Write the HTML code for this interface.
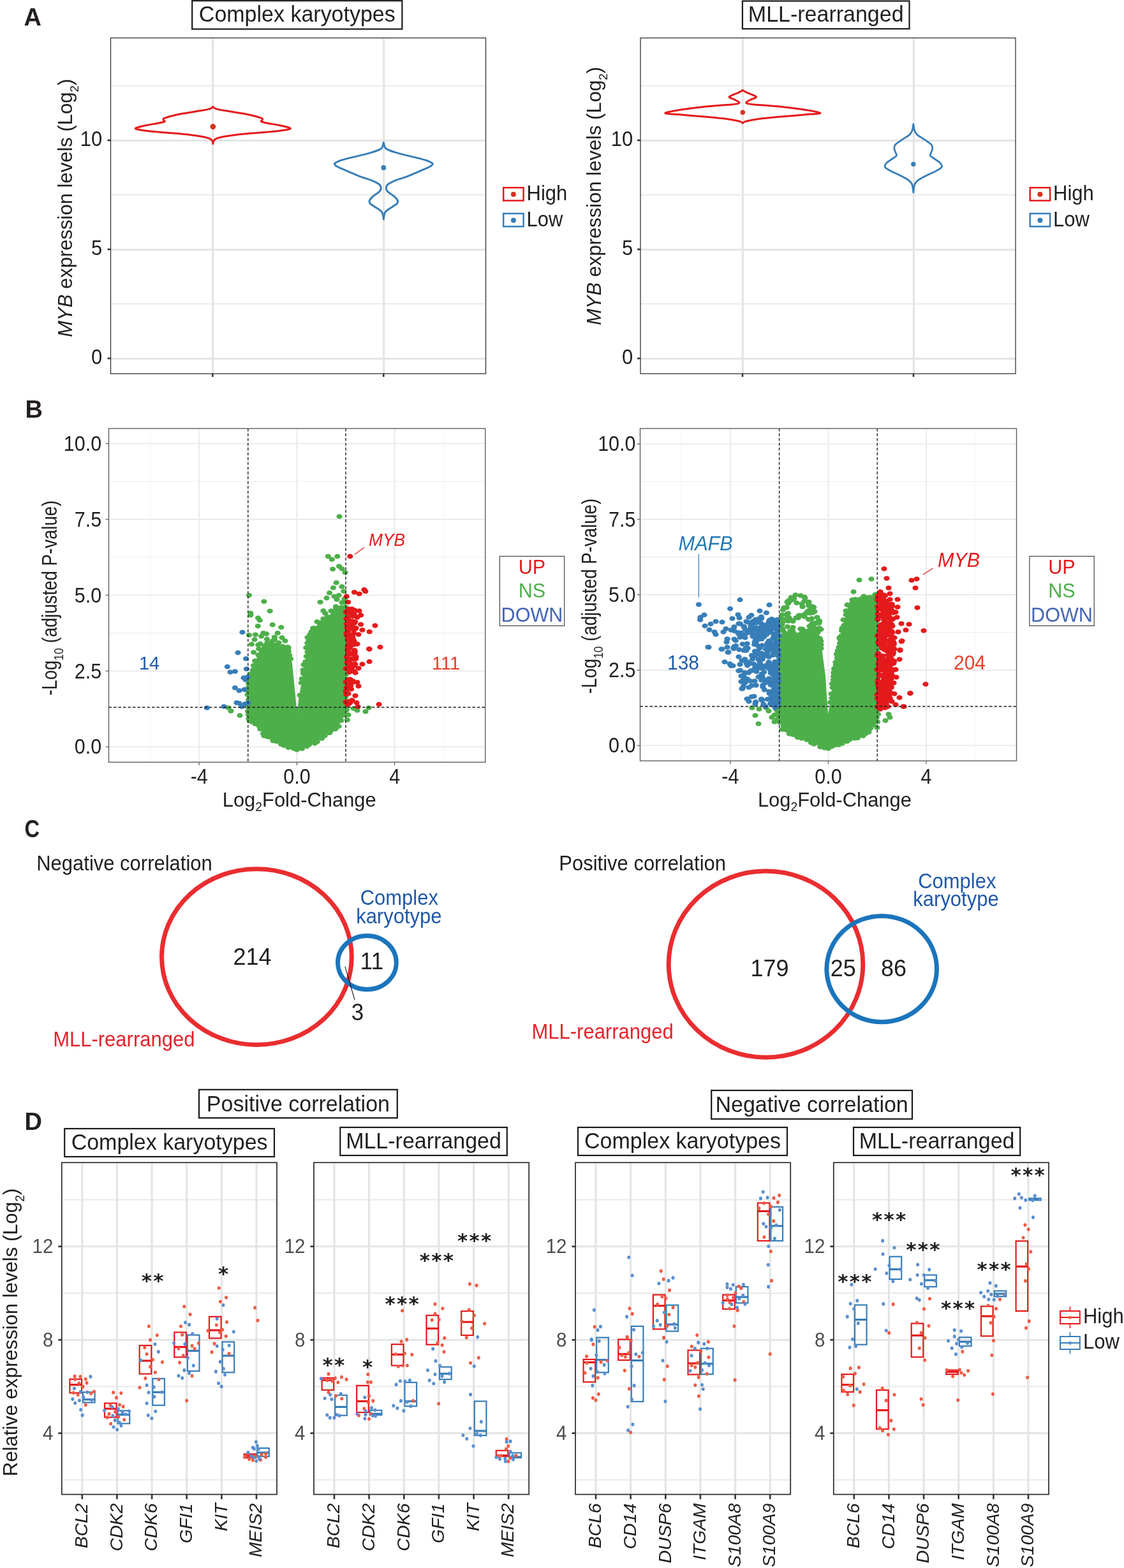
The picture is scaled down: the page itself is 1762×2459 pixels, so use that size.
<!DOCTYPE html>
<html><head><meta charset="utf-8"><title>Figure</title>
<style>html,body{margin:0;padding:0;background:#fff;}svg{display:block;}</style></head>
<body><svg width="1762" height="2459" viewBox="0 0 1762 2459" font-family='"Liberation Sans", Arial, Helvetica, sans-serif' fill="#221e1f">
<rect width="1762" height="2459" fill="#fff"/>
<text x="37.5" y="40" font-size="38" font-weight="bold" fill="#231f20" transform="translate(37.5 40) scale(1.0 1) translate(-37.5 -40)">A</text>
<text x="39.5" y="654.5" font-size="38" font-weight="bold" fill="#231f20" transform="translate(39.5 654.5) scale(1.0 1) translate(-39.5 -654.5)">B</text>
<text x="38.5" y="1313.5" font-size="38" font-weight="bold" fill="#231f20" transform="translate(38.5 1313.5) scale(0.86 1) translate(-38.5 -1313.5)">C</text>
<text x="38.5" y="1772" font-size="38" font-weight="bold" fill="#231f20" transform="translate(38.5 1772) scale(1.0 1) translate(-38.5 -1772)">D</text>
<line x1="173.5" y1="476.5" x2="761.5" y2="476.5" stroke="#e9e9e9" stroke-width="2"/>
<line x1="173.5" y1="305.5" x2="761.5" y2="305.5" stroke="#e9e9e9" stroke-width="2"/>
<line x1="173.5" y1="134.5" x2="761.5" y2="134.5" stroke="#e9e9e9" stroke-width="2"/>
<line x1="173.5" y1="562.4" x2="761.5" y2="562.4" stroke="#e3e5e4" stroke-width="3"/>
<line x1="173.5" y1="391.4" x2="761.5" y2="391.4" stroke="#e3e5e4" stroke-width="3"/>
<line x1="173.5" y1="220.4" x2="761.5" y2="220.4" stroke="#e3e5e4" stroke-width="3"/>
<line x1="333.7" y1="59.5" x2="333.7" y2="586.0" stroke="#e3e5e4" stroke-width="3.2"/>
<line x1="601.7" y1="59.5" x2="601.7" y2="586.0" stroke="#e3e5e4" stroke-width="3.2"/>
<rect x="173.5" y="59.5" width="588.0" height="526.5" fill="none" stroke="#333333" stroke-width="1.3"/>
<line x1="168.5" y1="562.0" x2="173.5" y2="562.0" stroke="#333333" stroke-width="2.6"/>
<text x="0" y="0" font-size="31" text-anchor="end" transform="translate(160.3 571.1) scale(1.0 1.07)">0</text>
<line x1="168.5" y1="391.0" x2="173.5" y2="391.0" stroke="#333333" stroke-width="2.6"/>
<text x="0" y="0" font-size="31" text-anchor="end" transform="translate(160.3 400.1) scale(1.0 1.07)">5</text>
<line x1="168.5" y1="220.0" x2="173.5" y2="220.0" stroke="#333333" stroke-width="2.6"/>
<text x="0" y="0" font-size="31" text-anchor="end" transform="translate(160.3 229.1) scale(1.0 1.07)">10</text>
<line x1="333.3" y1="586.0" x2="333.3" y2="591.0" stroke="#333333" stroke-width="2.6"/>
<line x1="601.3" y1="586.0" x2="601.3" y2="591.0" stroke="#333333" stroke-width="2.6"/>
<rect x="301.2" y="1.2" width="329.2" height="44.4" fill="none" stroke="#1a1a1a" stroke-width="2.2"/>
<text x="0" y="0" font-size="34" text-anchor="middle" transform="translate(465.8 33.6) scale(1 1.045)">Complex karyotypes</text>
<line x1="1004.0" y1="476.5" x2="1592.0" y2="476.5" stroke="#e9e9e9" stroke-width="2"/>
<line x1="1004.0" y1="305.5" x2="1592.0" y2="305.5" stroke="#e9e9e9" stroke-width="2"/>
<line x1="1004.0" y1="134.5" x2="1592.0" y2="134.5" stroke="#e9e9e9" stroke-width="2"/>
<line x1="1004.0" y1="562.4" x2="1592.0" y2="562.4" stroke="#e3e5e4" stroke-width="3"/>
<line x1="1004.0" y1="391.4" x2="1592.0" y2="391.4" stroke="#e3e5e4" stroke-width="3"/>
<line x1="1004.0" y1="220.4" x2="1592.0" y2="220.4" stroke="#e3e5e4" stroke-width="3"/>
<line x1="1164.4" y1="59.5" x2="1164.4" y2="586.0" stroke="#e3e5e4" stroke-width="3.2"/>
<line x1="1432.4" y1="59.5" x2="1432.4" y2="586.0" stroke="#e3e5e4" stroke-width="3.2"/>
<rect x="1004.0" y="59.5" width="588.0" height="526.5" fill="none" stroke="#333333" stroke-width="1.3"/>
<line x1="999.0" y1="562.0" x2="1004.0" y2="562.0" stroke="#333333" stroke-width="2.6"/>
<text x="0" y="0" font-size="31" text-anchor="end" transform="translate(992.3 571.1) scale(1.0 1.07)">0</text>
<line x1="999.0" y1="391.0" x2="1004.0" y2="391.0" stroke="#333333" stroke-width="2.6"/>
<text x="0" y="0" font-size="31" text-anchor="end" transform="translate(992.3 400.1) scale(1.0 1.07)">5</text>
<line x1="999.0" y1="220.0" x2="1004.0" y2="220.0" stroke="#333333" stroke-width="2.6"/>
<text x="0" y="0" font-size="31" text-anchor="end" transform="translate(992.3 229.1) scale(1.0 1.07)">10</text>
<line x1="1164.0" y1="586.0" x2="1164.0" y2="591.0" stroke="#333333" stroke-width="2.6"/>
<line x1="1432.0" y1="586.0" x2="1432.0" y2="591.0" stroke="#333333" stroke-width="2.6"/>
<rect x="1163.9" y="1.6" width="261.6" height="43.6" fill="none" stroke="#1a1a1a" stroke-width="2.2"/>
<text x="0" y="0" font-size="34" text-anchor="middle" transform="translate(1294.7 33.6) scale(1 1.045)">MLL-rearranged</text>
<path d="M333.80,167.30 C334.17,167.67 334.63,168.78 336.00,169.50 C337.37,170.22 338.87,170.88 342.00,171.60 C345.13,172.32 350.50,173.08 354.80,173.80 C359.10,174.52 363.47,175.18 367.80,175.90 C372.13,176.62 376.47,177.30 380.80,178.10 C385.13,178.90 389.97,179.83 393.80,180.70 C397.63,181.57 400.97,182.45 403.80,183.30 C406.63,184.15 409.55,184.95 410.80,185.80 C412.05,186.65 411.50,187.60 411.30,188.40 C411.10,189.20 408.23,189.80 409.60,190.60 C410.97,191.40 414.97,192.27 419.50,193.20 C424.03,194.13 431.48,195.13 436.80,196.20 C442.12,197.27 448.40,198.60 451.40,199.60 C454.40,200.60 456.57,201.33 454.80,202.20 C453.03,203.07 446.68,204.00 440.80,204.80 C434.92,205.60 427.33,206.28 419.50,207.00 C411.67,207.72 402.42,208.32 393.80,209.10 C385.18,209.88 375.00,210.83 367.80,211.70 C360.60,212.57 355.18,213.43 350.60,214.30 C346.02,215.17 342.73,216.05 340.30,216.90 C337.87,217.75 337.00,218.47 336.00,219.40 C335.00,220.33 334.67,221.48 334.30,222.50 C333.93,223.52 333.88,225.00 333.80,225.50 C333.72,225.00 333.67,223.52 333.30,222.50 C332.93,221.48 332.60,220.33 331.60,219.40 C330.60,218.47 329.73,217.75 327.30,216.90 C324.87,216.05 321.58,215.17 317.00,214.30 C312.42,213.43 307.00,212.57 299.80,211.70 C292.60,210.83 282.42,209.88 273.80,209.10 C265.18,208.32 255.93,207.72 248.10,207.00 C240.27,206.28 232.68,205.60 226.80,204.80 C220.92,204.00 214.57,203.07 212.80,202.20 C211.03,201.33 213.20,200.60 216.20,199.60 C219.20,198.60 225.48,197.27 230.80,196.20 C236.12,195.13 243.57,194.13 248.10,193.20 C252.63,192.27 256.63,191.40 258.00,190.60 C259.37,189.80 256.50,189.20 256.30,188.40 C256.10,187.60 255.55,186.65 256.80,185.80 C258.05,184.95 260.97,184.15 263.80,183.30 C266.63,182.45 269.97,181.57 273.80,180.70 C277.63,179.83 282.47,178.90 286.80,178.10 C291.13,177.30 295.47,176.62 299.80,175.90 C304.13,175.18 308.50,174.52 312.80,173.80 C317.10,173.08 322.47,172.32 325.60,171.60 C328.73,170.88 330.23,170.22 331.60,169.50 C332.97,168.78 333.43,167.67 333.80,167.30 Z" fill="none" stroke="#e41a1c" stroke-width="3" stroke-linejoin="round"/>
<circle cx="333.8" cy="198.6" r="4.4" fill="#d7301f"/>
<path d="M601.30,223.40 C601.52,224.27 602.05,227.07 602.60,228.60 C603.15,230.13 603.40,231.45 604.60,232.60 C605.80,233.75 607.32,234.45 609.80,235.50 C612.28,236.55 615.48,237.67 619.50,238.90 C623.52,240.13 628.63,241.57 633.90,242.90 C639.17,244.23 645.37,245.47 651.10,246.90 C656.83,248.33 664.00,250.07 668.30,251.50 C672.60,252.93 675.28,254.45 676.90,255.50 C678.52,256.55 678.48,256.83 678.00,257.80 C677.52,258.77 676.38,259.95 674.00,261.30 C671.62,262.65 667.62,264.18 663.70,265.90 C659.78,267.62 655.00,269.70 650.50,271.60 C646.00,273.50 641.87,275.38 636.70,277.30 C631.53,279.22 624.18,281.18 619.50,283.10 C614.82,285.02 610.88,287.18 608.60,288.80 C606.32,290.42 606.32,291.55 605.80,292.80 C605.28,294.05 605.22,295.05 605.50,296.30 C605.78,297.55 606.12,298.87 607.50,300.30 C608.88,301.73 611.80,303.38 613.80,304.90 C615.80,306.42 617.97,307.88 619.50,309.40 C621.03,310.92 622.33,312.85 623.00,314.00 C623.67,315.15 623.70,315.33 623.50,316.30 C623.30,317.27 623.23,318.45 621.80,319.80 C620.37,321.15 617.18,322.88 614.90,324.40 C612.62,325.92 609.90,327.57 608.10,328.90 C606.30,330.23 605.07,330.97 604.10,332.40 C603.13,333.83 602.77,335.58 602.30,337.50 C601.83,339.42 601.47,342.83 601.30,343.90 C601.13,342.83 600.77,339.42 600.30,337.50 C599.83,335.58 599.47,333.83 598.50,332.40 C597.53,330.97 596.30,330.23 594.50,328.90 C592.70,327.57 589.98,325.92 587.70,324.40 C585.42,322.88 582.23,321.15 580.80,319.80 C579.37,318.45 579.30,317.27 579.10,316.30 C578.90,315.33 578.93,315.15 579.60,314.00 C580.27,312.85 581.57,310.92 583.10,309.40 C584.63,307.88 586.80,306.42 588.80,304.90 C590.80,303.38 593.72,301.73 595.10,300.30 C596.48,298.87 596.82,297.55 597.10,296.30 C597.38,295.05 597.32,294.05 596.80,292.80 C596.28,291.55 596.28,290.42 594.00,288.80 C591.72,287.18 587.78,285.02 583.10,283.10 C578.42,281.18 571.07,279.22 565.90,277.30 C560.73,275.38 556.60,273.50 552.10,271.60 C547.60,269.70 542.82,267.62 538.90,265.90 C534.98,264.18 530.98,262.65 528.60,261.30 C526.22,259.95 525.08,258.77 524.60,257.80 C524.12,256.83 524.08,256.55 525.70,255.50 C527.32,254.45 530.00,252.93 534.30,251.50 C538.60,250.07 545.77,248.33 551.50,246.90 C557.23,245.47 563.43,244.23 568.70,242.90 C573.97,241.57 579.08,240.13 583.10,238.90 C587.12,237.67 590.32,236.55 592.80,235.50 C595.28,234.45 596.80,233.75 598.00,232.60 C599.20,231.45 599.45,230.13 600.00,228.60 C600.55,227.07 601.08,224.27 601.30,223.40 Z" fill="none" stroke="#377eb8" stroke-width="3" stroke-linejoin="round"/>
<circle cx="601.3" cy="263.0" r="3.9" fill="#377eb8"/>
<path d="M1164.30,141.30 C1164.80,141.63 1165.97,142.55 1167.30,143.30 C1168.63,144.05 1170.37,144.97 1172.30,145.80 C1174.23,146.63 1176.97,147.47 1178.90,148.30 C1180.83,149.13 1182.78,150.12 1183.90,150.80 C1185.02,151.48 1185.87,151.85 1185.60,152.40 C1185.33,152.95 1183.85,153.40 1182.30,154.10 C1180.75,154.80 1178.05,155.77 1176.30,156.60 C1174.55,157.43 1172.88,158.42 1171.80,159.10 C1170.72,159.78 1169.88,160.15 1169.80,160.70 C1169.72,161.25 1169.22,161.85 1171.30,162.40 C1173.38,162.95 1176.63,163.45 1182.30,164.00 C1187.97,164.55 1196.97,165.00 1205.30,165.70 C1213.63,166.40 1223.63,167.23 1232.30,168.20 C1240.97,169.17 1249.80,170.38 1257.30,171.50 C1264.80,172.62 1272.63,173.85 1277.30,174.90 C1281.97,175.95 1287.47,177.03 1285.30,177.80 C1283.13,178.57 1271.30,178.88 1264.30,179.50 C1257.30,180.12 1249.97,180.92 1243.30,181.50 C1236.63,182.08 1230.63,182.45 1224.30,183.00 C1217.97,183.55 1211.13,184.22 1205.30,184.80 C1199.47,185.38 1193.70,185.93 1189.30,186.50 C1184.90,187.07 1182.07,187.62 1178.90,188.20 C1175.73,188.78 1172.40,189.45 1170.30,190.00 C1168.20,190.55 1167.30,190.98 1166.30,191.50 C1165.30,192.02 1164.63,192.83 1164.30,193.10 C1163.97,192.83 1163.30,192.02 1162.30,191.50 C1161.30,190.98 1160.40,190.55 1158.30,190.00 C1156.20,189.45 1152.87,188.78 1149.70,188.20 C1146.53,187.62 1143.70,187.07 1139.30,186.50 C1134.90,185.93 1129.13,185.38 1123.30,184.80 C1117.47,184.22 1110.63,183.55 1104.30,183.00 C1097.97,182.45 1091.97,182.08 1085.30,181.50 C1078.63,180.92 1071.30,180.12 1064.30,179.50 C1057.30,178.88 1045.47,178.57 1043.30,177.80 C1041.13,177.03 1046.63,175.95 1051.30,174.90 C1055.97,173.85 1063.80,172.62 1071.30,171.50 C1078.80,170.38 1087.63,169.17 1096.30,168.20 C1104.97,167.23 1114.97,166.40 1123.30,165.70 C1131.63,165.00 1140.63,164.55 1146.30,164.00 C1151.97,163.45 1155.22,162.95 1157.30,162.40 C1159.38,161.85 1158.88,161.25 1158.80,160.70 C1158.72,160.15 1157.88,159.78 1156.80,159.10 C1155.72,158.42 1154.05,157.43 1152.30,156.60 C1150.55,155.77 1147.85,154.80 1146.30,154.10 C1144.75,153.40 1143.27,152.95 1143.00,152.40 C1142.73,151.85 1143.58,151.48 1144.70,150.80 C1145.82,150.12 1147.77,149.13 1149.70,148.30 C1151.63,147.47 1154.37,146.63 1156.30,145.80 C1158.23,144.97 1159.97,144.05 1161.30,143.30 C1162.63,142.55 1163.80,141.63 1164.30,141.30 Z" fill="none" stroke="#e41a1c" stroke-width="3" stroke-linejoin="round"/>
<circle cx="1164.3" cy="176.2" r="3.7" fill="#d7301f"/>
<path d="M1431.80,194.60 C1431.97,195.67 1432.47,199.27 1432.80,201.00 C1433.13,202.73 1432.97,203.27 1433.80,205.00 C1434.63,206.73 1435.30,209.13 1437.80,211.40 C1440.30,213.67 1445.13,216.07 1448.80,218.60 C1452.47,221.13 1457.63,224.20 1459.80,226.60 C1461.97,229.00 1461.83,230.87 1461.80,233.00 C1461.77,235.13 1460.18,237.53 1459.60,239.40 C1459.02,241.27 1457.43,242.60 1458.30,244.20 C1459.17,245.80 1462.25,247.13 1464.80,249.00 C1467.35,250.87 1471.67,253.27 1473.60,255.40 C1475.53,257.53 1477.47,259.67 1476.40,261.80 C1475.33,263.93 1471.00,266.07 1467.20,268.20 C1463.40,270.33 1457.87,272.47 1453.60,274.60 C1449.33,276.73 1444.57,279.10 1441.60,281.00 C1438.63,282.90 1437.18,284.33 1435.80,286.00 C1434.42,287.67 1433.97,288.37 1433.30,291.00 C1432.63,293.63 1432.05,300.00 1431.80,301.80 C1431.55,300.00 1430.97,293.63 1430.30,291.00 C1429.63,288.37 1429.18,287.67 1427.80,286.00 C1426.42,284.33 1424.97,282.90 1422.00,281.00 C1419.03,279.10 1414.27,276.73 1410.00,274.60 C1405.73,272.47 1400.20,270.33 1396.40,268.20 C1392.60,266.07 1388.27,263.93 1387.20,261.80 C1386.13,259.67 1388.07,257.53 1390.00,255.40 C1391.93,253.27 1396.25,250.87 1398.80,249.00 C1401.35,247.13 1404.43,245.80 1405.30,244.20 C1406.17,242.60 1404.58,241.27 1404.00,239.40 C1403.42,237.53 1401.83,235.13 1401.80,233.00 C1401.77,230.87 1401.63,229.00 1403.80,226.60 C1405.97,224.20 1411.13,221.13 1414.80,218.60 C1418.47,216.07 1423.30,213.67 1425.80,211.40 C1428.30,209.13 1428.97,206.73 1429.80,205.00 C1430.63,203.27 1430.47,202.73 1430.80,201.00 C1431.13,199.27 1431.63,195.67 1431.80,194.60 Z" fill="none" stroke="#377eb8" stroke-width="2.8" stroke-linejoin="round"/>
<circle cx="1431.8" cy="257.4" r="3.7" fill="#377eb8"/>
<rect x="789.2" y="294.3" width="31.4" height="20.3" fill="none" stroke="#e41a1c" stroke-width="2.5"/>
<circle cx="804.9" cy="304.8" r="4" fill="#d7301f"/>
<text x="0" y="0" font-size="31" transform="translate(825.6 313.9) scale(1 1.045)">High</text>
<rect x="789.2" y="334.9" width="31.4" height="20.3" fill="none" stroke="#377eb8" stroke-width="2.5"/>
<circle cx="804.9" cy="345.4" r="4" fill="#377eb8"/>
<text x="0" y="0" font-size="31" transform="translate(825.6 354.9) scale(1 1.045)">Low</text>
<rect x="1614.7" y="294.3" width="31.4" height="20.3" fill="none" stroke="#e41a1c" stroke-width="2.5"/>
<circle cx="1630.4" cy="304.8" r="4" fill="#d7301f"/>
<text x="0" y="0" font-size="31" transform="translate(1651.1 313.9) scale(1 1.045)">High</text>
<rect x="1614.7" y="334.9" width="31.4" height="20.3" fill="none" stroke="#377eb8" stroke-width="2.5"/>
<circle cx="1630.4" cy="345.4" r="4" fill="#377eb8"/>
<text x="0" y="0" font-size="31" transform="translate(1651.1 354.9) scale(1 1.045)">Low</text>
<text x="113" y="326.2" font-size="31" text-anchor="middle" transform="rotate(-90 113 326.2)"><tspan font-style="italic">MYB</tspan> expression levels (Log<tspan font-size="19" dy="10">2</tspan><tspan dy="-10">)</tspan></text>
<text x="941.5" y="307.5" font-size="31" text-anchor="middle" transform="rotate(-90 941.5 307.5)"><tspan font-style="italic">MYB</tspan> expression levels (Log<tspan font-size="19" dy="10">2</tspan><tspan dy="-10">)</tspan></text>
<line x1="170.5" y1="1111.8" x2="760.8" y2="1111.8" stroke="#ebebeb" stroke-width="1.1"/>
<line x1="170.5" y1="992.9" x2="760.8" y2="992.9" stroke="#ebebeb" stroke-width="1.1"/>
<line x1="170.5" y1="874.0" x2="760.8" y2="874.0" stroke="#ebebeb" stroke-width="1.1"/>
<line x1="170.5" y1="755.0" x2="760.8" y2="755.0" stroke="#ebebeb" stroke-width="1.1"/>
<line x1="235.6" y1="672.0" x2="235.6" y2="1195.3" stroke="#f5f5f5" stroke-width="1.2"/>
<line x1="388.8" y1="672.0" x2="388.8" y2="1195.3" stroke="#f5f5f5" stroke-width="1.2"/>
<line x1="542.0" y1="672.0" x2="542.0" y2="1195.3" stroke="#f5f5f5" stroke-width="1.2"/>
<line x1="695.2" y1="672.0" x2="695.2" y2="1195.3" stroke="#f5f5f5" stroke-width="1.2"/>
<line x1="170.5" y1="1171.2" x2="760.8" y2="1171.2" stroke="#e3e3e3" stroke-width="1.3"/>
<line x1="170.5" y1="1052.3" x2="760.8" y2="1052.3" stroke="#e3e3e3" stroke-width="1.3"/>
<line x1="170.5" y1="933.4" x2="760.8" y2="933.4" stroke="#e3e3e3" stroke-width="1.3"/>
<line x1="170.5" y1="814.5" x2="760.8" y2="814.5" stroke="#e3e3e3" stroke-width="1.3"/>
<line x1="170.5" y1="695.6" x2="760.8" y2="695.6" stroke="#e3e3e3" stroke-width="1.3"/>
<line x1="312.2" y1="672.0" x2="312.2" y2="1195.3" stroke="#ebebeb" stroke-width="2.2"/>
<line x1="465.4" y1="672.0" x2="465.4" y2="1195.3" stroke="#ebebeb" stroke-width="2.2"/>
<line x1="618.6" y1="672.0" x2="618.6" y2="1195.3" stroke="#ebebeb" stroke-width="2.2"/>
<path d="M465.6,1175.6 L452.0,1172.0 L440.0,1166.0 L424.0,1158.0 L412.0,1150.0 L406.0,1140.0 L396.0,1132.0 L390.0,1126.0 L388.6,1115.0 L388.6,1066.0 L394.0,1058.0 L396.0,1044.0 L401.0,1036.0 L404.0,1028.0 L407.0,1018.0 L413.0,1012.0 L420.0,1009.0 L428.0,1007.0 L436.0,1009.0 L443.0,1014.0 L452.0,1014.0 L455.0,1028.0 L458.0,1040.0 L460.0,1060.0 L463.0,1090.0 L465.5,1118.0 L469.0,1090.0 L473.0,1070.0 L476.0,1050.0 L480.0,1030.0 L482.0,1010.0 L483.0,1000.0 L488.0,992.0 L491.0,984.0 L500.0,980.0 L508.0,972.0 L515.0,966.0 L522.0,960.0 L528.0,955.0 L535.0,952.0 L542.0,950.0 L542.0,1114.0 L540.0,1122.0 L536.0,1130.0 L530.0,1138.0 L520.0,1146.0 L510.0,1154.0 L492.0,1166.0 L480.0,1172.0 Z" fill="#4daf4a"/>
<g fill="#4daf4a"><ellipse cx="465.4" cy="1175.8" rx="4.6" ry="3.8"/><ellipse cx="460.2" cy="1173.7" rx="4.6" ry="3.8"/><ellipse cx="452.0" cy="1172.3" rx="4.6" ry="3.8"/><ellipse cx="445.0" cy="1169.0" rx="4.6" ry="3.8"/><ellipse cx="440.4" cy="1166.9" rx="4.6" ry="3.8"/><ellipse cx="433.4" cy="1162.7" rx="4.6" ry="3.8"/><ellipse cx="428.0" cy="1161.7" rx="4.6" ry="3.8"/><ellipse cx="424.6" cy="1156.5" rx="4.6" ry="3.8"/><ellipse cx="419.5" cy="1155.5" rx="4.6" ry="3.8"/><ellipse cx="412.5" cy="1150.4" rx="4.6" ry="3.8"/><ellipse cx="407.9" cy="1143.4" rx="4.6" ry="3.8"/><ellipse cx="406.1" cy="1138.6" rx="4.6" ry="3.8"/><ellipse cx="400.0" cy="1135.2" rx="4.6" ry="3.8"/><ellipse cx="394.5" cy="1131.9" rx="4.6" ry="3.8"/><ellipse cx="389.8" cy="1127.1" rx="4.6" ry="3.8"/><ellipse cx="389.4" cy="1120.9" rx="4.6" ry="3.8"/><ellipse cx="388.6" cy="1115.5" rx="4.6" ry="3.8"/><ellipse cx="388.5" cy="1108.2" rx="4.6" ry="3.8"/><ellipse cx="390.2" cy="1104.3" rx="4.6" ry="3.8"/><ellipse cx="389.7" cy="1097.3" rx="4.6" ry="3.8"/><ellipse cx="388.0" cy="1089.6" rx="4.6" ry="3.8"/><ellipse cx="387.9" cy="1083.0" rx="4.6" ry="3.8"/><ellipse cx="389.5" cy="1077.9" rx="4.6" ry="3.8"/><ellipse cx="389.7" cy="1071.8" rx="4.6" ry="3.8"/><ellipse cx="390.1" cy="1067.1" rx="4.6" ry="3.8"/><ellipse cx="392.4" cy="1057.1" rx="4.6" ry="3.8"/><ellipse cx="396.3" cy="1050.9" rx="4.6" ry="3.8"/><ellipse cx="397.5" cy="1043.7" rx="4.6" ry="3.8"/><ellipse cx="399.6" cy="1036.4" rx="4.6" ry="3.8"/><ellipse cx="404.9" cy="1027.3" rx="4.6" ry="3.8"/><ellipse cx="405.7" cy="1017.5" rx="4.6" ry="3.8"/><ellipse cx="414.5" cy="1012.8" rx="4.6" ry="3.8"/><ellipse cx="418.8" cy="1008.2" rx="4.6" ry="3.8"/><ellipse cx="426.7" cy="1005.6" rx="4.6" ry="3.8"/><ellipse cx="437.0" cy="1008.0" rx="4.6" ry="3.8"/><ellipse cx="443.2" cy="1013.8" rx="4.6" ry="3.8"/><ellipse cx="451.0" cy="1014.7" rx="4.6" ry="3.8"/><ellipse cx="452.3" cy="1021.5" rx="4.6" ry="3.8"/><ellipse cx="453.8" cy="1027.7" rx="4.6" ry="3.8"/><ellipse cx="455.6" cy="1033.3" rx="4.6" ry="3.8"/><ellipse cx="467.5" cy="1113.4" rx="4.6" ry="3.8"/><ellipse cx="470.2" cy="1090.3" rx="4.6" ry="3.8"/><ellipse cx="472.2" cy="1070.7" rx="4.6" ry="3.8"/><ellipse cx="473.2" cy="1064.4" rx="4.6" ry="3.8"/><ellipse cx="475.3" cy="1056.0" rx="4.6" ry="3.8"/><ellipse cx="475.0" cy="1050.7" rx="4.6" ry="3.8"/><ellipse cx="476.0" cy="1042.5" rx="4.6" ry="3.8"/><ellipse cx="478.9" cy="1037.8" rx="4.6" ry="3.8"/><ellipse cx="480.4" cy="1029.3" rx="4.6" ry="3.8"/><ellipse cx="482.0" cy="1022.4" rx="4.6" ry="3.8"/><ellipse cx="479.8" cy="1015.9" rx="4.6" ry="3.8"/><ellipse cx="481.8" cy="1008.6" rx="4.6" ry="3.8"/><ellipse cx="482.0" cy="999.6" rx="4.6" ry="3.8"/><ellipse cx="488.2" cy="990.8" rx="4.6" ry="3.8"/><ellipse cx="490.6" cy="985.3" rx="4.6" ry="3.8"/><ellipse cx="501.5" cy="980.5" rx="4.6" ry="3.8"/><ellipse cx="504.6" cy="976.3" rx="4.6" ry="3.8"/><ellipse cx="506.8" cy="970.5" rx="4.6" ry="3.8"/><ellipse cx="513.5" cy="967.3" rx="4.6" ry="3.8"/><ellipse cx="522.6" cy="961.5" rx="4.6" ry="3.8"/><ellipse cx="526.5" cy="955.4" rx="4.6" ry="3.8"/><ellipse cx="534.9" cy="952.7" rx="4.6" ry="3.8"/><ellipse cx="541.4" cy="951.6" rx="4.6" ry="3.8"/><ellipse cx="540.6" cy="955.8" rx="4.6" ry="3.8"/><ellipse cx="542.8" cy="962.6" rx="4.6" ry="3.8"/><ellipse cx="542.8" cy="967.6" rx="4.6" ry="3.8"/><ellipse cx="542.9" cy="973.9" rx="4.6" ry="3.8"/><ellipse cx="541.5" cy="978.9" rx="4.6" ry="3.8"/><ellipse cx="543.3" cy="985.1" rx="4.6" ry="3.8"/><ellipse cx="541.7" cy="990.5" rx="4.6" ry="3.8"/><ellipse cx="543.2" cy="995.5" rx="4.6" ry="3.8"/><ellipse cx="542.4" cy="1000.5" rx="4.6" ry="3.8"/><ellipse cx="542.3" cy="1006.9" rx="4.6" ry="3.8"/><ellipse cx="540.7" cy="1012.7" rx="4.6" ry="3.8"/><ellipse cx="543.6" cy="1019.1" rx="4.6" ry="3.8"/><ellipse cx="542.7" cy="1023.2" rx="4.6" ry="3.8"/><ellipse cx="542.8" cy="1029.4" rx="4.6" ry="3.8"/><ellipse cx="541.8" cy="1035.9" rx="4.6" ry="3.8"/><ellipse cx="540.7" cy="1041.3" rx="4.6" ry="3.8"/><ellipse cx="540.5" cy="1046.5" rx="4.6" ry="3.8"/><ellipse cx="541.9" cy="1050.9" rx="4.6" ry="3.8"/><ellipse cx="542.6" cy="1057.4" rx="4.6" ry="3.8"/><ellipse cx="542.4" cy="1064.4" rx="4.6" ry="3.8"/><ellipse cx="541.2" cy="1067.2" rx="4.6" ry="3.8"/><ellipse cx="541.4" cy="1075.0" rx="4.6" ry="3.8"/><ellipse cx="541.0" cy="1079.0" rx="4.6" ry="3.8"/><ellipse cx="543.3" cy="1086.2" rx="4.6" ry="3.8"/><ellipse cx="541.8" cy="1092.6" rx="4.6" ry="3.8"/><ellipse cx="541.4" cy="1097.6" rx="4.6" ry="3.8"/><ellipse cx="541.0" cy="1102.5" rx="4.6" ry="3.8"/><ellipse cx="543.0" cy="1109.7" rx="4.6" ry="3.8"/><ellipse cx="543.2" cy="1113.6" rx="4.6" ry="3.8"/><ellipse cx="540.3" cy="1121.4" rx="4.6" ry="3.8"/><ellipse cx="534.8" cy="1130.0" rx="4.6" ry="3.8"/><ellipse cx="531.1" cy="1139.1" rx="4.6" ry="3.8"/><ellipse cx="525.7" cy="1143.4" rx="4.6" ry="3.8"/><ellipse cx="519.3" cy="1144.9" rx="4.6" ry="3.8"/><ellipse cx="514.8" cy="1149.3" rx="4.6" ry="3.8"/><ellipse cx="509.1" cy="1153.7" rx="4.6" ry="3.8"/><ellipse cx="504.4" cy="1158.0" rx="4.6" ry="3.8"/><ellipse cx="497.4" cy="1163.1" rx="4.6" ry="3.8"/><ellipse cx="493.5" cy="1165.8" rx="4.6" ry="3.8"/><ellipse cx="484.6" cy="1167.5" rx="4.6" ry="3.8"/><ellipse cx="481.2" cy="1170.5" rx="4.6" ry="3.8"/><ellipse cx="473.5" cy="1174.0" rx="4.6" ry="3.8"/><ellipse cx="514.4" cy="872.5" rx="4.6" ry="3.8"/><ellipse cx="528.8" cy="872.5" rx="4.6" ry="3.8"/><ellipse cx="520.3" cy="877.3" rx="4.6" ry="3.8"/><ellipse cx="521.6" cy="892.5" rx="4.6" ry="3.8"/><ellipse cx="531.5" cy="888.0" rx="4.6" ry="3.8"/><ellipse cx="536.0" cy="892.0" rx="4.6" ry="3.8"/><ellipse cx="541.1" cy="897.8" rx="4.6" ry="3.8"/><ellipse cx="532.0" cy="810.0" rx="4.6" ry="3.8"/><ellipse cx="527.2" cy="913.9" rx="4.6" ry="3.8"/><ellipse cx="536.0" cy="920.0" rx="4.6" ry="3.8"/><ellipse cx="522.4" cy="921.8" rx="4.6" ry="3.8"/><ellipse cx="538.9" cy="927.2" rx="4.6" ry="3.8"/><ellipse cx="516.5" cy="929.8" rx="4.6" ry="3.8"/><ellipse cx="524.0" cy="935.2" rx="4.6" ry="3.8"/><ellipse cx="531.2" cy="933.6" rx="4.6" ry="3.8"/><ellipse cx="512.0" cy="937.9" rx="4.6" ry="3.8"/><ellipse cx="528.0" cy="940.0" rx="4.6" ry="3.8"/><ellipse cx="540.0" cy="939.2" rx="4.6" ry="3.8"/><ellipse cx="502.1" cy="944.3" rx="4.6" ry="3.8"/><ellipse cx="526.4" cy="951.2" rx="4.6" ry="3.8"/><ellipse cx="534.4" cy="953.6" rx="4.6" ry="3.8"/><ellipse cx="506.9" cy="957.9" rx="4.6" ry="3.8"/><ellipse cx="390.4" cy="933.6" rx="4.6" ry="3.8"/><ellipse cx="413.9" cy="943.2" rx="4.6" ry="3.8"/><ellipse cx="423.2" cy="958.2" rx="4.6" ry="3.8"/><ellipse cx="392.8" cy="961.6" rx="4.6" ry="3.8"/><ellipse cx="392.8" cy="964.8" rx="4.6" ry="3.8"/><ellipse cx="404.5" cy="969.1" rx="4.6" ry="3.8"/><ellipse cx="407.2" cy="972.8" rx="4.6" ry="3.8"/><ellipse cx="427.2" cy="979.7" rx="4.6" ry="3.8"/><ellipse cx="404.3" cy="981.9" rx="4.6" ry="3.8"/><ellipse cx="440.8" cy="983.7" rx="4.6" ry="3.8"/><ellipse cx="390.4" cy="996.0" rx="4.6" ry="3.8"/><ellipse cx="400.3" cy="995.2" rx="4.6" ry="3.8"/><ellipse cx="412.8" cy="992.8" rx="4.6" ry="3.8"/><ellipse cx="417.6" cy="994.1" rx="4.6" ry="3.8"/><ellipse cx="435.2" cy="992.8" rx="4.6" ry="3.8"/><ellipse cx="409.6" cy="997.9" rx="4.6" ry="3.8"/><ellipse cx="418.4" cy="1002.4" rx="4.6" ry="3.8"/><ellipse cx="430.4" cy="999.2" rx="4.6" ry="3.8"/><ellipse cx="430.4" cy="1003.2" rx="4.6" ry="3.8"/><ellipse cx="394.4" cy="1010.4" rx="4.6" ry="3.8"/><ellipse cx="404.8" cy="1011.2" rx="4.6" ry="3.8"/><ellipse cx="408.0" cy="1009.6" rx="4.6" ry="3.8"/><ellipse cx="424.0" cy="1010.4" rx="4.6" ry="3.8"/><ellipse cx="435.2" cy="1012.0" rx="4.6" ry="3.8"/><ellipse cx="452.0" cy="1016.0" rx="4.6" ry="3.8"/><ellipse cx="447.0" cy="1005.0" rx="4.6" ry="3.8"/><ellipse cx="442.0" cy="1000.0" rx="4.6" ry="3.8"/><ellipse cx="399.0" cy="1003.0" rx="4.6" ry="3.8"/><ellipse cx="397.6" cy="1023.0" rx="4.6" ry="3.8"/><ellipse cx="452.0" cy="1016.0" rx="4.6" ry="3.8"/><ellipse cx="358.0" cy="1110.0" rx="4.6" ry="3.8"/><ellipse cx="362.0" cy="1115.0" rx="4.6" ry="3.8"/><ellipse cx="376.0" cy="1122.0" rx="4.6" ry="3.8"/><ellipse cx="391.0" cy="1130.0" rx="4.6" ry="3.8"/><ellipse cx="414.0" cy="1154.0" rx="4.6" ry="3.8"/><ellipse cx="546.0" cy="1121.0" rx="4.6" ry="3.8"/><ellipse cx="544.4" cy="1129.0" rx="4.6" ry="3.8"/><ellipse cx="554.0" cy="1111.0" rx="4.6" ry="3.8"/><ellipse cx="560.0" cy="1114.0" rx="4.6" ry="3.8"/><ellipse cx="573.0" cy="1116.0" rx="4.6" ry="3.8"/><ellipse cx="578.0" cy="1110.0" rx="4.6" ry="3.8"/><ellipse cx="517.0" cy="1149.0" rx="4.6" ry="3.8"/><ellipse cx="528.0" cy="1139.0" rx="4.6" ry="3.8"/><ellipse cx="497.0" cy="975.0" rx="4.6" ry="3.8"/><ellipse cx="510.0" cy="962.0" rx="4.6" ry="3.8"/><ellipse cx="519.0" cy="958.0" rx="4.6" ry="3.8"/><ellipse cx="493.0" cy="985.0" rx="4.6" ry="3.8"/><ellipse cx="486.0" cy="995.0" rx="4.6" ry="3.8"/><ellipse cx="484.0" cy="1004.0" rx="4.6" ry="3.8"/><ellipse cx="536.0" cy="945.0" rx="4.6" ry="3.8"/><ellipse cx="540.0" cy="944.0" rx="4.6" ry="3.8"/></g>
<g fill="#e41a1c"><ellipse cx="545.8" cy="1037.1" rx="4.6" ry="3.8"/><ellipse cx="547.9" cy="1046.6" rx="4.6" ry="3.8"/><ellipse cx="552.0" cy="960.5" rx="4.6" ry="3.8"/><ellipse cx="542.2" cy="1084.0" rx="4.6" ry="3.8"/><ellipse cx="546.1" cy="987.5" rx="4.6" ry="3.8"/><ellipse cx="555.4" cy="1026.2" rx="4.6" ry="3.8"/><ellipse cx="552.2" cy="974.1" rx="4.6" ry="3.8"/><ellipse cx="550.4" cy="1068.6" rx="4.6" ry="3.8"/><ellipse cx="552.7" cy="960.2" rx="4.6" ry="3.8"/><ellipse cx="554.1" cy="1044.6" rx="4.6" ry="3.8"/><ellipse cx="546.8" cy="955.0" rx="4.6" ry="3.8"/><ellipse cx="555.8" cy="1025.6" rx="4.6" ry="3.8"/><ellipse cx="548.3" cy="1078.1" rx="4.6" ry="3.8"/><ellipse cx="549.1" cy="1099.7" rx="4.6" ry="3.8"/><ellipse cx="556.1" cy="965.6" rx="4.6" ry="3.8"/><ellipse cx="544.2" cy="984.7" rx="4.6" ry="3.8"/><ellipse cx="552.0" cy="998.2" rx="4.6" ry="3.8"/><ellipse cx="550.1" cy="1011.7" rx="4.6" ry="3.8"/><ellipse cx="547.6" cy="1043.6" rx="4.6" ry="3.8"/><ellipse cx="552.7" cy="976.1" rx="4.6" ry="3.8"/><ellipse cx="556.5" cy="1041.1" rx="4.6" ry="3.8"/><ellipse cx="553.4" cy="983.8" rx="4.6" ry="3.8"/><ellipse cx="555.3" cy="1041.8" rx="4.6" ry="3.8"/><ellipse cx="546.6" cy="960.2" rx="4.6" ry="3.8"/><ellipse cx="543.4" cy="1078.1" rx="4.6" ry="3.8"/><ellipse cx="548.6" cy="974.1" rx="4.6" ry="3.8"/><ellipse cx="546.7" cy="1073.0" rx="4.6" ry="3.8"/><ellipse cx="556.0" cy="957.1" rx="4.6" ry="3.8"/><ellipse cx="551.8" cy="957.2" rx="4.6" ry="3.8"/><ellipse cx="553.5" cy="1003.0" rx="4.6" ry="3.8"/><ellipse cx="547.0" cy="962.3" rx="4.6" ry="3.8"/><ellipse cx="551.6" cy="955.0" rx="4.6" ry="3.8"/><ellipse cx="545.2" cy="1015.3" rx="4.6" ry="3.8"/><ellipse cx="551.8" cy="975.0" rx="4.6" ry="3.8"/><ellipse cx="542.7" cy="1088.8" rx="4.6" ry="3.8"/><ellipse cx="547.0" cy="1103.4" rx="4.6" ry="3.8"/><ellipse cx="556.3" cy="1010.4" rx="4.6" ry="3.8"/><ellipse cx="549.4" cy="1033.2" rx="4.6" ry="3.8"/><ellipse cx="552.3" cy="1045.3" rx="4.6" ry="3.8"/><ellipse cx="550.9" cy="1049.2" rx="4.6" ry="3.8"/><ellipse cx="557.0" cy="1031.1" rx="4.6" ry="3.8"/><ellipse cx="548.9" cy="1065.2" rx="4.6" ry="3.8"/><ellipse cx="545.8" cy="998.2" rx="4.6" ry="3.8"/><ellipse cx="557.6" cy="1033.4" rx="4.6" ry="3.8"/><ellipse cx="548.6" cy="1042.8" rx="4.6" ry="3.8"/><ellipse cx="542.3" cy="1048.5" rx="4.6" ry="3.8"/><ellipse cx="552.1" cy="959.6" rx="4.6" ry="3.8"/><ellipse cx="552.0" cy="1024.6" rx="4.6" ry="3.8"/><ellipse cx="552.9" cy="1006.4" rx="4.6" ry="3.8"/><ellipse cx="553.3" cy="1068.1" rx="4.6" ry="3.8"/><ellipse cx="542.4" cy="959.7" rx="4.6" ry="3.8"/><ellipse cx="546.0" cy="1023.0" rx="4.6" ry="3.8"/><ellipse cx="551.5" cy="1001.2" rx="4.6" ry="3.8"/><ellipse cx="547.8" cy="1000.0" rx="4.6" ry="3.8"/><ellipse cx="547.9" cy="1045.3" rx="4.6" ry="3.8"/><ellipse cx="546.8" cy="1010.3" rx="4.6" ry="3.8"/><ellipse cx="551.1" cy="1067.6" rx="4.6" ry="3.8"/><ellipse cx="547.0" cy="985.6" rx="4.6" ry="3.8"/><ellipse cx="554.9" cy="988.2" rx="4.6" ry="3.8"/><ellipse cx="545.0" cy="1019.6" rx="4.6" ry="3.8"/><ellipse cx="553.2" cy="966.3" rx="4.6" ry="3.8"/><ellipse cx="547.2" cy="1003.4" rx="4.6" ry="3.8"/><ellipse cx="555.3" cy="1020.1" rx="4.6" ry="3.8"/><ellipse cx="555.7" cy="977.1" rx="4.6" ry="3.8"/><ellipse cx="547.4" cy="1054.0" rx="4.6" ry="3.8"/><ellipse cx="556.2" cy="1022.2" rx="4.6" ry="3.8"/><ellipse cx="545.6" cy="969.3" rx="4.6" ry="3.8"/><ellipse cx="550.5" cy="980.5" rx="4.6" ry="3.8"/><ellipse cx="544.9" cy="994.6" rx="4.6" ry="3.8"/><ellipse cx="554.9" cy="1052.7" rx="4.6" ry="3.8"/><ellipse cx="554.9" cy="1005.2" rx="4.6" ry="3.8"/><ellipse cx="544.1" cy="996.7" rx="4.6" ry="3.8"/><ellipse cx="554.7" cy="993.4" rx="4.6" ry="3.8"/><ellipse cx="547.5" cy="1016.7" rx="4.6" ry="3.8"/><ellipse cx="548.7" cy="1015.5" rx="4.6" ry="3.8"/><ellipse cx="556.7" cy="975.0" rx="4.6" ry="3.8"/><ellipse cx="542.1" cy="1100.9" rx="4.6" ry="3.8"/><ellipse cx="548.9" cy="1102.0" rx="4.6" ry="3.8"/><ellipse cx="556.8" cy="985.5" rx="4.6" ry="3.8"/><ellipse cx="552.6" cy="1033.0" rx="4.6" ry="3.8"/><ellipse cx="546.6" cy="1004.6" rx="4.6" ry="3.8"/><ellipse cx="545.6" cy="960.9" rx="4.6" ry="3.8"/><ellipse cx="551.4" cy="995.9" rx="4.6" ry="3.8"/><ellipse cx="555.0" cy="957.2" rx="4.6" ry="3.8"/><ellipse cx="556.4" cy="1042.3" rx="4.6" ry="3.8"/><ellipse cx="542.2" cy="1069.2" rx="4.6" ry="3.8"/><ellipse cx="544.7" cy="998.0" rx="4.6" ry="3.8"/><ellipse cx="552.6" cy="1034.0" rx="4.6" ry="3.8"/><ellipse cx="548.6" cy="1100.2" rx="4.6" ry="3.8"/><ellipse cx="551.8" cy="1004.6" rx="4.6" ry="3.8"/><ellipse cx="546.0" cy="1087.9" rx="4.6" ry="3.8"/><ellipse cx="549.6" cy="1075.2" rx="4.6" ry="3.8"/><ellipse cx="547.6" cy="981.6" rx="4.6" ry="3.8"/><ellipse cx="550.6" cy="1080.7" rx="4.6" ry="3.8"/><ellipse cx="544.7" cy="1076.7" rx="4.6" ry="3.8"/><ellipse cx="542.8" cy="993.4" rx="4.6" ry="3.8"/><ellipse cx="546.3" cy="1034.4" rx="4.6" ry="3.8"/><ellipse cx="548.8" cy="1025.7" rx="4.6" ry="3.8"/><ellipse cx="542.9" cy="970.3" rx="4.6" ry="3.8"/><ellipse cx="544.0" cy="960.9" rx="4.6" ry="3.8"/><ellipse cx="543.4" cy="1030.3" rx="4.6" ry="3.8"/><ellipse cx="547.1" cy="1000.3" rx="4.6" ry="3.8"/><ellipse cx="547.6" cy="1053.5" rx="4.6" ry="3.8"/><ellipse cx="551.4" cy="1007.7" rx="4.6" ry="3.8"/><ellipse cx="545.1" cy="1002.6" rx="4.6" ry="3.8"/><ellipse cx="544.0" cy="1038.9" rx="4.6" ry="3.8"/><ellipse cx="553.5" cy="1010.8" rx="4.6" ry="3.8"/><ellipse cx="543.3" cy="978.6" rx="4.6" ry="3.8"/><ellipse cx="548.0" cy="1046.7" rx="4.6" ry="3.8"/><ellipse cx="554.5" cy="1010.8" rx="4.6" ry="3.8"/></g>
<g fill="#e41a1c"><ellipse cx="548.8" cy="872.5" rx="4.6" ry="3.8"/><ellipse cx="555.5" cy="928.8" rx="4.6" ry="3.8"/><ellipse cx="563.2" cy="931.2" rx="4.6" ry="3.8"/><ellipse cx="570.9" cy="924.8" rx="4.6" ry="3.8"/><ellipse cx="572.8" cy="927.5" rx="4.6" ry="3.8"/><ellipse cx="543.2" cy="935.2" rx="4.6" ry="3.8"/><ellipse cx="545.6" cy="944.3" rx="4.6" ry="3.8"/><ellipse cx="565.6" cy="964.8" rx="4.6" ry="3.8"/><ellipse cx="565.6" cy="979.2" rx="4.6" ry="3.8"/><ellipse cx="588.0" cy="981.1" rx="4.6" ry="3.8"/><ellipse cx="579.2" cy="990.7" rx="4.6" ry="3.8"/><ellipse cx="568.0" cy="988.0" rx="4.6" ry="3.8"/><ellipse cx="596.0" cy="1014.9" rx="4.6" ry="3.8"/><ellipse cx="578.7" cy="1017.6" rx="4.6" ry="3.8"/><ellipse cx="579.0" cy="1018.0" rx="4.6" ry="3.8"/><ellipse cx="579.0" cy="1037.6" rx="4.6" ry="3.8"/><ellipse cx="568.0" cy="1041.6" rx="4.6" ry="3.8"/><ellipse cx="558.0" cy="1030.0" rx="4.6" ry="3.8"/><ellipse cx="560.0" cy="1070.0" rx="4.6" ry="3.8"/><ellipse cx="562.0" cy="1076.0" rx="4.6" ry="3.8"/><ellipse cx="557.0" cy="1091.0" rx="4.6" ry="3.8"/><ellipse cx="559.0" cy="1102.0" rx="4.6" ry="3.8"/><ellipse cx="561.0" cy="1108.0" rx="4.6" ry="3.8"/><ellipse cx="594.0" cy="1104.6" rx="4.6" ry="3.8"/><ellipse cx="550.0" cy="958.0" rx="4.6" ry="3.8"/><ellipse cx="555.0" cy="962.0" rx="4.6" ry="3.8"/><ellipse cx="560.0" cy="968.0" rx="4.6" ry="3.8"/><ellipse cx="552.0" cy="975.0" rx="4.6" ry="3.8"/><ellipse cx="558.0" cy="985.0" rx="4.6" ry="3.8"/><ellipse cx="562.0" cy="995.0" rx="4.6" ry="3.8"/><ellipse cx="553.0" cy="1000.0" rx="4.6" ry="3.8"/><ellipse cx="560.0" cy="1010.0" rx="4.6" ry="3.8"/><ellipse cx="556.0" cy="1020.0" rx="4.6" ry="3.8"/><ellipse cx="562.0" cy="1048.0" rx="4.6" ry="3.8"/><ellipse cx="557.0" cy="1055.0" rx="4.6" ry="3.8"/><ellipse cx="553.0" cy="1070.0" rx="4.6" ry="3.8"/><ellipse cx="548.0" cy="1080.0" rx="4.6" ry="3.8"/><ellipse cx="552.0" cy="1098.0" rx="4.6" ry="3.8"/><ellipse cx="545.0" cy="1105.0" rx="4.6" ry="3.8"/><ellipse cx="548.0" cy="1040.0" rx="4.6" ry="3.8"/><ellipse cx="563.0" cy="958.0" rx="4.6" ry="3.8"/><ellipse cx="546.0" cy="990.0" rx="4.6" ry="3.8"/><ellipse cx="546.0" cy="1066.0" rx="4.6" ry="3.8"/></g>
<g fill="#377eb8"><ellipse cx="380.0" cy="991.5" rx="4.6" ry="3.8"/><ellipse cx="373.0" cy="1023.6" rx="4.6" ry="3.8"/><ellipse cx="385.6" cy="1033.0" rx="4.6" ry="3.8"/><ellipse cx="356.4" cy="1045.6" rx="4.6" ry="3.8"/><ellipse cx="386.4" cy="1049.0" rx="4.6" ry="3.8"/><ellipse cx="361.0" cy="1054.0" rx="4.6" ry="3.8"/><ellipse cx="368.4" cy="1053.0" rx="4.6" ry="3.8"/><ellipse cx="382.0" cy="1063.0" rx="4.6" ry="3.8"/><ellipse cx="385.0" cy="1066.0" rx="4.6" ry="3.8"/><ellipse cx="388.0" cy="1061.6" rx="4.6" ry="3.8"/><ellipse cx="368.4" cy="1078.6" rx="4.6" ry="3.8"/><ellipse cx="375.0" cy="1083.0" rx="4.6" ry="3.8"/><ellipse cx="383.0" cy="1081.4" rx="4.6" ry="3.8"/><ellipse cx="371.0" cy="1102.0" rx="4.6" ry="3.8"/><ellipse cx="375.0" cy="1103.0" rx="4.6" ry="3.8"/><ellipse cx="384.0" cy="1104.0" rx="4.6" ry="3.8"/><ellipse cx="389.0" cy="1102.0" rx="4.6" ry="3.8"/><ellipse cx="379.0" cy="1108.0" rx="4.6" ry="3.8"/><ellipse cx="351.0" cy="1108.0" rx="4.6" ry="3.8"/><ellipse cx="324.4" cy="1110.0" rx="4.6" ry="3.8"/></g>
<line x1="556.0" y1="869.5" x2="571.0" y2="858.5" stroke="#e41a1c" stroke-width="1.2"/>
<text x="0" y="0" font-size="26.3" fill="#e41a1c" font-style="italic" transform="translate(578.0 856.0) scale(1 1.045)">MYB</text>
<text x="0" y="0" font-size="29" fill="#1f5bab" transform="translate(218.0 1049.8) scale(1 1.045)">14</text>
<text x="0" y="0" font-size="29" fill="#e8402a" transform="translate(677.0 1049.8) scale(1 1.045)">111</text>
<line x1="388.8" y1="672.0" x2="388.8" y2="1195.3" stroke="#222" stroke-width="1.4" stroke-dasharray="4.5,3"/>
<line x1="542.0" y1="672.0" x2="542.0" y2="1195.3" stroke="#222" stroke-width="1.4" stroke-dasharray="4.5,3"/>
<line x1="170.5" y1="1109.3" x2="760.8" y2="1109.3" stroke="#222" stroke-width="1.4" stroke-dasharray="4.5,3"/>
<rect x="170.5" y="672.0" width="590.3" height="523.3" fill="none" stroke="#555" stroke-width="1.3"/>
<line x1="165.5" y1="1171.2" x2="170.5" y2="1171.2" stroke="#666" stroke-width="1.3"/>
<text x="0" y="0" font-size="30.5" text-anchor="end" transform="translate(159.2 1182.4) scale(1.0 1.1)">0.0</text>
<line x1="165.5" y1="1052.3" x2="170.5" y2="1052.3" stroke="#666" stroke-width="1.3"/>
<text x="0" y="0" font-size="30.5" text-anchor="end" transform="translate(159.2 1063.5) scale(1.0 1.1)">2.5</text>
<line x1="165.5" y1="933.4" x2="170.5" y2="933.4" stroke="#666" stroke-width="1.3"/>
<text x="0" y="0" font-size="30.5" text-anchor="end" transform="translate(159.2 944.6) scale(1.0 1.1)">5.0</text>
<line x1="165.5" y1="814.5" x2="170.5" y2="814.5" stroke="#666" stroke-width="1.3"/>
<text x="0" y="0" font-size="30.5" text-anchor="end" transform="translate(159.2 825.7) scale(1.0 1.1)">7.5</text>
<line x1="165.5" y1="695.6" x2="170.5" y2="695.6" stroke="#666" stroke-width="1.3"/>
<text x="0" y="0" font-size="30.5" text-anchor="end" transform="translate(159.2 706.8) scale(1.0 1.1)">10.0</text>
<line x1="312.2" y1="1195.3" x2="312.2" y2="1200.3" stroke="#666" stroke-width="1.3"/>
<text x="0" y="0" font-size="30.5" text-anchor="middle" transform="translate(312.2 1229.2) scale(1.0 1.1)">-4</text>
<line x1="465.4" y1="1195.3" x2="465.4" y2="1200.3" stroke="#666" stroke-width="1.3"/>
<text x="0" y="0" font-size="30.5" text-anchor="middle" transform="translate(465.4 1229.2) scale(1.0 1.1)">0.0</text>
<line x1="618.6" y1="1195.3" x2="618.6" y2="1200.3" stroke="#666" stroke-width="1.3"/>
<text x="0" y="0" font-size="30.5" text-anchor="middle" transform="translate(618.6 1229.2) scale(1.0 1.1)">4</text>
<text x="0" y="0" font-size="30.3" text-anchor="middle" transform="translate(469.2 1264.8) scale(1.02 1.05)">Log<tspan font-size="19" dy="7">2</tspan><tspan dy="-7">Fold-Change</tspan></text>
<text x="0" y="0" font-size="27.6" text-anchor="middle" transform="translate(88.6 937.8) scale(1.17 1) rotate(-90)">-Log<tspan font-size="17.5" dy="9">10</tspan><tspan dy="-9"> (adjusted P-value)</tspan></text>
<rect x="783.4" y="872.4" width="101.3" height="109.0" fill="none" stroke="#444" stroke-width="1.2"/>
<text x="0" y="0" font-size="30.6" text-anchor="middle" fill="#e41a1c" transform="translate(834.0 899.8) scale(1 1.045)">UP</text>
<text x="0" y="0" font-size="30.6" text-anchor="middle" fill="#4daf4a" transform="translate(834.0 937.4) scale(1 1.045)">NS</text>
<text x="0" y="0" font-size="30.6" text-anchor="middle" fill="#4466b4" transform="translate(834.0 974.9) scale(1 1.045)">DOWN</text>
<line x1="1003.5" y1="1110.1" x2="1593.5" y2="1110.1" stroke="#ebebeb" stroke-width="1.1"/>
<line x1="1003.5" y1="991.8" x2="1593.5" y2="991.8" stroke="#ebebeb" stroke-width="1.1"/>
<line x1="1003.5" y1="873.6" x2="1593.5" y2="873.6" stroke="#ebebeb" stroke-width="1.1"/>
<line x1="1003.5" y1="755.3" x2="1593.5" y2="755.3" stroke="#ebebeb" stroke-width="1.1"/>
<line x1="1068.0" y1="672.0" x2="1068.0" y2="1193.2" stroke="#f5f5f5" stroke-width="1.2"/>
<line x1="1221.6" y1="672.0" x2="1221.6" y2="1193.2" stroke="#f5f5f5" stroke-width="1.2"/>
<line x1="1375.2" y1="672.0" x2="1375.2" y2="1193.2" stroke="#f5f5f5" stroke-width="1.2"/>
<line x1="1528.8" y1="672.0" x2="1528.8" y2="1193.2" stroke="#f5f5f5" stroke-width="1.2"/>
<line x1="1003.5" y1="1169.2" x2="1593.5" y2="1169.2" stroke="#e3e3e3" stroke-width="1.3"/>
<line x1="1003.5" y1="1051.0" x2="1593.5" y2="1051.0" stroke="#e3e3e3" stroke-width="1.3"/>
<line x1="1003.5" y1="932.7" x2="1593.5" y2="932.7" stroke="#e3e3e3" stroke-width="1.3"/>
<line x1="1003.5" y1="814.5" x2="1593.5" y2="814.5" stroke="#e3e3e3" stroke-width="1.3"/>
<line x1="1003.5" y1="696.2" x2="1593.5" y2="696.2" stroke="#e3e3e3" stroke-width="1.3"/>
<line x1="1144.8" y1="672.0" x2="1144.8" y2="1193.2" stroke="#ebebeb" stroke-width="2.2"/>
<line x1="1298.4" y1="672.0" x2="1298.4" y2="1193.2" stroke="#ebebeb" stroke-width="2.2"/>
<line x1="1452.0" y1="672.0" x2="1452.0" y2="1193.2" stroke="#ebebeb" stroke-width="2.2"/>
<path d="M1298.0,1173.0 L1285.0,1170.0 L1270.0,1164.0 L1250.0,1156.0 L1232.0,1146.0 L1222.0,1134.0 L1215.0,1122.0 L1216.0,1112.0 L1221.0,1105.0 L1221.0,996.0 L1232.0,994.0 L1246.0,993.0 L1256.0,991.0 L1266.0,989.0 L1276.0,986.0 L1282.0,990.0 L1286.0,1000.0 L1290.0,1030.0 L1294.0,1060.0 L1298.0,1120.0 L1302.0,1100.0 L1306.0,1060.0 L1314.0,1020.0 L1318.0,996.0 L1322.0,980.0 L1326.0,964.0 L1330.0,950.0 L1340.0,941.0 L1356.0,937.0 L1375.0,934.0 L1375.0,1120.0 L1374.0,1132.0 L1362.0,1146.0 L1345.0,1156.0 L1320.0,1166.0 Z" fill="#4daf4a"/>
<g fill="#4daf4a"><ellipse cx="1298.4" cy="1173.8" rx="4.6" ry="3.8"/><ellipse cx="1292.4" cy="1172.9" rx="4.6" ry="3.8"/><ellipse cx="1285.8" cy="1171.4" rx="4.6" ry="3.8"/><ellipse cx="1276.0" cy="1166.9" rx="4.6" ry="3.8"/><ellipse cx="1271.4" cy="1164.5" rx="4.6" ry="3.8"/><ellipse cx="1264.6" cy="1160.1" rx="4.6" ry="3.8"/><ellipse cx="1256.6" cy="1157.9" rx="4.6" ry="3.8"/><ellipse cx="1250.1" cy="1156.2" rx="4.6" ry="3.8"/><ellipse cx="1242.4" cy="1151.8" rx="4.6" ry="3.8"/><ellipse cx="1237.3" cy="1150.7" rx="4.6" ry="3.8"/><ellipse cx="1232.9" cy="1144.9" rx="4.6" ry="3.8"/><ellipse cx="1228.0" cy="1138.8" rx="4.6" ry="3.8"/><ellipse cx="1222.4" cy="1132.8" rx="4.6" ry="3.8"/><ellipse cx="1216.9" cy="1129.2" rx="4.6" ry="3.8"/><ellipse cx="1214.1" cy="1121.1" rx="4.6" ry="3.8"/><ellipse cx="1217.5" cy="1113.2" rx="4.6" ry="3.8"/><ellipse cx="1220.3" cy="1106.5" rx="4.6" ry="3.8"/><ellipse cx="1221.1" cy="1099.8" rx="4.6" ry="3.8"/><ellipse cx="1220.1" cy="1094.9" rx="4.6" ry="3.8"/><ellipse cx="1221.6" cy="1089.3" rx="4.6" ry="3.8"/><ellipse cx="1222.3" cy="1081.4" rx="4.6" ry="3.8"/><ellipse cx="1220.6" cy="1075.2" rx="4.6" ry="3.8"/><ellipse cx="1219.9" cy="1069.2" rx="4.6" ry="3.8"/><ellipse cx="1220.4" cy="1065.2" rx="4.6" ry="3.8"/><ellipse cx="1219.4" cy="1059.7" rx="4.6" ry="3.8"/><ellipse cx="1220.5" cy="1052.8" rx="4.6" ry="3.8"/><ellipse cx="1222.0" cy="1047.6" rx="4.6" ry="3.8"/><ellipse cx="1220.4" cy="1041.8" rx="4.6" ry="3.8"/><ellipse cx="1221.7" cy="1034.7" rx="4.6" ry="3.8"/><ellipse cx="1222.5" cy="1028.9" rx="4.6" ry="3.8"/><ellipse cx="1221.8" cy="1025.8" rx="4.6" ry="3.8"/><ellipse cx="1219.5" cy="1019.9" rx="4.6" ry="3.8"/><ellipse cx="1220.6" cy="1013.5" rx="4.6" ry="3.8"/><ellipse cx="1219.4" cy="1006.0" rx="4.6" ry="3.8"/><ellipse cx="1220.0" cy="1003.2" rx="4.6" ry="3.8"/><ellipse cx="1220.0" cy="996.8" rx="4.6" ry="3.8"/><ellipse cx="1227.9" cy="996.4" rx="4.6" ry="3.8"/><ellipse cx="1231.5" cy="993.5" rx="4.6" ry="3.8"/><ellipse cx="1239.1" cy="994.4" rx="4.6" ry="3.8"/><ellipse cx="1244.7" cy="993.8" rx="4.6" ry="3.8"/><ellipse cx="1257.0" cy="992.2" rx="4.6" ry="3.8"/><ellipse cx="1264.5" cy="990.4" rx="4.6" ry="3.8"/><ellipse cx="1274.7" cy="985.5" rx="4.6" ry="3.8"/><ellipse cx="1282.4" cy="991.3" rx="4.6" ry="3.8"/><ellipse cx="1285.5" cy="1001.4" rx="4.6" ry="3.8"/><ellipse cx="1286.9" cy="1005.4" rx="4.6" ry="3.8"/><ellipse cx="1287.0" cy="1011.0" rx="4.6" ry="3.8"/><ellipse cx="1287.1" cy="1016.9" rx="4.6" ry="3.8"/><ellipse cx="1301.6" cy="1101.6" rx="4.6" ry="3.8"/><ellipse cx="1304.0" cy="1094.7" rx="4.6" ry="3.8"/><ellipse cx="1303.1" cy="1088.1" rx="4.6" ry="3.8"/><ellipse cx="1305.2" cy="1078.3" rx="4.6" ry="3.8"/><ellipse cx="1304.4" cy="1072.3" rx="4.6" ry="3.8"/><ellipse cx="1306.3" cy="1066.3" rx="4.6" ry="3.8"/><ellipse cx="1306.5" cy="1060.8" rx="4.6" ry="3.8"/><ellipse cx="1306.7" cy="1054.9" rx="4.6" ry="3.8"/><ellipse cx="1307.6" cy="1048.5" rx="4.6" ry="3.8"/><ellipse cx="1310.3" cy="1043.5" rx="4.6" ry="3.8"/><ellipse cx="1309.9" cy="1038.6" rx="4.6" ry="3.8"/><ellipse cx="1312.2" cy="1031.7" rx="4.6" ry="3.8"/><ellipse cx="1311.3" cy="1025.9" rx="4.6" ry="3.8"/><ellipse cx="1313.2" cy="1020.5" rx="4.6" ry="3.8"/><ellipse cx="1314.9" cy="1015.0" rx="4.6" ry="3.8"/><ellipse cx="1316.5" cy="1009.0" rx="4.6" ry="3.8"/><ellipse cx="1316.5" cy="1002.5" rx="4.6" ry="3.8"/><ellipse cx="1318.8" cy="997.1" rx="4.6" ry="3.8"/><ellipse cx="1319.5" cy="989.1" rx="4.6" ry="3.8"/><ellipse cx="1323.2" cy="980.6" rx="4.6" ry="3.8"/><ellipse cx="1325.5" cy="973.5" rx="4.6" ry="3.8"/><ellipse cx="1326.1" cy="964.1" rx="4.6" ry="3.8"/><ellipse cx="1326.9" cy="958.1" rx="4.6" ry="3.8"/><ellipse cx="1331.4" cy="949.9" rx="4.6" ry="3.8"/><ellipse cx="1335.6" cy="946.2" rx="4.6" ry="3.8"/><ellipse cx="1340.7" cy="939.9" rx="4.6" ry="3.8"/><ellipse cx="1348.9" cy="939.3" rx="4.6" ry="3.8"/><ellipse cx="1356.5" cy="936.7" rx="4.6" ry="3.8"/><ellipse cx="1362.7" cy="936.9" rx="4.6" ry="3.8"/><ellipse cx="1369.1" cy="935.7" rx="4.6" ry="3.8"/><ellipse cx="1373.5" cy="932.9" rx="4.6" ry="3.8"/><ellipse cx="1374.8" cy="940.1" rx="4.6" ry="3.8"/><ellipse cx="1374.1" cy="945.9" rx="4.6" ry="3.8"/><ellipse cx="1375.4" cy="949.4" rx="4.6" ry="3.8"/><ellipse cx="1374.9" cy="955.7" rx="4.6" ry="3.8"/><ellipse cx="1373.6" cy="961.0" rx="4.6" ry="3.8"/><ellipse cx="1374.4" cy="966.8" rx="4.6" ry="3.8"/><ellipse cx="1374.0" cy="972.0" rx="4.6" ry="3.8"/><ellipse cx="1374.9" cy="978.7" rx="4.6" ry="3.8"/><ellipse cx="1375.4" cy="985.0" rx="4.6" ry="3.8"/><ellipse cx="1374.2" cy="991.7" rx="4.6" ry="3.8"/><ellipse cx="1373.4" cy="995.7" rx="4.6" ry="3.8"/><ellipse cx="1374.3" cy="1001.3" rx="4.6" ry="3.8"/><ellipse cx="1373.8" cy="1008.3" rx="4.6" ry="3.8"/><ellipse cx="1374.6" cy="1011.4" rx="4.6" ry="3.8"/><ellipse cx="1375.4" cy="1017.2" rx="4.6" ry="3.8"/><ellipse cx="1375.1" cy="1023.7" rx="4.6" ry="3.8"/><ellipse cx="1375.3" cy="1031.3" rx="4.6" ry="3.8"/><ellipse cx="1376.0" cy="1035.2" rx="4.6" ry="3.8"/><ellipse cx="1376.0" cy="1041.5" rx="4.6" ry="3.8"/><ellipse cx="1374.6" cy="1045.6" rx="4.6" ry="3.8"/><ellipse cx="1375.3" cy="1052.6" rx="4.6" ry="3.8"/><ellipse cx="1376.5" cy="1059.5" rx="4.6" ry="3.8"/><ellipse cx="1375.3" cy="1063.2" rx="4.6" ry="3.8"/><ellipse cx="1376.3" cy="1067.7" rx="4.6" ry="3.8"/><ellipse cx="1373.7" cy="1075.1" rx="4.6" ry="3.8"/><ellipse cx="1375.4" cy="1079.4" rx="4.6" ry="3.8"/><ellipse cx="1375.4" cy="1087.4" rx="4.6" ry="3.8"/><ellipse cx="1374.6" cy="1091.6" rx="4.6" ry="3.8"/><ellipse cx="1374.1" cy="1096.8" rx="4.6" ry="3.8"/><ellipse cx="1376.5" cy="1102.7" rx="4.6" ry="3.8"/><ellipse cx="1376.5" cy="1110.1" rx="4.6" ry="3.8"/><ellipse cx="1375.3" cy="1113.6" rx="4.6" ry="3.8"/><ellipse cx="1376.5" cy="1120.0" rx="4.6" ry="3.8"/><ellipse cx="1374.2" cy="1125.4" rx="4.6" ry="3.8"/><ellipse cx="1375.5" cy="1132.0" rx="4.6" ry="3.8"/><ellipse cx="1369.3" cy="1136.6" rx="4.6" ry="3.8"/><ellipse cx="1364.8" cy="1141.7" rx="4.6" ry="3.8"/><ellipse cx="1361.8" cy="1145.3" rx="4.6" ry="3.8"/><ellipse cx="1357.2" cy="1150.4" rx="4.6" ry="3.8"/><ellipse cx="1349.1" cy="1152.8" rx="4.6" ry="3.8"/><ellipse cx="1344.3" cy="1157.4" rx="4.6" ry="3.8"/><ellipse cx="1339.7" cy="1157.7" rx="4.6" ry="3.8"/><ellipse cx="1331.8" cy="1159.9" rx="4.6" ry="3.8"/><ellipse cx="1327.8" cy="1162.8" rx="4.6" ry="3.8"/><ellipse cx="1320.3" cy="1165.9" rx="4.6" ry="3.8"/><ellipse cx="1315.0" cy="1168.1" rx="4.6" ry="3.8"/><ellipse cx="1309.8" cy="1168.3" rx="4.6" ry="3.8"/><ellipse cx="1304.3" cy="1170.6" rx="4.6" ry="3.8"/><ellipse cx="1347.0" cy="909.6" rx="4.6" ry="3.8"/><ellipse cx="1366.0" cy="908.0" rx="4.6" ry="3.8"/><ellipse cx="1338.0" cy="928.0" rx="4.6" ry="3.8"/><ellipse cx="1372.0" cy="932.4" rx="4.6" ry="3.8"/><ellipse cx="1354.0" cy="935.0" rx="4.6" ry="3.8"/><ellipse cx="1336.0" cy="940.6" rx="4.6" ry="3.8"/><ellipse cx="1345.0" cy="940.6" rx="4.6" ry="3.8"/><ellipse cx="1328.0" cy="948.6" rx="4.6" ry="3.8"/><ellipse cx="1224.0" cy="985.0" rx="4.6" ry="3.8"/><ellipse cx="1224.0" cy="975.0" rx="4.6" ry="3.8"/><ellipse cx="1226.0" cy="964.0" rx="4.6" ry="3.8"/><ellipse cx="1229.0" cy="953.0" rx="4.6" ry="3.8"/><ellipse cx="1234.0" cy="944.0" rx="4.6" ry="3.8"/><ellipse cx="1240.0" cy="937.0" rx="4.6" ry="3.8"/><ellipse cx="1247.0" cy="933.0" rx="4.6" ry="3.8"/><ellipse cx="1255.0" cy="934.0" rx="4.6" ry="3.8"/><ellipse cx="1262.0" cy="938.0" rx="4.6" ry="3.8"/><ellipse cx="1268.0" cy="944.0" rx="4.6" ry="3.8"/><ellipse cx="1273.0" cy="951.0" rx="4.6" ry="3.8"/><ellipse cx="1277.0" cy="959.0" rx="4.6" ry="3.8"/><ellipse cx="1281.0" cy="968.0" rx="4.6" ry="3.8"/><ellipse cx="1284.0" cy="977.0" rx="4.6" ry="3.8"/><ellipse cx="1287.0" cy="987.0" rx="4.6" ry="3.8"/><ellipse cx="1179.0" cy="1110.0" rx="4.6" ry="3.8"/><ellipse cx="1190.0" cy="1112.0" rx="4.6" ry="3.8"/><ellipse cx="1201.0" cy="1110.0" rx="4.6" ry="3.8"/><ellipse cx="1205.0" cy="1115.0" rx="4.6" ry="3.8"/><ellipse cx="1184.0" cy="1122.0" rx="4.6" ry="3.8"/><ellipse cx="1189.0" cy="1135.0" rx="4.6" ry="3.8"/><ellipse cx="1393.0" cy="1120.0" rx="4.6" ry="3.8"/><ellipse cx="1395.0" cy="1125.0" rx="4.6" ry="3.8"/><ellipse cx="1388.0" cy="1130.0" rx="4.6" ry="3.8"/><ellipse cx="1375.0" cy="1141.0" rx="4.6" ry="3.8"/><ellipse cx="1362.0" cy="1148.0" rx="4.6" ry="3.8"/><ellipse cx="1353.0" cy="1154.0" rx="4.6" ry="3.8"/><ellipse cx="1226.0" cy="1144.0" rx="4.6" ry="3.8"/><ellipse cx="1244.0" cy="1152.0" rx="4.6" ry="3.8"/><ellipse cx="1256.0" cy="1157.0" rx="4.6" ry="3.8"/><ellipse cx="1210.0" cy="1125.0" rx="4.6" ry="3.8"/><ellipse cx="1214.0" cy="1132.0" rx="4.6" ry="3.8"/><ellipse cx="1326.0" cy="958.0" rx="4.6" ry="3.8"/><ellipse cx="1322.0" cy="972.0" rx="4.6" ry="3.8"/><ellipse cx="1320.0" cy="985.0" rx="4.6" ry="3.8"/><ellipse cx="1316.0" cy="1000.0" rx="4.6" ry="3.8"/><ellipse cx="1233.1" cy="973.4" rx="4.6" ry="3.8"/><ellipse cx="1261.2" cy="936.2" rx="4.6" ry="3.8"/><ellipse cx="1252.4" cy="965.1" rx="4.6" ry="3.8"/><ellipse cx="1283.9" cy="985.3" rx="4.6" ry="3.8"/><ellipse cx="1236.9" cy="968.5" rx="4.6" ry="3.8"/><ellipse cx="1274.1" cy="954.5" rx="4.6" ry="3.8"/><ellipse cx="1273.9" cy="961.0" rx="4.6" ry="3.8"/><ellipse cx="1238.9" cy="989.5" rx="4.6" ry="3.8"/><ellipse cx="1267.9" cy="989.2" rx="4.6" ry="3.8"/><ellipse cx="1258.1" cy="951.5" rx="4.6" ry="3.8"/><ellipse cx="1226.3" cy="977.8" rx="4.6" ry="3.8"/><ellipse cx="1262.3" cy="962.5" rx="4.6" ry="3.8"/><ellipse cx="1243.3" cy="991.6" rx="4.6" ry="3.8"/><ellipse cx="1248.9" cy="945.5" rx="4.6" ry="3.8"/><ellipse cx="1264.3" cy="989.8" rx="4.6" ry="3.8"/><ellipse cx="1247.9" cy="968.9" rx="4.6" ry="3.8"/><ellipse cx="1242.3" cy="988.6" rx="4.6" ry="3.8"/><ellipse cx="1267.7" cy="947.7" rx="4.6" ry="3.8"/><ellipse cx="1251.3" cy="969.0" rx="4.6" ry="3.8"/><ellipse cx="1284.6" cy="974.3" rx="4.6" ry="3.8"/><ellipse cx="1275.0" cy="981.3" rx="4.6" ry="3.8"/><ellipse cx="1284.0" cy="985.0" rx="4.6" ry="3.8"/><ellipse cx="1275.6" cy="952.3" rx="4.6" ry="3.8"/><ellipse cx="1267.6" cy="971.2" rx="4.6" ry="3.8"/><ellipse cx="1269.5" cy="961.6" rx="4.6" ry="3.8"/><ellipse cx="1257.7" cy="986.5" rx="4.6" ry="3.8"/><ellipse cx="1227.5" cy="956.3" rx="4.6" ry="3.8"/><ellipse cx="1273.6" cy="977.1" rx="4.6" ry="3.8"/><ellipse cx="1224.4" cy="981.4" rx="4.6" ry="3.8"/><ellipse cx="1271.2" cy="980.7" rx="4.6" ry="3.8"/><ellipse cx="1280.0" cy="977.1" rx="4.6" ry="3.8"/><ellipse cx="1267.7" cy="949.7" rx="4.6" ry="3.8"/><ellipse cx="1268.7" cy="956.8" rx="4.6" ry="3.8"/><ellipse cx="1272.6" cy="970.1" rx="4.6" ry="3.8"/><ellipse cx="1261.3" cy="967.0" rx="4.6" ry="3.8"/><ellipse cx="1235.6" cy="974.0" rx="4.6" ry="3.8"/><ellipse cx="1260.8" cy="942.9" rx="4.6" ry="3.8"/><ellipse cx="1229.5" cy="971.7" rx="4.6" ry="3.8"/><ellipse cx="1235.3" cy="961.7" rx="4.6" ry="3.8"/><ellipse cx="1265.6" cy="959.0" rx="4.6" ry="3.8"/><ellipse cx="1267.3" cy="989.9" rx="4.6" ry="3.8"/><ellipse cx="1274.9" cy="984.3" rx="4.6" ry="3.8"/><ellipse cx="1225.3" cy="970.2" rx="4.6" ry="3.8"/><ellipse cx="1269.0" cy="982.1" rx="4.6" ry="3.8"/><ellipse cx="1233.2" cy="952.8" rx="4.6" ry="3.8"/><ellipse cx="1279.3" cy="976.8" rx="4.6" ry="3.8"/><ellipse cx="1281.0" cy="986.7" rx="4.6" ry="3.8"/><ellipse cx="1242.7" cy="940.5" rx="4.6" ry="3.8"/><ellipse cx="1226.6" cy="986.7" rx="4.6" ry="3.8"/><ellipse cx="1235.5" cy="946.4" rx="4.6" ry="3.8"/><ellipse cx="1239.7" cy="972.3" rx="4.6" ry="3.8"/><ellipse cx="1256.2" cy="965.3" rx="4.6" ry="3.8"/><ellipse cx="1266.9" cy="991.5" rx="4.6" ry="3.8"/><ellipse cx="1237.7" cy="943.1" rx="4.6" ry="3.8"/><ellipse cx="1227.7" cy="989.4" rx="4.6" ry="3.8"/><ellipse cx="1234.5" cy="967.2" rx="4.6" ry="3.8"/><ellipse cx="1244.6" cy="938.9" rx="4.6" ry="3.8"/><ellipse cx="1257.1" cy="947.0" rx="4.6" ry="3.8"/><ellipse cx="1225.6" cy="979.6" rx="4.6" ry="3.8"/><ellipse cx="1274.1" cy="954.8" rx="4.6" ry="3.8"/><ellipse cx="1274.9" cy="990.3" rx="4.6" ry="3.8"/><ellipse cx="1254.9" cy="986.2" rx="4.6" ry="3.8"/><ellipse cx="1235.8" cy="942.1" rx="4.6" ry="3.8"/><ellipse cx="1283.8" cy="973.3" rx="4.6" ry="3.8"/><ellipse cx="1243.1" cy="974.3" rx="4.6" ry="3.8"/><ellipse cx="1275.2" cy="952.8" rx="4.6" ry="3.8"/><ellipse cx="1233.0" cy="963.8" rx="4.6" ry="3.8"/><ellipse cx="1243.0" cy="983.9" rx="4.6" ry="3.8"/><ellipse cx="1234.3" cy="982.9" rx="4.6" ry="3.8"/></g>
<g fill="#377eb8"><ellipse cx="1191.2" cy="984.4" rx="4.6" ry="3.8"/><ellipse cx="1197.4" cy="991.7" rx="4.6" ry="3.8"/><ellipse cx="1184.6" cy="1026.2" rx="4.6" ry="3.8"/><ellipse cx="1217.8" cy="1082.1" rx="4.6" ry="3.8"/><ellipse cx="1211.8" cy="1001.1" rx="4.6" ry="3.8"/><ellipse cx="1202.9" cy="1008.7" rx="4.6" ry="3.8"/><ellipse cx="1214.3" cy="1082.9" rx="4.6" ry="3.8"/><ellipse cx="1213.2" cy="997.1" rx="4.6" ry="3.8"/><ellipse cx="1194.1" cy="1057.8" rx="4.6" ry="3.8"/><ellipse cx="1210.5" cy="1089.7" rx="4.6" ry="3.8"/><ellipse cx="1216.3" cy="982.1" rx="4.6" ry="3.8"/><ellipse cx="1205.6" cy="1064.0" rx="4.6" ry="3.8"/><ellipse cx="1201.7" cy="994.9" rx="4.6" ry="3.8"/><ellipse cx="1200.5" cy="982.5" rx="4.6" ry="3.8"/><ellipse cx="1218.4" cy="1091.2" rx="4.6" ry="3.8"/><ellipse cx="1203.4" cy="1012.0" rx="4.6" ry="3.8"/><ellipse cx="1217.4" cy="1050.1" rx="4.6" ry="3.8"/><ellipse cx="1216.4" cy="1088.7" rx="4.6" ry="3.8"/><ellipse cx="1201.8" cy="1028.0" rx="4.6" ry="3.8"/><ellipse cx="1205.4" cy="1030.3" rx="4.6" ry="3.8"/><ellipse cx="1188.3" cy="1012.7" rx="4.6" ry="3.8"/><ellipse cx="1213.7" cy="976.1" rx="4.6" ry="3.8"/><ellipse cx="1192.9" cy="1044.8" rx="4.6" ry="3.8"/><ellipse cx="1200.4" cy="1018.0" rx="4.6" ry="3.8"/><ellipse cx="1220.9" cy="997.4" rx="4.6" ry="3.8"/><ellipse cx="1198.1" cy="998.4" rx="4.6" ry="3.8"/><ellipse cx="1206.7" cy="1008.7" rx="4.6" ry="3.8"/><ellipse cx="1195.9" cy="1074.6" rx="4.6" ry="3.8"/><ellipse cx="1194.5" cy="1048.2" rx="4.6" ry="3.8"/><ellipse cx="1217.3" cy="984.1" rx="4.6" ry="3.8"/><ellipse cx="1184.4" cy="1002.0" rx="4.6" ry="3.8"/><ellipse cx="1211.8" cy="1056.2" rx="4.6" ry="3.8"/><ellipse cx="1191.3" cy="1016.3" rx="4.6" ry="3.8"/><ellipse cx="1188.9" cy="1034.3" rx="4.6" ry="3.8"/><ellipse cx="1216.9" cy="1103.7" rx="4.6" ry="3.8"/><ellipse cx="1210.7" cy="1104.4" rx="4.6" ry="3.8"/><ellipse cx="1182.7" cy="1010.5" rx="4.6" ry="3.8"/><ellipse cx="1219.7" cy="1078.5" rx="4.6" ry="3.8"/><ellipse cx="1206.2" cy="1084.5" rx="4.6" ry="3.8"/><ellipse cx="1193.4" cy="996.8" rx="4.6" ry="3.8"/><ellipse cx="1199.3" cy="989.1" rx="4.6" ry="3.8"/><ellipse cx="1212.6" cy="1020.8" rx="4.6" ry="3.8"/><ellipse cx="1193.3" cy="983.6" rx="4.6" ry="3.8"/><ellipse cx="1220.3" cy="1029.4" rx="4.6" ry="3.8"/><ellipse cx="1208.4" cy="990.9" rx="4.6" ry="3.8"/><ellipse cx="1186.8" cy="1044.1" rx="4.6" ry="3.8"/><ellipse cx="1212.2" cy="1027.3" rx="4.6" ry="3.8"/><ellipse cx="1220.5" cy="1036.9" rx="4.6" ry="3.8"/><ellipse cx="1191.4" cy="1027.5" rx="4.6" ry="3.8"/><ellipse cx="1183.4" cy="1029.0" rx="4.6" ry="3.8"/><ellipse cx="1214.4" cy="1039.8" rx="4.6" ry="3.8"/><ellipse cx="1191.5" cy="999.1" rx="4.6" ry="3.8"/><ellipse cx="1218.2" cy="1049.1" rx="4.6" ry="3.8"/><ellipse cx="1220.6" cy="1026.4" rx="4.6" ry="3.8"/><ellipse cx="1217.1" cy="1061.6" rx="4.6" ry="3.8"/><ellipse cx="1212.8" cy="1074.3" rx="4.6" ry="3.8"/><ellipse cx="1201.3" cy="983.0" rx="4.6" ry="3.8"/><ellipse cx="1217.1" cy="1099.4" rx="4.6" ry="3.8"/><ellipse cx="1195.1" cy="1062.0" rx="4.6" ry="3.8"/><ellipse cx="1213.2" cy="1059.9" rx="4.6" ry="3.8"/><ellipse cx="1213.8" cy="1043.9" rx="4.6" ry="3.8"/><ellipse cx="1207.5" cy="1066.0" rx="4.6" ry="3.8"/><ellipse cx="1219.3" cy="980.4" rx="4.6" ry="3.8"/><ellipse cx="1219.9" cy="1104.6" rx="4.6" ry="3.8"/><ellipse cx="1208.1" cy="976.2" rx="4.6" ry="3.8"/><ellipse cx="1217.1" cy="987.9" rx="4.6" ry="3.8"/><ellipse cx="1219.8" cy="1063.4" rx="4.6" ry="3.8"/><ellipse cx="1206.8" cy="1049.7" rx="4.6" ry="3.8"/><ellipse cx="1211.1" cy="1099.8" rx="4.6" ry="3.8"/><ellipse cx="1218.0" cy="971.8" rx="4.6" ry="3.8"/><ellipse cx="1216.2" cy="986.2" rx="4.6" ry="3.8"/><ellipse cx="1213.6" cy="1079.6" rx="4.6" ry="3.8"/><ellipse cx="1216.2" cy="1047.1" rx="4.6" ry="3.8"/><ellipse cx="1216.3" cy="998.2" rx="4.6" ry="3.8"/><ellipse cx="1208.2" cy="1016.3" rx="4.6" ry="3.8"/><ellipse cx="1216.8" cy="1078.3" rx="4.6" ry="3.8"/><ellipse cx="1200.4" cy="1043.7" rx="4.6" ry="3.8"/><ellipse cx="1205.2" cy="1038.4" rx="4.6" ry="3.8"/><ellipse cx="1215.7" cy="1055.1" rx="4.6" ry="3.8"/><ellipse cx="1187.4" cy="1020.8" rx="4.6" ry="3.8"/><ellipse cx="1211.9" cy="1043.2" rx="4.6" ry="3.8"/><ellipse cx="1214.3" cy="981.9" rx="4.6" ry="3.8"/><ellipse cx="1203.2" cy="1023.4" rx="4.6" ry="3.8"/><ellipse cx="1212.7" cy="1013.6" rx="4.6" ry="3.8"/><ellipse cx="1191.1" cy="1038.1" rx="4.6" ry="3.8"/><ellipse cx="1219.7" cy="983.3" rx="4.6" ry="3.8"/><ellipse cx="1216.5" cy="1041.7" rx="4.6" ry="3.8"/><ellipse cx="1212.3" cy="979.4" rx="4.6" ry="3.8"/><ellipse cx="1216.4" cy="997.4" rx="4.6" ry="3.8"/><ellipse cx="1198.5" cy="1081.8" rx="4.6" ry="3.8"/><ellipse cx="1188.9" cy="990.9" rx="4.6" ry="3.8"/><ellipse cx="1201.3" cy="1017.4" rx="4.6" ry="3.8"/><ellipse cx="1203.1" cy="1096.6" rx="4.6" ry="3.8"/><ellipse cx="1209.7" cy="970.8" rx="4.6" ry="3.8"/><ellipse cx="1194.2" cy="1046.3" rx="4.6" ry="3.8"/><ellipse cx="1201.0" cy="1070.2" rx="4.6" ry="3.8"/><ellipse cx="1200.9" cy="980.6" rx="4.6" ry="3.8"/><ellipse cx="1195.9" cy="1077.3" rx="4.6" ry="3.8"/><ellipse cx="1220.4" cy="1057.7" rx="4.6" ry="3.8"/><ellipse cx="1208.4" cy="1055.3" rx="4.6" ry="3.8"/><ellipse cx="1212.7" cy="1055.8" rx="4.6" ry="3.8"/><ellipse cx="1199.2" cy="989.7" rx="4.6" ry="3.8"/><ellipse cx="1212.1" cy="1020.7" rx="4.6" ry="3.8"/><ellipse cx="1207.8" cy="988.7" rx="4.6" ry="3.8"/><ellipse cx="1213.6" cy="994.9" rx="4.6" ry="3.8"/><ellipse cx="1217.2" cy="1022.1" rx="4.6" ry="3.8"/><ellipse cx="1204.5" cy="1019.1" rx="4.6" ry="3.8"/><ellipse cx="1206.2" cy="983.1" rx="4.6" ry="3.8"/><ellipse cx="1189.0" cy="1061.6" rx="4.6" ry="3.8"/><ellipse cx="1194.7" cy="1012.1" rx="4.6" ry="3.8"/><ellipse cx="1219.0" cy="1086.2" rx="4.6" ry="3.8"/><ellipse cx="1213.2" cy="1083.0" rx="4.6" ry="3.8"/><ellipse cx="1219.2" cy="992.2" rx="4.6" ry="3.8"/><ellipse cx="1204.8" cy="1039.3" rx="4.6" ry="3.8"/><ellipse cx="1211.6" cy="1105.6" rx="4.6" ry="3.8"/><ellipse cx="1208.3" cy="1074.3" rx="4.6" ry="3.8"/><ellipse cx="1206.1" cy="1086.4" rx="4.6" ry="3.8"/><ellipse cx="1197.8" cy="1053.9" rx="4.6" ry="3.8"/><ellipse cx="1217.0" cy="1068.5" rx="4.6" ry="3.8"/><ellipse cx="1194.1" cy="1002.3" rx="4.6" ry="3.8"/><ellipse cx="1194.7" cy="1057.8" rx="4.6" ry="3.8"/><ellipse cx="1220.9" cy="1095.9" rx="4.6" ry="3.8"/><ellipse cx="1197.6" cy="1026.1" rx="4.6" ry="3.8"/><ellipse cx="1213.9" cy="1009.7" rx="4.6" ry="3.8"/><ellipse cx="1189.2" cy="1045.6" rx="4.6" ry="3.8"/><ellipse cx="1209.0" cy="1056.1" rx="4.6" ry="3.8"/><ellipse cx="1206.3" cy="991.8" rx="4.6" ry="3.8"/><ellipse cx="1220.5" cy="1098.8" rx="4.6" ry="3.8"/><ellipse cx="1205.5" cy="1013.7" rx="4.6" ry="3.8"/><ellipse cx="1185.6" cy="1006.1" rx="4.6" ry="3.8"/><ellipse cx="1216.8" cy="1078.9" rx="4.6" ry="3.8"/><ellipse cx="1187.8" cy="1003.4" rx="4.6" ry="3.8"/><ellipse cx="1208.5" cy="1046.6" rx="4.6" ry="3.8"/><ellipse cx="1219.4" cy="1006.7" rx="4.6" ry="3.8"/><ellipse cx="1202.5" cy="992.1" rx="4.6" ry="3.8"/><ellipse cx="1194.3" cy="987.0" rx="4.6" ry="3.8"/><ellipse cx="1209.4" cy="1072.4" rx="4.6" ry="3.8"/><ellipse cx="1207.6" cy="1103.4" rx="4.6" ry="3.8"/><ellipse cx="1216.3" cy="1070.7" rx="4.6" ry="3.8"/><ellipse cx="1203.8" cy="1067.1" rx="4.6" ry="3.8"/><ellipse cx="1210.2" cy="1047.3" rx="4.6" ry="3.8"/><ellipse cx="1201.6" cy="991.6" rx="4.6" ry="3.8"/><ellipse cx="1214.9" cy="1037.8" rx="4.6" ry="3.8"/><ellipse cx="1216.1" cy="1005.8" rx="4.6" ry="3.8"/><ellipse cx="1197.3" cy="1065.5" rx="4.6" ry="3.8"/><ellipse cx="1215.6" cy="1016.0" rx="4.6" ry="3.8"/><ellipse cx="1197.1" cy="1029.2" rx="4.6" ry="3.8"/><ellipse cx="1187.9" cy="991.9" rx="4.6" ry="3.8"/><ellipse cx="1215.1" cy="1085.3" rx="4.6" ry="3.8"/><ellipse cx="1191.0" cy="1047.5" rx="4.6" ry="3.8"/><ellipse cx="1200.6" cy="1070.6" rx="4.6" ry="3.8"/><ellipse cx="1220.9" cy="1068.9" rx="4.6" ry="3.8"/><ellipse cx="1217.9" cy="1101.2" rx="4.6" ry="3.8"/><ellipse cx="1214.5" cy="1052.2" rx="4.6" ry="3.8"/><ellipse cx="1217.6" cy="1012.7" rx="4.6" ry="3.8"/><ellipse cx="1207.2" cy="1095.6" rx="4.6" ry="3.8"/><ellipse cx="1205.4" cy="975.2" rx="4.6" ry="3.8"/><ellipse cx="1206.6" cy="1005.8" rx="4.6" ry="3.8"/><ellipse cx="1215.5" cy="1062.7" rx="4.6" ry="3.8"/><ellipse cx="1206.4" cy="1017.5" rx="4.6" ry="3.8"/><ellipse cx="1214.5" cy="1094.8" rx="4.6" ry="3.8"/><ellipse cx="1216.8" cy="1093.7" rx="4.6" ry="3.8"/><ellipse cx="1207.7" cy="1067.8" rx="4.6" ry="3.8"/><ellipse cx="1205.6" cy="1043.8" rx="4.6" ry="3.8"/><ellipse cx="1220.5" cy="1019.4" rx="4.6" ry="3.8"/><ellipse cx="1201.4" cy="1046.4" rx="4.6" ry="3.8"/><ellipse cx="1205.3" cy="1005.0" rx="4.6" ry="3.8"/><ellipse cx="1212.5" cy="1097.2" rx="4.6" ry="3.8"/><ellipse cx="1209.2" cy="986.3" rx="4.6" ry="3.8"/><ellipse cx="1220.2" cy="1085.7" rx="4.6" ry="3.8"/><ellipse cx="1214.9" cy="1057.3" rx="4.6" ry="3.8"/><ellipse cx="1206.3" cy="972.6" rx="4.6" ry="3.8"/><ellipse cx="1210.6" cy="974.8" rx="4.6" ry="3.8"/><ellipse cx="1200.6" cy="990.3" rx="4.6" ry="3.8"/><ellipse cx="1211.2" cy="1084.2" rx="4.6" ry="3.8"/><ellipse cx="1193.6" cy="1024.4" rx="4.6" ry="3.8"/><ellipse cx="1205.6" cy="974.8" rx="4.6" ry="3.8"/><ellipse cx="1211.4" cy="1090.8" rx="4.6" ry="3.8"/><ellipse cx="1193.7" cy="1066.7" rx="4.6" ry="3.8"/><ellipse cx="1212.8" cy="1068.6" rx="4.6" ry="3.8"/><ellipse cx="1199.1" cy="994.5" rx="4.6" ry="3.8"/><ellipse cx="1218.3" cy="1008.6" rx="4.6" ry="3.8"/><ellipse cx="1211.5" cy="1027.0" rx="4.6" ry="3.8"/><ellipse cx="1206.5" cy="1087.9" rx="4.6" ry="3.8"/><ellipse cx="1194.5" cy="1056.8" rx="4.6" ry="3.8"/><ellipse cx="1192.0" cy="1041.6" rx="4.6" ry="3.8"/><ellipse cx="1183.2" cy="1006.9" rx="4.6" ry="3.8"/><ellipse cx="1208.1" cy="1094.7" rx="4.6" ry="3.8"/><ellipse cx="1201.5" cy="986.0" rx="4.6" ry="3.8"/><ellipse cx="1195.3" cy="1033.8" rx="4.6" ry="3.8"/></g>
<g fill="#377eb8"><ellipse cx="1172.1" cy="1016.5" rx="4.6" ry="3.8"/><ellipse cx="1176.8" cy="1052.0" rx="4.6" ry="3.8"/><ellipse cx="1150.1" cy="1017.3" rx="4.6" ry="3.8"/><ellipse cx="1185.7" cy="984.9" rx="4.6" ry="3.8"/><ellipse cx="1160.4" cy="978.2" rx="4.6" ry="3.8"/><ellipse cx="1178.7" cy="1075.0" rx="4.6" ry="3.8"/><ellipse cx="1168.0" cy="1070.9" rx="4.6" ry="3.8"/><ellipse cx="1153.3" cy="1004.5" rx="4.6" ry="3.8"/><ellipse cx="1183.1" cy="1068.0" rx="4.6" ry="3.8"/><ellipse cx="1169.9" cy="974.8" rx="4.6" ry="3.8"/><ellipse cx="1161.9" cy="992.6" rx="4.6" ry="3.8"/><ellipse cx="1193.7" cy="970.0" rx="4.6" ry="3.8"/><ellipse cx="1167.7" cy="1033.8" rx="4.6" ry="3.8"/><ellipse cx="1179.0" cy="979.7" rx="4.6" ry="3.8"/><ellipse cx="1178.1" cy="1092.7" rx="4.6" ry="3.8"/><ellipse cx="1169.8" cy="1020.1" rx="4.6" ry="3.8"/><ellipse cx="1181.2" cy="975.6" rx="4.6" ry="3.8"/><ellipse cx="1178.1" cy="987.2" rx="4.6" ry="3.8"/><ellipse cx="1179.5" cy="983.8" rx="4.6" ry="3.8"/><ellipse cx="1184.7" cy="1100.8" rx="4.6" ry="3.8"/><ellipse cx="1160.3" cy="1051.2" rx="4.6" ry="3.8"/><ellipse cx="1150.2" cy="1015.4" rx="4.6" ry="3.8"/><ellipse cx="1183.1" cy="1048.2" rx="4.6" ry="3.8"/><ellipse cx="1188.3" cy="974.7" rx="4.6" ry="3.8"/><ellipse cx="1178.4" cy="1027.9" rx="4.6" ry="3.8"/><ellipse cx="1177.9" cy="964.7" rx="4.6" ry="3.8"/><ellipse cx="1170.5" cy="993.2" rx="4.6" ry="3.8"/><ellipse cx="1171.1" cy="1009.4" rx="4.6" ry="3.8"/><ellipse cx="1184.9" cy="998.2" rx="4.6" ry="3.8"/><ellipse cx="1168.8" cy="1016.5" rx="4.6" ry="3.8"/><ellipse cx="1182.7" cy="987.0" rx="4.6" ry="3.8"/><ellipse cx="1158.8" cy="1018.8" rx="4.6" ry="3.8"/><ellipse cx="1166.4" cy="982.5" rx="4.6" ry="3.8"/><ellipse cx="1177.2" cy="982.0" rx="4.6" ry="3.8"/><ellipse cx="1184.2" cy="971.6" rx="4.6" ry="3.8"/><ellipse cx="1171.5" cy="1064.8" rx="4.6" ry="3.8"/><ellipse cx="1185.2" cy="1074.7" rx="4.6" ry="3.8"/><ellipse cx="1175.5" cy="987.3" rx="4.6" ry="3.8"/><ellipse cx="1180.7" cy="974.3" rx="4.6" ry="3.8"/><ellipse cx="1171.7" cy="1043.6" rx="4.6" ry="3.8"/><ellipse cx="1168.2" cy="987.3" rx="4.6" ry="3.8"/><ellipse cx="1175.2" cy="1040.4" rx="4.6" ry="3.8"/><ellipse cx="1181.4" cy="1041.2" rx="4.6" ry="3.8"/><ellipse cx="1163.6" cy="1067.8" rx="4.6" ry="3.8"/><ellipse cx="1185.5" cy="977.1" rx="4.6" ry="3.8"/><ellipse cx="1173.5" cy="1055.0" rx="4.6" ry="3.8"/><ellipse cx="1185.9" cy="1053.2" rx="4.6" ry="3.8"/><ellipse cx="1193.5" cy="967.3" rx="4.6" ry="3.8"/><ellipse cx="1179.0" cy="1051.5" rx="4.6" ry="3.8"/><ellipse cx="1183.3" cy="1021.4" rx="4.6" ry="3.8"/><ellipse cx="1151.6" cy="989.6" rx="4.6" ry="3.8"/><ellipse cx="1179.6" cy="988.5" rx="4.6" ry="3.8"/><ellipse cx="1151.4" cy="1013.8" rx="4.6" ry="3.8"/><ellipse cx="1172.5" cy="1040.2" rx="4.6" ry="3.8"/><ellipse cx="1165.4" cy="1076.3" rx="4.6" ry="3.8"/><ellipse cx="1153.5" cy="1012.9" rx="4.6" ry="3.8"/><ellipse cx="1158.0" cy="994.3" rx="4.6" ry="3.8"/><ellipse cx="1196.8" cy="1104.5" rx="4.6" ry="3.8"/><ellipse cx="1167.4" cy="1070.2" rx="4.6" ry="3.8"/><ellipse cx="1172.3" cy="1038.2" rx="4.6" ry="3.8"/><ellipse cx="1167.2" cy="1054.7" rx="4.6" ry="3.8"/><ellipse cx="1160.3" cy="999.4" rx="4.6" ry="3.8"/><ellipse cx="1174.9" cy="990.8" rx="4.6" ry="3.8"/><ellipse cx="1189.6" cy="970.4" rx="4.6" ry="3.8"/><ellipse cx="1179.5" cy="994.2" rx="4.6" ry="3.8"/><ellipse cx="1151.0" cy="1002.2" rx="4.6" ry="3.8"/><ellipse cx="1194.9" cy="1097.9" rx="4.6" ry="3.8"/><ellipse cx="1193.6" cy="1096.3" rx="4.6" ry="3.8"/><ellipse cx="1164.5" cy="998.1" rx="4.6" ry="3.8"/><ellipse cx="1179.4" cy="1033.8" rx="4.6" ry="3.8"/></g>
<g fill="#377eb8"><ellipse cx="1095.4" cy="948.0" rx="4.6" ry="3.8"/><ellipse cx="1160.0" cy="940.6" rx="4.6" ry="3.8"/><ellipse cx="1206.0" cy="948.6" rx="4.6" ry="3.8"/><ellipse cx="1144.6" cy="954.6" rx="4.6" ry="3.8"/><ellipse cx="1191.0" cy="958.0" rx="4.6" ry="3.8"/><ellipse cx="1201.4" cy="961.0" rx="4.6" ry="3.8"/><ellipse cx="1098.0" cy="968.0" rx="4.6" ry="3.8"/><ellipse cx="1104.0" cy="964.4" rx="4.6" ry="3.8"/><ellipse cx="1097.6" cy="972.0" rx="4.6" ry="3.8"/><ellipse cx="1157.0" cy="964.0" rx="4.6" ry="3.8"/><ellipse cx="1148.0" cy="970.0" rx="4.6" ry="3.8"/><ellipse cx="1159.0" cy="969.0" rx="4.6" ry="3.8"/><ellipse cx="1174.0" cy="968.0" rx="4.6" ry="3.8"/><ellipse cx="1122.0" cy="974.6" rx="4.6" ry="3.8"/><ellipse cx="1132.0" cy="975.6" rx="4.6" ry="3.8"/><ellipse cx="1114.0" cy="978.6" rx="4.6" ry="3.8"/><ellipse cx="1105.0" cy="981.6" rx="4.6" ry="3.8"/><ellipse cx="1158.0" cy="978.0" rx="4.6" ry="3.8"/><ellipse cx="1173.0" cy="976.0" rx="4.6" ry="3.8"/><ellipse cx="1193.0" cy="977.4" rx="4.6" ry="3.8"/><ellipse cx="1217.0" cy="978.0" rx="4.6" ry="3.8"/><ellipse cx="1151.0" cy="983.0" rx="4.6" ry="3.8"/><ellipse cx="1166.0" cy="983.0" rx="4.6" ry="3.8"/><ellipse cx="1177.0" cy="985.0" rx="4.6" ry="3.8"/><ellipse cx="1112.0" cy="987.6" rx="4.6" ry="3.8"/><ellipse cx="1120.0" cy="991.0" rx="4.6" ry="3.8"/><ellipse cx="1122.0" cy="995.0" rx="4.6" ry="3.8"/><ellipse cx="1138.0" cy="986.0" rx="4.6" ry="3.8"/><ellipse cx="1134.0" cy="991.0" rx="4.6" ry="3.8"/><ellipse cx="1146.0" cy="988.0" rx="4.6" ry="3.8"/><ellipse cx="1157.0" cy="992.0" rx="4.6" ry="3.8"/><ellipse cx="1191.0" cy="990.0" rx="4.6" ry="3.8"/><ellipse cx="1140.0" cy="1002.0" rx="4.6" ry="3.8"/><ellipse cx="1139.0" cy="1007.0" rx="4.6" ry="3.8"/><ellipse cx="1111.0" cy="1015.0" rx="4.6" ry="3.8"/><ellipse cx="1131.0" cy="1018.0" rx="4.6" ry="3.8"/><ellipse cx="1140.0" cy="1015.0" rx="4.6" ry="3.8"/><ellipse cx="1141.0" cy="1023.0" rx="4.6" ry="3.8"/><ellipse cx="1136.0" cy="1038.0" rx="4.6" ry="3.8"/><ellipse cx="1144.0" cy="1041.0" rx="4.6" ry="3.8"/><ellipse cx="1149.0" cy="1044.0" rx="4.6" ry="3.8"/><ellipse cx="1158.0" cy="1030.0" rx="4.6" ry="3.8"/><ellipse cx="1160.0" cy="1042.0" rx="4.6" ry="3.8"/><ellipse cx="1163.0" cy="1036.0" rx="4.6" ry="3.8"/><ellipse cx="1158.0" cy="1052.0" rx="4.6" ry="3.8"/><ellipse cx="1162.0" cy="1060.0" rx="4.6" ry="3.8"/><ellipse cx="1166.0" cy="1060.0" rx="4.6" ry="3.8"/><ellipse cx="1162.0" cy="1069.0" rx="4.6" ry="3.8"/><ellipse cx="1163.0" cy="1080.0" rx="4.6" ry="3.8"/><ellipse cx="1171.0" cy="1096.0" rx="4.6" ry="3.8"/><ellipse cx="1110.0" cy="1014.8" rx="4.6" ry="3.8"/><ellipse cx="1132.0" cy="1018.0" rx="4.6" ry="3.8"/><ellipse cx="1142.0" cy="1022.8" rx="4.6" ry="3.8"/><ellipse cx="1146.0" cy="1044.0" rx="4.6" ry="3.8"/><ellipse cx="1166.0" cy="1062.0" rx="4.6" ry="3.8"/><ellipse cx="1176.0" cy="1068.0" rx="4.6" ry="3.8"/><ellipse cx="1164.0" cy="1080.0" rx="4.6" ry="3.8"/><ellipse cx="1174.0" cy="1078.0" rx="4.6" ry="3.8"/><ellipse cx="1174.0" cy="1100.0" rx="4.6" ry="3.8"/><ellipse cx="1184.0" cy="1104.0" rx="4.6" ry="3.8"/><ellipse cx="1194.0" cy="1098.0" rx="4.6" ry="3.8"/><ellipse cx="1182.0" cy="1092.0" rx="4.6" ry="3.8"/><ellipse cx="1200.0" cy="1108.0" rx="4.6" ry="3.8"/><ellipse cx="1168.0" cy="1000.0" rx="4.6" ry="3.8"/><ellipse cx="1164.0" cy="1010.0" rx="4.6" ry="3.8"/><ellipse cx="1166.0" cy="1020.0" rx="4.6" ry="3.8"/><ellipse cx="1170.0" cy="1040.0" rx="4.6" ry="3.8"/><ellipse cx="1180.0" cy="998.0" rx="4.6" ry="3.8"/><ellipse cx="1187.0" cy="993.0" rx="4.6" ry="3.8"/><ellipse cx="1200.0" cy="980.0" rx="4.6" ry="3.8"/><ellipse cx="1210.0" cy="982.0" rx="4.6" ry="3.8"/><ellipse cx="1215.0" cy="1110.0" rx="4.6" ry="3.8"/></g>
<g fill="#e41a1c"><ellipse cx="1397.2" cy="1078.3" rx="4.6" ry="3.8"/><ellipse cx="1388.6" cy="978.6" rx="4.6" ry="3.8"/><ellipse cx="1375.0" cy="1050.0" rx="4.6" ry="3.8"/><ellipse cx="1388.2" cy="1067.2" rx="4.6" ry="3.8"/><ellipse cx="1385.4" cy="1069.1" rx="4.6" ry="3.8"/><ellipse cx="1382.6" cy="1074.7" rx="4.6" ry="3.8"/><ellipse cx="1395.4" cy="1005.7" rx="4.6" ry="3.8"/><ellipse cx="1390.1" cy="1053.4" rx="4.6" ry="3.8"/><ellipse cx="1380.4" cy="1030.5" rx="4.6" ry="3.8"/><ellipse cx="1397.5" cy="979.3" rx="4.6" ry="3.8"/><ellipse cx="1397.5" cy="1054.1" rx="4.6" ry="3.8"/><ellipse cx="1398.6" cy="991.7" rx="4.6" ry="3.8"/><ellipse cx="1377.6" cy="1074.5" rx="4.6" ry="3.8"/><ellipse cx="1397.5" cy="1011.2" rx="4.6" ry="3.8"/><ellipse cx="1377.6" cy="967.1" rx="4.6" ry="3.8"/><ellipse cx="1392.8" cy="983.8" rx="4.6" ry="3.8"/><ellipse cx="1401.6" cy="1036.8" rx="4.6" ry="3.8"/><ellipse cx="1380.6" cy="1048.7" rx="4.6" ry="3.8"/><ellipse cx="1385.1" cy="1098.0" rx="4.6" ry="3.8"/><ellipse cx="1400.5" cy="1023.6" rx="4.6" ry="3.8"/><ellipse cx="1393.0" cy="1056.2" rx="4.6" ry="3.8"/><ellipse cx="1375.8" cy="996.3" rx="4.6" ry="3.8"/><ellipse cx="1391.8" cy="986.2" rx="4.6" ry="3.8"/><ellipse cx="1391.5" cy="948.0" rx="4.6" ry="3.8"/><ellipse cx="1399.6" cy="1025.5" rx="4.6" ry="3.8"/><ellipse cx="1378.3" cy="1050.0" rx="4.6" ry="3.8"/><ellipse cx="1383.7" cy="966.9" rx="4.6" ry="3.8"/><ellipse cx="1388.5" cy="956.6" rx="4.6" ry="3.8"/><ellipse cx="1380.9" cy="1086.1" rx="4.6" ry="3.8"/><ellipse cx="1384.3" cy="1093.0" rx="4.6" ry="3.8"/><ellipse cx="1392.4" cy="986.5" rx="4.6" ry="3.8"/><ellipse cx="1385.6" cy="1001.3" rx="4.6" ry="3.8"/><ellipse cx="1378.6" cy="1110.0" rx="4.6" ry="3.8"/><ellipse cx="1376.5" cy="1007.3" rx="4.6" ry="3.8"/><ellipse cx="1395.9" cy="1002.8" rx="4.6" ry="3.8"/><ellipse cx="1393.8" cy="1090.3" rx="4.6" ry="3.8"/><ellipse cx="1387.5" cy="1080.0" rx="4.6" ry="3.8"/><ellipse cx="1397.3" cy="1024.0" rx="4.6" ry="3.8"/><ellipse cx="1388.2" cy="1057.6" rx="4.6" ry="3.8"/><ellipse cx="1386.5" cy="947.3" rx="4.6" ry="3.8"/><ellipse cx="1395.9" cy="979.3" rx="4.6" ry="3.8"/><ellipse cx="1388.7" cy="1071.6" rx="4.6" ry="3.8"/><ellipse cx="1379.8" cy="935.9" rx="4.6" ry="3.8"/><ellipse cx="1378.5" cy="1036.9" rx="4.6" ry="3.8"/><ellipse cx="1385.1" cy="977.6" rx="4.6" ry="3.8"/><ellipse cx="1387.6" cy="1097.1" rx="4.6" ry="3.8"/><ellipse cx="1382.1" cy="1005.1" rx="4.6" ry="3.8"/><ellipse cx="1399.6" cy="1041.0" rx="4.6" ry="3.8"/><ellipse cx="1382.5" cy="1016.5" rx="4.6" ry="3.8"/><ellipse cx="1388.4" cy="957.3" rx="4.6" ry="3.8"/><ellipse cx="1385.6" cy="986.4" rx="4.6" ry="3.8"/><ellipse cx="1397.5" cy="989.6" rx="4.6" ry="3.8"/><ellipse cx="1391.9" cy="989.0" rx="4.6" ry="3.8"/><ellipse cx="1386.2" cy="1018.9" rx="4.6" ry="3.8"/><ellipse cx="1383.1" cy="933.1" rx="4.6" ry="3.8"/><ellipse cx="1387.6" cy="942.2" rx="4.6" ry="3.8"/><ellipse cx="1375.8" cy="1069.7" rx="4.6" ry="3.8"/><ellipse cx="1378.1" cy="1059.9" rx="4.6" ry="3.8"/><ellipse cx="1385.1" cy="1099.0" rx="4.6" ry="3.8"/><ellipse cx="1380.4" cy="1100.6" rx="4.6" ry="3.8"/><ellipse cx="1392.2" cy="1007.1" rx="4.6" ry="3.8"/><ellipse cx="1396.9" cy="1076.8" rx="4.6" ry="3.8"/><ellipse cx="1388.8" cy="1015.5" rx="4.6" ry="3.8"/><ellipse cx="1377.8" cy="996.4" rx="4.6" ry="3.8"/><ellipse cx="1379.1" cy="1043.4" rx="4.6" ry="3.8"/><ellipse cx="1392.0" cy="957.7" rx="4.6" ry="3.8"/><ellipse cx="1392.6" cy="949.3" rx="4.6" ry="3.8"/><ellipse cx="1378.0" cy="1046.9" rx="4.6" ry="3.8"/><ellipse cx="1388.0" cy="1092.1" rx="4.6" ry="3.8"/><ellipse cx="1392.6" cy="1056.8" rx="4.6" ry="3.8"/><ellipse cx="1378.6" cy="1080.2" rx="4.6" ry="3.8"/><ellipse cx="1377.3" cy="1042.0" rx="4.6" ry="3.8"/><ellipse cx="1400.0" cy="1012.5" rx="4.6" ry="3.8"/><ellipse cx="1394.4" cy="1072.9" rx="4.6" ry="3.8"/><ellipse cx="1378.8" cy="1099.9" rx="4.6" ry="3.8"/><ellipse cx="1400.4" cy="1010.5" rx="4.6" ry="3.8"/><ellipse cx="1396.8" cy="1011.6" rx="4.6" ry="3.8"/><ellipse cx="1382.7" cy="1058.8" rx="4.6" ry="3.8"/><ellipse cx="1376.8" cy="1074.4" rx="4.6" ry="3.8"/><ellipse cx="1399.0" cy="981.8" rx="4.6" ry="3.8"/><ellipse cx="1377.4" cy="1077.3" rx="4.6" ry="3.8"/><ellipse cx="1392.9" cy="1027.3" rx="4.6" ry="3.8"/><ellipse cx="1375.9" cy="962.8" rx="4.6" ry="3.8"/><ellipse cx="1385.4" cy="941.3" rx="4.6" ry="3.8"/><ellipse cx="1384.6" cy="945.8" rx="4.6" ry="3.8"/><ellipse cx="1395.5" cy="952.3" rx="4.6" ry="3.8"/><ellipse cx="1390.3" cy="1014.6" rx="4.6" ry="3.8"/><ellipse cx="1388.8" cy="945.4" rx="4.6" ry="3.8"/><ellipse cx="1377.1" cy="1024.6" rx="4.6" ry="3.8"/><ellipse cx="1375.9" cy="1025.5" rx="4.6" ry="3.8"/><ellipse cx="1379.2" cy="982.1" rx="4.6" ry="3.8"/><ellipse cx="1379.2" cy="1033.2" rx="4.6" ry="3.8"/><ellipse cx="1385.9" cy="971.7" rx="4.6" ry="3.8"/><ellipse cx="1381.2" cy="1032.4" rx="4.6" ry="3.8"/><ellipse cx="1400.5" cy="1006.6" rx="4.6" ry="3.8"/><ellipse cx="1379.6" cy="988.3" rx="4.6" ry="3.8"/><ellipse cx="1381.7" cy="1033.9" rx="4.6" ry="3.8"/><ellipse cx="1397.0" cy="1033.3" rx="4.6" ry="3.8"/><ellipse cx="1380.3" cy="989.9" rx="4.6" ry="3.8"/><ellipse cx="1385.7" cy="1010.5" rx="4.6" ry="3.8"/><ellipse cx="1386.1" cy="1109.6" rx="4.6" ry="3.8"/><ellipse cx="1390.4" cy="1049.8" rx="4.6" ry="3.8"/><ellipse cx="1395.1" cy="1046.8" rx="4.6" ry="3.8"/><ellipse cx="1397.5" cy="998.3" rx="4.6" ry="3.8"/><ellipse cx="1379.6" cy="1043.3" rx="4.6" ry="3.8"/><ellipse cx="1385.8" cy="942.9" rx="4.6" ry="3.8"/><ellipse cx="1376.1" cy="1067.1" rx="4.6" ry="3.8"/><ellipse cx="1378.2" cy="1058.6" rx="4.6" ry="3.8"/><ellipse cx="1377.8" cy="997.4" rx="4.6" ry="3.8"/><ellipse cx="1375.9" cy="1028.6" rx="4.6" ry="3.8"/><ellipse cx="1397.0" cy="972.2" rx="4.6" ry="3.8"/><ellipse cx="1390.8" cy="1096.2" rx="4.6" ry="3.8"/><ellipse cx="1383.2" cy="1015.8" rx="4.6" ry="3.8"/><ellipse cx="1395.3" cy="1085.8" rx="4.6" ry="3.8"/><ellipse cx="1379.7" cy="1049.7" rx="4.6" ry="3.8"/><ellipse cx="1378.4" cy="952.0" rx="4.6" ry="3.8"/><ellipse cx="1393.9" cy="1061.8" rx="4.6" ry="3.8"/><ellipse cx="1393.2" cy="983.1" rx="4.6" ry="3.8"/><ellipse cx="1387.4" cy="968.0" rx="4.6" ry="3.8"/><ellipse cx="1397.1" cy="970.1" rx="4.6" ry="3.8"/><ellipse cx="1391.6" cy="977.4" rx="4.6" ry="3.8"/><ellipse cx="1397.1" cy="1064.6" rx="4.6" ry="3.8"/><ellipse cx="1394.1" cy="1070.3" rx="4.6" ry="3.8"/><ellipse cx="1377.6" cy="1038.0" rx="4.6" ry="3.8"/><ellipse cx="1375.9" cy="997.4" rx="4.6" ry="3.8"/><ellipse cx="1378.3" cy="1100.8" rx="4.6" ry="3.8"/><ellipse cx="1375.8" cy="1096.0" rx="4.6" ry="3.8"/><ellipse cx="1401.5" cy="1009.5" rx="4.6" ry="3.8"/><ellipse cx="1378.9" cy="933.7" rx="4.6" ry="3.8"/><ellipse cx="1398.2" cy="947.6" rx="4.6" ry="3.8"/><ellipse cx="1391.5" cy="980.6" rx="4.6" ry="3.8"/><ellipse cx="1378.7" cy="1006.6" rx="4.6" ry="3.8"/><ellipse cx="1380.1" cy="1105.9" rx="4.6" ry="3.8"/><ellipse cx="1385.7" cy="1037.7" rx="4.6" ry="3.8"/><ellipse cx="1390.8" cy="1043.6" rx="4.6" ry="3.8"/><ellipse cx="1388.5" cy="980.1" rx="4.6" ry="3.8"/><ellipse cx="1378.8" cy="1090.1" rx="4.6" ry="3.8"/><ellipse cx="1380.4" cy="1011.8" rx="4.6" ry="3.8"/><ellipse cx="1397.6" cy="1034.5" rx="4.6" ry="3.8"/><ellipse cx="1389.4" cy="953.3" rx="4.6" ry="3.8"/><ellipse cx="1391.6" cy="1016.3" rx="4.6" ry="3.8"/><ellipse cx="1399.1" cy="1026.5" rx="4.6" ry="3.8"/><ellipse cx="1394.4" cy="1076.5" rx="4.6" ry="3.8"/><ellipse cx="1388.2" cy="1081.9" rx="4.6" ry="3.8"/><ellipse cx="1400.2" cy="959.5" rx="4.6" ry="3.8"/><ellipse cx="1398.9" cy="992.1" rx="4.6" ry="3.8"/><ellipse cx="1382.1" cy="955.6" rx="4.6" ry="3.8"/><ellipse cx="1385.4" cy="1084.2" rx="4.6" ry="3.8"/><ellipse cx="1385.2" cy="933.0" rx="4.6" ry="3.8"/><ellipse cx="1383.5" cy="946.7" rx="4.6" ry="3.8"/><ellipse cx="1392.4" cy="1068.7" rx="4.6" ry="3.8"/><ellipse cx="1385.7" cy="954.4" rx="4.6" ry="3.8"/><ellipse cx="1389.6" cy="1101.8" rx="4.6" ry="3.8"/><ellipse cx="1389.6" cy="1070.2" rx="4.6" ry="3.8"/><ellipse cx="1388.7" cy="996.8" rx="4.6" ry="3.8"/><ellipse cx="1391.6" cy="1086.4" rx="4.6" ry="3.8"/><ellipse cx="1393.2" cy="1074.0" rx="4.6" ry="3.8"/><ellipse cx="1376.9" cy="955.4" rx="4.6" ry="3.8"/><ellipse cx="1378.1" cy="1039.4" rx="4.6" ry="3.8"/><ellipse cx="1395.2" cy="959.6" rx="4.6" ry="3.8"/><ellipse cx="1389.1" cy="952.2" rx="4.6" ry="3.8"/><ellipse cx="1394.3" cy="1070.7" rx="4.6" ry="3.8"/><ellipse cx="1377.4" cy="1106.4" rx="4.6" ry="3.8"/><ellipse cx="1393.6" cy="954.2" rx="4.6" ry="3.8"/><ellipse cx="1384.8" cy="960.2" rx="4.6" ry="3.8"/><ellipse cx="1395.4" cy="1095.2" rx="4.6" ry="3.8"/><ellipse cx="1379.9" cy="964.8" rx="4.6" ry="3.8"/><ellipse cx="1392.6" cy="1085.0" rx="4.6" ry="3.8"/><ellipse cx="1395.7" cy="1013.5" rx="4.6" ry="3.8"/><ellipse cx="1378.1" cy="1041.3" rx="4.6" ry="3.8"/><ellipse cx="1387.8" cy="1075.1" rx="4.6" ry="3.8"/><ellipse cx="1391.0" cy="1062.6" rx="4.6" ry="3.8"/><ellipse cx="1375.0" cy="1089.1" rx="4.6" ry="3.8"/><ellipse cx="1375.8" cy="1108.9" rx="4.6" ry="3.8"/><ellipse cx="1387.8" cy="942.9" rx="4.6" ry="3.8"/><ellipse cx="1382.7" cy="1060.4" rx="4.6" ry="3.8"/><ellipse cx="1385.8" cy="1043.0" rx="4.6" ry="3.8"/><ellipse cx="1377.9" cy="1080.7" rx="4.6" ry="3.8"/><ellipse cx="1385.4" cy="1080.2" rx="4.6" ry="3.8"/><ellipse cx="1379.1" cy="1050.8" rx="4.6" ry="3.8"/><ellipse cx="1388.1" cy="1004.0" rx="4.6" ry="3.8"/><ellipse cx="1375.5" cy="1026.6" rx="4.6" ry="3.8"/><ellipse cx="1398.5" cy="950.5" rx="4.6" ry="3.8"/><ellipse cx="1387.5" cy="934.2" rx="4.6" ry="3.8"/><ellipse cx="1394.0" cy="1017.5" rx="4.6" ry="3.8"/><ellipse cx="1377.0" cy="953.6" rx="4.6" ry="3.8"/><ellipse cx="1394.7" cy="1073.4" rx="4.6" ry="3.8"/><ellipse cx="1387.3" cy="977.4" rx="4.6" ry="3.8"/><ellipse cx="1390.2" cy="993.6" rx="4.6" ry="3.8"/><ellipse cx="1390.3" cy="1089.4" rx="4.6" ry="3.8"/><ellipse cx="1387.7" cy="1106.7" rx="4.6" ry="3.8"/><ellipse cx="1395.1" cy="940.1" rx="4.6" ry="3.8"/><ellipse cx="1395.9" cy="1049.8" rx="4.6" ry="3.8"/><ellipse cx="1399.6" cy="1020.2" rx="4.6" ry="3.8"/><ellipse cx="1390.0" cy="962.3" rx="4.6" ry="3.8"/><ellipse cx="1376.0" cy="934.5" rx="4.6" ry="3.8"/><ellipse cx="1380.9" cy="986.1" rx="4.6" ry="3.8"/><ellipse cx="1379.3" cy="942.4" rx="4.6" ry="3.8"/><ellipse cx="1395.4" cy="1057.0" rx="4.6" ry="3.8"/><ellipse cx="1399.7" cy="970.7" rx="4.6" ry="3.8"/><ellipse cx="1395.4" cy="1037.8" rx="4.6" ry="3.8"/><ellipse cx="1377.5" cy="1087.8" rx="4.6" ry="3.8"/><ellipse cx="1385.0" cy="964.9" rx="4.6" ry="3.8"/><ellipse cx="1380.1" cy="1096.5" rx="4.6" ry="3.8"/><ellipse cx="1381.2" cy="1000.4" rx="4.6" ry="3.8"/><ellipse cx="1390.3" cy="995.9" rx="4.6" ry="3.8"/><ellipse cx="1393.4" cy="947.6" rx="4.6" ry="3.8"/><ellipse cx="1387.0" cy="1036.0" rx="4.6" ry="3.8"/><ellipse cx="1392.3" cy="1040.4" rx="4.6" ry="3.8"/><ellipse cx="1382.5" cy="1045.6" rx="4.6" ry="3.8"/><ellipse cx="1402.2" cy="1017.9" rx="4.6" ry="3.8"/><ellipse cx="1393.0" cy="1081.0" rx="4.6" ry="3.8"/><ellipse cx="1382.1" cy="979.3" rx="4.6" ry="3.8"/><ellipse cx="1386.9" cy="998.0" rx="4.6" ry="3.8"/><ellipse cx="1400.1" cy="960.9" rx="4.6" ry="3.8"/><ellipse cx="1382.8" cy="1047.7" rx="4.6" ry="3.8"/><ellipse cx="1383.9" cy="1050.1" rx="4.6" ry="3.8"/><ellipse cx="1389.2" cy="945.9" rx="4.6" ry="3.8"/><ellipse cx="1378.1" cy="1010.1" rx="4.6" ry="3.8"/><ellipse cx="1389.9" cy="963.4" rx="4.6" ry="3.8"/><ellipse cx="1382.4" cy="987.0" rx="4.6" ry="3.8"/><ellipse cx="1385.9" cy="1037.6" rx="4.6" ry="3.8"/><ellipse cx="1398.9" cy="1059.7" rx="4.6" ry="3.8"/><ellipse cx="1395.7" cy="982.4" rx="4.6" ry="3.8"/><ellipse cx="1388.9" cy="1061.4" rx="4.6" ry="3.8"/><ellipse cx="1375.4" cy="941.1" rx="4.6" ry="3.8"/><ellipse cx="1389.4" cy="1087.3" rx="4.6" ry="3.8"/><ellipse cx="1379.3" cy="1071.5" rx="4.6" ry="3.8"/><ellipse cx="1393.0" cy="1085.8" rx="4.6" ry="3.8"/><ellipse cx="1397.2" cy="956.1" rx="4.6" ry="3.8"/><ellipse cx="1378.3" cy="1003.0" rx="4.6" ry="3.8"/><ellipse cx="1388.7" cy="944.4" rx="4.6" ry="3.8"/><ellipse cx="1382.7" cy="963.2" rx="4.6" ry="3.8"/><ellipse cx="1378.8" cy="949.6" rx="4.6" ry="3.8"/><ellipse cx="1375.7" cy="970.7" rx="4.6" ry="3.8"/><ellipse cx="1384.2" cy="1006.7" rx="4.6" ry="3.8"/><ellipse cx="1394.4" cy="1040.9" rx="4.6" ry="3.8"/><ellipse cx="1388.7" cy="989.5" rx="4.6" ry="3.8"/><ellipse cx="1392.2" cy="966.3" rx="4.6" ry="3.8"/><ellipse cx="1380.0" cy="952.1" rx="4.6" ry="3.8"/><ellipse cx="1393.7" cy="956.8" rx="4.6" ry="3.8"/><ellipse cx="1381.2" cy="994.6" rx="4.6" ry="3.8"/><ellipse cx="1390.8" cy="1047.3" rx="4.6" ry="3.8"/><ellipse cx="1391.6" cy="1038.1" rx="4.6" ry="3.8"/><ellipse cx="1380.4" cy="1094.5" rx="4.6" ry="3.8"/><ellipse cx="1395.6" cy="1004.4" rx="4.6" ry="3.8"/><ellipse cx="1386.1" cy="1034.7" rx="4.6" ry="3.8"/><ellipse cx="1378.3" cy="1046.7" rx="4.6" ry="3.8"/><ellipse cx="1389.0" cy="977.1" rx="4.6" ry="3.8"/><ellipse cx="1385.1" cy="1058.9" rx="4.6" ry="3.8"/><ellipse cx="1385.4" cy="1093.1" rx="4.6" ry="3.8"/><ellipse cx="1386.5" cy="1036.8" rx="4.6" ry="3.8"/><ellipse cx="1383.5" cy="1036.9" rx="4.6" ry="3.8"/><ellipse cx="1388.2" cy="950.5" rx="4.6" ry="3.8"/><ellipse cx="1399.9" cy="960.6" rx="4.6" ry="3.8"/><ellipse cx="1391.1" cy="1052.5" rx="4.6" ry="3.8"/><ellipse cx="1388.1" cy="990.3" rx="4.6" ry="3.8"/><ellipse cx="1387.7" cy="1109.9" rx="4.6" ry="3.8"/><ellipse cx="1375.3" cy="1089.5" rx="4.6" ry="3.8"/><ellipse cx="1392.0" cy="1017.6" rx="4.6" ry="3.8"/><ellipse cx="1392.9" cy="1045.9" rx="4.6" ry="3.8"/><ellipse cx="1389.4" cy="994.5" rx="4.6" ry="3.8"/><ellipse cx="1385.1" cy="1094.1" rx="4.6" ry="3.8"/><ellipse cx="1388.4" cy="944.6" rx="4.6" ry="3.8"/><ellipse cx="1391.4" cy="952.5" rx="4.6" ry="3.8"/><ellipse cx="1384.7" cy="1047.8" rx="4.6" ry="3.8"/><ellipse cx="1392.2" cy="1027.5" rx="4.6" ry="3.8"/><ellipse cx="1398.2" cy="1040.3" rx="4.6" ry="3.8"/><ellipse cx="1382.4" cy="1071.1" rx="4.6" ry="3.8"/><ellipse cx="1385.1" cy="1100.2" rx="4.6" ry="3.8"/><ellipse cx="1392.3" cy="1006.4" rx="4.6" ry="3.8"/><ellipse cx="1379.9" cy="1082.9" rx="4.6" ry="3.8"/><ellipse cx="1384.9" cy="934.8" rx="4.6" ry="3.8"/><ellipse cx="1376.3" cy="937.4" rx="4.6" ry="3.8"/><ellipse cx="1393.0" cy="1032.1" rx="4.6" ry="3.8"/><ellipse cx="1388.5" cy="1098.4" rx="4.6" ry="3.8"/><ellipse cx="1388.2" cy="968.6" rx="4.6" ry="3.8"/><ellipse cx="1376.4" cy="971.7" rx="4.6" ry="3.8"/><ellipse cx="1385.0" cy="997.8" rx="4.6" ry="3.8"/><ellipse cx="1385.4" cy="1066.5" rx="4.6" ry="3.8"/><ellipse cx="1392.9" cy="981.7" rx="4.6" ry="3.8"/><ellipse cx="1380.3" cy="1077.3" rx="4.6" ry="3.8"/><ellipse cx="1390.7" cy="1021.3" rx="4.6" ry="3.8"/><ellipse cx="1380.6" cy="1105.8" rx="4.6" ry="3.8"/><ellipse cx="1389.8" cy="1095.4" rx="4.6" ry="3.8"/><ellipse cx="1393.9" cy="1045.7" rx="4.6" ry="3.8"/><ellipse cx="1375.7" cy="1094.7" rx="4.6" ry="3.8"/><ellipse cx="1377.3" cy="1052.2" rx="4.6" ry="3.8"/><ellipse cx="1393.7" cy="966.4" rx="4.6" ry="3.8"/><ellipse cx="1390.9" cy="1017.8" rx="4.6" ry="3.8"/><ellipse cx="1384.2" cy="1051.1" rx="4.6" ry="3.8"/><ellipse cx="1387.3" cy="1068.6" rx="4.6" ry="3.8"/><ellipse cx="1384.1" cy="1028.5" rx="4.6" ry="3.8"/><ellipse cx="1383.3" cy="1038.8" rx="4.6" ry="3.8"/><ellipse cx="1375.8" cy="950.7" rx="4.6" ry="3.8"/><ellipse cx="1389.3" cy="970.3" rx="4.6" ry="3.8"/><ellipse cx="1380.8" cy="1005.5" rx="4.6" ry="3.8"/><ellipse cx="1391.6" cy="1048.4" rx="4.6" ry="3.8"/><ellipse cx="1391.8" cy="1020.7" rx="4.6" ry="3.8"/><ellipse cx="1387.1" cy="1086.7" rx="4.6" ry="3.8"/></g>
<g fill="#e41a1c"><ellipse cx="1386.0" cy="892.0" rx="4.6" ry="3.8"/><ellipse cx="1390.0" cy="907.0" rx="4.6" ry="3.8"/><ellipse cx="1429.0" cy="910.0" rx="4.6" ry="3.8"/><ellipse cx="1437.0" cy="908.0" rx="4.6" ry="3.8"/><ellipse cx="1435.0" cy="922.0" rx="4.6" ry="3.8"/><ellipse cx="1393.0" cy="922.0" rx="4.6" ry="3.8"/><ellipse cx="1380.0" cy="928.0" rx="4.6" ry="3.8"/><ellipse cx="1395.0" cy="931.0" rx="4.6" ry="3.8"/><ellipse cx="1407.0" cy="940.0" rx="4.6" ry="3.8"/><ellipse cx="1407.0" cy="952.0" rx="4.6" ry="3.8"/><ellipse cx="1438.0" cy="953.0" rx="4.6" ry="3.8"/><ellipse cx="1425.0" cy="979.0" rx="4.6" ry="3.8"/><ellipse cx="1448.0" cy="989.0" rx="4.6" ry="3.8"/><ellipse cx="1420.0" cy="988.0" rx="4.6" ry="3.8"/><ellipse cx="1413.0" cy="978.0" rx="4.6" ry="3.8"/><ellipse cx="1408.0" cy="991.0" rx="4.6" ry="3.8"/><ellipse cx="1414.0" cy="1005.0" rx="4.6" ry="3.8"/><ellipse cx="1411.0" cy="1020.0" rx="4.6" ry="3.8"/><ellipse cx="1410.0" cy="1034.0" rx="4.6" ry="3.8"/><ellipse cx="1404.0" cy="1050.0" rx="4.6" ry="3.8"/><ellipse cx="1401.0" cy="1071.0" rx="4.6" ry="3.8"/><ellipse cx="1451.0" cy="1073.0" rx="4.6" ry="3.8"/><ellipse cx="1427.0" cy="1087.0" rx="4.6" ry="3.8"/><ellipse cx="1410.0" cy="1094.0" rx="4.6" ry="3.8"/><ellipse cx="1404.0" cy="1105.0" rx="4.6" ry="3.8"/><ellipse cx="1417.0" cy="1108.0" rx="4.6" ry="3.8"/><ellipse cx="1392.0" cy="1108.0" rx="4.6" ry="3.8"/><ellipse cx="1413.2" cy="1006.0" rx="4.6" ry="3.8"/><ellipse cx="1411.0" cy="1019.0" rx="4.6" ry="3.8"/><ellipse cx="1403.0" cy="1050.0" rx="4.6" ry="3.8"/><ellipse cx="1401.0" cy="1040.0" rx="4.6" ry="3.8"/><ellipse cx="1416.0" cy="1108.0" rx="4.6" ry="3.8"/><ellipse cx="1426.8" cy="1087.2" rx="4.6" ry="3.8"/><ellipse cx="1404.0" cy="960.0" rx="4.6" ry="3.8"/><ellipse cx="1406.0" cy="968.0" rx="4.6" ry="3.8"/><ellipse cx="1402.0" cy="1000.0" rx="4.6" ry="3.8"/><ellipse cx="1405.0" cy="1062.0" rx="4.6" ry="3.8"/><ellipse cx="1402.0" cy="1088.0" rx="4.6" ry="3.8"/><ellipse cx="1398.0" cy="1100.0" rx="4.6" ry="3.8"/><ellipse cx="1380.0" cy="1112.0" rx="4.6" ry="3.8"/></g>
<line x1="1095.4" y1="869.0" x2="1095.4" y2="937.0" stroke="#377eb8" stroke-width="1.2"/>
<text x="0" y="0" font-size="30.7" fill="#1f78b4" font-style="italic" transform="translate(1063.6 863.0) scale(1 1.045)">MAFB</text>
<line x1="1447.0" y1="901.0" x2="1462.5" y2="891.0" stroke="#e41a1c" stroke-width="1.2"/>
<text x="0" y="0" font-size="30.6" fill="#e41a1c" font-style="italic" transform="translate(1469.9 889.2) scale(1 1.045)">MYB</text>
<text x="0" y="0" font-size="30" fill="#1f5bab" transform="translate(1046.0 1049.8) scale(1 1.045)">138</text>
<text x="0" y="0" font-size="30" fill="#e8402a" transform="translate(1495.0 1049.8) scale(1 1.045)">204</text>
<line x1="1221.6" y1="672.0" x2="1221.6" y2="1193.2" stroke="#222" stroke-width="1.4" stroke-dasharray="4.5,3"/>
<line x1="1375.2" y1="672.0" x2="1375.2" y2="1193.2" stroke="#222" stroke-width="1.4" stroke-dasharray="4.5,3"/>
<line x1="1003.5" y1="1107.7" x2="1593.5" y2="1107.7" stroke="#222" stroke-width="1.4" stroke-dasharray="4.5,3"/>
<rect x="1003.5" y="672.0" width="590.0" height="521.2" fill="none" stroke="#555" stroke-width="1.3"/>
<line x1="998.5" y1="1169.2" x2="1003.5" y2="1169.2" stroke="#666" stroke-width="1.3"/>
<text x="0" y="0" font-size="30.5" text-anchor="end" transform="translate(996.5 1180.4) scale(1.0 1.1)">0.0</text>
<line x1="998.5" y1="1051.0" x2="1003.5" y2="1051.0" stroke="#666" stroke-width="1.3"/>
<text x="0" y="0" font-size="30.5" text-anchor="end" transform="translate(996.5 1062.2) scale(1.0 1.1)">2.5</text>
<line x1="998.5" y1="932.7" x2="1003.5" y2="932.7" stroke="#666" stroke-width="1.3"/>
<text x="0" y="0" font-size="30.5" text-anchor="end" transform="translate(996.5 943.9) scale(1.0 1.1)">5.0</text>
<line x1="998.5" y1="814.5" x2="1003.5" y2="814.5" stroke="#666" stroke-width="1.3"/>
<text x="0" y="0" font-size="30.5" text-anchor="end" transform="translate(996.5 825.7) scale(1.0 1.1)">7.5</text>
<line x1="998.5" y1="696.2" x2="1003.5" y2="696.2" stroke="#666" stroke-width="1.3"/>
<text x="0" y="0" font-size="30.5" text-anchor="end" transform="translate(996.5 707.4) scale(1.0 1.1)">10.0</text>
<line x1="1144.8" y1="1193.2" x2="1144.8" y2="1198.2" stroke="#666" stroke-width="1.3"/>
<text x="0" y="0" font-size="30.5" text-anchor="middle" transform="translate(1144.8 1229.2) scale(1.0 1.1)">-4</text>
<line x1="1298.4" y1="1193.2" x2="1298.4" y2="1198.2" stroke="#666" stroke-width="1.3"/>
<text x="0" y="0" font-size="30.5" text-anchor="middle" transform="translate(1298.4 1229.2) scale(1.0 1.1)">0.0</text>
<line x1="1452.0" y1="1193.2" x2="1452.0" y2="1198.2" stroke="#666" stroke-width="1.3"/>
<text x="0" y="0" font-size="30.5" text-anchor="middle" transform="translate(1452.0 1229.2) scale(1.0 1.1)">4</text>
<text x="0" y="0" font-size="30.3" text-anchor="middle" transform="translate(1308.4 1264.8) scale(1.02 1.05)">Log<tspan font-size="19" dy="7">2</tspan><tspan dy="-7">Fold-Change</tspan></text>
<text x="0" y="0" font-size="27.6" text-anchor="middle" transform="translate(934.7 935) scale(1.17 1) rotate(-90)">-Log<tspan font-size="17.5" dy="9">10</tspan><tspan dy="-9"> (adjusted P-value)</tspan></text>
<rect x="1613.9" y="872.4" width="101.3" height="109.0" fill="none" stroke="#444" stroke-width="1.2"/>
<text x="0" y="0" font-size="30.6" text-anchor="middle" fill="#e41a1c" transform="translate(1664.5 899.8) scale(1 1.045)">UP</text>
<text x="0" y="0" font-size="30.6" text-anchor="middle" fill="#4daf4a" transform="translate(1664.5 937.4) scale(1 1.045)">NS</text>
<text x="0" y="0" font-size="30.6" text-anchor="middle" fill="#4466b4" transform="translate(1664.5 974.9) scale(1 1.045)">DOWN</text>
<ellipse cx="402.4" cy="1500.6" rx="148.9" ry="137.9" fill="none" stroke="#e92d30" stroke-width="7"/>
<ellipse cx="575.4" cy="1509.6" rx="45.9" ry="42.1" fill="none" stroke="#1b75bc" stroke-width="7"/>
<text x="0" y="0" font-size="31" transform="translate(57.2 1364.8) scale(1 1.045)">Negative correlation</text>
<text x="0" y="0" font-size="36" text-anchor="middle" transform="translate(395.6 1513.0) scale(1 1.045)">214</text>
<text x="0" y="0" font-size="35" text-anchor="middle" transform="translate(583.0 1520.0) scale(1 1.045)">11</text>
<text x="0" y="0" font-size="35" text-anchor="middle" transform="translate(560.5 1600.0) scale(1 1.045)">3</text>
<line x1="541.0" y1="1516.0" x2="556.0" y2="1568.0" stroke="#1a1a1a" stroke-width="1.1"/>
<text x="0" y="0" font-size="31" text-anchor="middle" fill="#2159a8" transform="translate(625.8 1419.0) scale(1 1.045)">Complex</text>
<text x="0" y="0" font-size="31" text-anchor="middle" fill="#2159a8" transform="translate(625.3 1448.3) scale(1 1.045)">karyotype</text>
<text x="0" y="0" font-size="31" fill="#e4232b" transform="translate(83.2 1641.2) scale(1 1.045)">MLL-rearranged</text>
<ellipse cx="1200.5" cy="1512.2" rx="152.3" ry="146.1" fill="none" stroke="#e92d30" stroke-width="7"/>
<ellipse cx="1382.2" cy="1519.6" rx="86.3" ry="83.1" fill="none" stroke="#1b75bc" stroke-width="7"/>
<text x="0" y="0" font-size="31" transform="translate(876.3 1365.0) scale(1 1.045)">Positive correlation</text>
<text x="0" y="0" font-size="36" text-anchor="middle" transform="translate(1206.6 1531.4) scale(1 1.045)">179</text>
<text x="0" y="0" font-size="36" text-anchor="middle" transform="translate(1321.8 1531.4) scale(1 1.045)">25</text>
<text x="0" y="0" font-size="36" text-anchor="middle" transform="translate(1401.0 1531.4) scale(1 1.045)">86</text>
<text x="0" y="0" font-size="31" text-anchor="middle" fill="#2159a8" transform="translate(1500.3 1392.6) scale(1 1.045)">Complex</text>
<text x="0" y="0" font-size="31" text-anchor="middle" fill="#2159a8" transform="translate(1498.5 1421.0) scale(1 1.045)">karyotype</text>
<text x="0" y="0" font-size="31" fill="#e4232b" transform="translate(833.5 1629.0) scale(1 1.045)">MLL-rearranged</text>
<line x1="96.8" y1="2320.8" x2="434.0" y2="2320.8" stroke="#e9e9e9" stroke-width="2"/>
<line x1="96.8" y1="2174.4" x2="434.0" y2="2174.4" stroke="#e9e9e9" stroke-width="2"/>
<line x1="96.8" y1="2028.0" x2="434.0" y2="2028.0" stroke="#e9e9e9" stroke-width="2"/>
<line x1="96.8" y1="1881.6" x2="434.0" y2="1881.6" stroke="#e9e9e9" stroke-width="2"/>
<line x1="96.8" y1="2247.6" x2="434.0" y2="2247.6" stroke="#e3e5e4" stroke-width="3"/>
<line x1="96.8" y1="2101.2" x2="434.0" y2="2101.2" stroke="#e3e5e4" stroke-width="3"/>
<line x1="96.8" y1="1954.8" x2="434.0" y2="1954.8" stroke="#e3e5e4" stroke-width="3"/>
<line x1="128.8" y1="1823.2" x2="128.8" y2="2343.6" stroke="#e3e5e4" stroke-width="3.2"/>
<line x1="183.4" y1="1823.2" x2="183.4" y2="2343.6" stroke="#e3e5e4" stroke-width="3.2"/>
<line x1="238.1" y1="1823.2" x2="238.1" y2="2343.6" stroke="#e3e5e4" stroke-width="3.2"/>
<line x1="292.7" y1="1823.2" x2="292.7" y2="2343.6" stroke="#e3e5e4" stroke-width="3.2"/>
<line x1="347.4" y1="1823.2" x2="347.4" y2="2343.6" stroke="#e3e5e4" stroke-width="3.2"/>
<line x1="402.0" y1="1823.2" x2="402.0" y2="2343.6" stroke="#e3e5e4" stroke-width="3.2"/>
<rect x="109.4" y="2162.8" width="18.6" height="21.6" fill="none" stroke="#e41a1c" stroke-width="2.2"/>
<line x1="109.4" y1="2171.6" x2="128.0" y2="2171.6" stroke="#e41a1c" stroke-width="3.2"/>
<rect x="130.0" y="2183.3" width="18.6" height="16.2" fill="none" stroke="#377eb8" stroke-width="2.2"/>
<line x1="130.0" y1="2194.8" x2="148.6" y2="2194.8" stroke="#377eb8" stroke-width="3.2"/>
<rect x="164.0" y="2200.6" width="18.6" height="22.0" fill="none" stroke="#e41a1c" stroke-width="2.2"/>
<line x1="164.0" y1="2209.2" x2="182.6" y2="2209.2" stroke="#e41a1c" stroke-width="3.2"/>
<rect x="184.6" y="2212.3" width="18.6" height="20.1" fill="none" stroke="#377eb8" stroke-width="2.2"/>
<line x1="184.6" y1="2218.6" x2="203.2" y2="2218.6" stroke="#377eb8" stroke-width="3.2"/>
<rect x="218.7" y="2110.0" width="18.6" height="44.6" fill="none" stroke="#e41a1c" stroke-width="2.2"/>
<line x1="218.7" y1="2134.0" x2="237.3" y2="2134.0" stroke="#e41a1c" stroke-width="3.2"/>
<rect x="239.3" y="2162.0" width="18.6" height="41.8" fill="none" stroke="#377eb8" stroke-width="2.2"/>
<line x1="239.3" y1="2183.3" x2="257.9" y2="2183.3" stroke="#377eb8" stroke-width="3.2"/>
<rect x="273.3" y="2089.4" width="18.6" height="39.0" fill="none" stroke="#e41a1c" stroke-width="2.2"/>
<line x1="273.3" y1="2112.4" x2="291.9" y2="2112.4" stroke="#e41a1c" stroke-width="3.2"/>
<rect x="293.9" y="2093.6" width="18.6" height="56.6" fill="none" stroke="#377eb8" stroke-width="2.2"/>
<line x1="293.9" y1="2118.4" x2="312.5" y2="2118.4" stroke="#377eb8" stroke-width="3.2"/>
<rect x="328.0" y="2064.8" width="18.6" height="33.8" fill="none" stroke="#e41a1c" stroke-width="2.2"/>
<line x1="328.0" y1="2086.1" x2="346.6" y2="2086.1" stroke="#e41a1c" stroke-width="3.2"/>
<rect x="348.6" y="2104.4" width="18.6" height="47.9" fill="none" stroke="#377eb8" stroke-width="2.2"/>
<line x1="348.6" y1="2126.1" x2="367.2" y2="2126.1" stroke="#377eb8" stroke-width="3.2"/>
<rect x="382.6" y="2280.3" width="18.6" height="5.9" fill="none" stroke="#e41a1c" stroke-width="2.2"/>
<line x1="382.6" y1="2283.2" x2="401.2" y2="2283.2" stroke="#e41a1c" stroke-width="3.2"/>
<rect x="403.2" y="2271.0" width="18.6" height="13.0" fill="none" stroke="#377eb8" stroke-width="2.2"/>
<line x1="403.2" y1="2278.0" x2="421.8" y2="2278.0" stroke="#377eb8" stroke-width="3.2"/>
<g fill="#ef5b45"><ellipse cx="117.1" cy="2158.2" rx="2.5" ry="2.8"/><ellipse cx="126.0" cy="2158.9" rx="2.5" ry="2.8"/><ellipse cx="134.2" cy="2162.7" rx="2.5" ry="2.8"/><ellipse cx="117.8" cy="2163.3" rx="2.5" ry="2.8"/><ellipse cx="123.8" cy="2169.3" rx="2.5" ry="2.8"/><ellipse cx="136.0" cy="2168.7" rx="2.5" ry="2.8"/><ellipse cx="130.0" cy="2174.4" rx="2.5" ry="2.8"/><ellipse cx="115.3" cy="2184.2" rx="2.5" ry="2.8"/><ellipse cx="122.0" cy="2187.5" rx="2.5" ry="2.8"/><ellipse cx="142.6" cy="2185.5" rx="2.5" ry="2.8"/><ellipse cx="147.5" cy="2182.2" rx="2.5" ry="2.8"/><ellipse cx="134.2" cy="2203.2" rx="2.5" ry="2.8"/><ellipse cx="177.6" cy="2183.7" rx="2.5" ry="2.8"/><ellipse cx="189.8" cy="2184.8" rx="2.5" ry="2.8"/><ellipse cx="182.5" cy="2191.9" rx="2.5" ry="2.8"/><ellipse cx="173.0" cy="2203.7" rx="2.5" ry="2.8"/><ellipse cx="187.6" cy="2203.0" rx="2.5" ry="2.8"/><ellipse cx="193.1" cy="2205.9" rx="2.5" ry="2.8"/><ellipse cx="180.7" cy="2214.1" rx="2.5" ry="2.8"/><ellipse cx="171.0" cy="2217.4" rx="2.5" ry="2.8"/><ellipse cx="168.1" cy="2222.9" rx="2.5" ry="2.8"/><ellipse cx="185.8" cy="2222.0" rx="2.5" ry="2.8"/><ellipse cx="194.7" cy="2226.5" rx="2.5" ry="2.8"/><ellipse cx="173.6" cy="2232.7" rx="2.5" ry="2.8"/><ellipse cx="233.4" cy="2080.0" rx="2.5" ry="2.8"/><ellipse cx="246.3" cy="2094.0" rx="2.5" ry="2.8"/><ellipse cx="235.6" cy="2101.3" rx="2.5" ry="2.8"/><ellipse cx="226.8" cy="2113.3" rx="2.5" ry="2.8"/><ellipse cx="230.1" cy="2123.5" rx="2.5" ry="2.8"/><ellipse cx="239.4" cy="2132.3" rx="2.5" ry="2.8"/><ellipse cx="254.5" cy="2136.1" rx="2.5" ry="2.8"/><ellipse cx="235.6" cy="2143.4" rx="2.5" ry="2.8"/><ellipse cx="243.4" cy="2152.3" rx="2.5" ry="2.8"/><ellipse cx="227.9" cy="2161.6" rx="2.5" ry="2.8"/><ellipse cx="248.9" cy="2163.3" rx="2.5" ry="2.8"/><ellipse cx="219.0" cy="2176.0" rx="2.5" ry="2.8"/><ellipse cx="288.8" cy="2049.0" rx="2.5" ry="2.8"/><ellipse cx="298.1" cy="2061.2" rx="2.5" ry="2.8"/><ellipse cx="283.5" cy="2080.0" rx="2.5" ry="2.8"/><ellipse cx="285.7" cy="2093.3" rx="2.5" ry="2.8"/><ellipse cx="280.0" cy="2115.0" rx="2.5" ry="2.8"/><ellipse cx="301.0" cy="2110.6" rx="2.5" ry="2.8"/><ellipse cx="305.0" cy="2115.0" rx="2.5" ry="2.8"/><ellipse cx="311.4" cy="2106.6" rx="2.5" ry="2.8"/><ellipse cx="287.3" cy="2125.7" rx="2.5" ry="2.8"/><ellipse cx="281.5" cy="2136.7" rx="2.5" ry="2.8"/><ellipse cx="301.0" cy="2157.8" rx="2.5" ry="2.8"/><ellipse cx="292.6" cy="2196.6" rx="2.5" ry="2.8"/><ellipse cx="343.3" cy="2020.0" rx="2.5" ry="2.8"/><ellipse cx="354.6" cy="2034.8" rx="2.5" ry="2.8"/><ellipse cx="345.5" cy="2041.3" rx="2.5" ry="2.8"/><ellipse cx="355.5" cy="2073.2" rx="2.5" ry="2.8"/><ellipse cx="339.3" cy="2078.0" rx="2.5" ry="2.8"/><ellipse cx="326.0" cy="2086.7" rx="2.5" ry="2.8"/><ellipse cx="348.6" cy="2085.4" rx="2.5" ry="2.8"/><ellipse cx="344.6" cy="2089.6" rx="2.5" ry="2.8"/><ellipse cx="354.2" cy="2095.5" rx="2.5" ry="2.8"/><ellipse cx="336.0" cy="2107.1" rx="2.5" ry="2.8"/><ellipse cx="332.0" cy="2120.4" rx="2.5" ry="2.8"/><ellipse cx="359.0" cy="2122.8" rx="2.5" ry="2.8"/><ellipse cx="399.6" cy="2050.8" rx="2.5" ry="2.8"/><ellipse cx="404.0" cy="2070.7" rx="2.5" ry="2.8"/><ellipse cx="384.1" cy="2283.4" rx="2.5" ry="2.8"/><ellipse cx="390.7" cy="2288.3" rx="2.5" ry="2.8"/><ellipse cx="396.3" cy="2290.0" rx="2.5" ry="2.8"/><ellipse cx="408.4" cy="2289.4" rx="2.5" ry="2.8"/><ellipse cx="410.0" cy="2281.2" rx="2.5" ry="2.8"/><ellipse cx="416.6" cy="2285.2" rx="2.5" ry="2.8"/><ellipse cx="416.6" cy="2280.1" rx="2.5" ry="2.8"/><ellipse cx="399.6" cy="2284.1" rx="2.5" ry="2.8"/></g>
<g fill="#5b8fcf"><ellipse cx="141.9" cy="2158.9" rx="2.5" ry="2.8"/><ellipse cx="116.5" cy="2177.5" rx="2.5" ry="2.8"/><ellipse cx="126.4" cy="2182.6" rx="2.5" ry="2.8"/><ellipse cx="137.1" cy="2183.3" rx="2.5" ry="2.8"/><ellipse cx="130.9" cy="2191.0" rx="2.5" ry="2.8"/><ellipse cx="113.8" cy="2194.1" rx="2.5" ry="2.8"/><ellipse cx="124.4" cy="2196.3" rx="2.5" ry="2.8"/><ellipse cx="117.8" cy="2200.3" rx="2.5" ry="2.8"/><ellipse cx="143.7" cy="2195.5" rx="2.5" ry="2.8"/><ellipse cx="126.6" cy="2210.7" rx="2.5" ry="2.8"/><ellipse cx="129.1" cy="2219.4" rx="2.5" ry="2.8"/><ellipse cx="175.8" cy="2206.5" rx="2.5" ry="2.8"/><ellipse cx="163.6" cy="2212.1" rx="2.5" ry="2.8"/><ellipse cx="185.1" cy="2209.2" rx="2.5" ry="2.8"/><ellipse cx="192.0" cy="2214.7" rx="2.5" ry="2.8"/><ellipse cx="202.4" cy="2213.0" rx="2.5" ry="2.8"/><ellipse cx="176.9" cy="2220.3" rx="2.5" ry="2.8"/><ellipse cx="196.9" cy="2218.0" rx="2.5" ry="2.8"/><ellipse cx="180.3" cy="2227.4" rx="2.5" ry="2.8"/><ellipse cx="187.3" cy="2230.9" rx="2.5" ry="2.8"/><ellipse cx="178.0" cy="2238.0" rx="2.5" ry="2.8"/><ellipse cx="183.6" cy="2242.0" rx="2.5" ry="2.8"/><ellipse cx="189.8" cy="2235.8" rx="2.5" ry="2.8"/><ellipse cx="243.0" cy="2108.0" rx="2.5" ry="2.8"/><ellipse cx="248.3" cy="2119.9" rx="2.5" ry="2.8"/><ellipse cx="220.6" cy="2133.0" rx="2.5" ry="2.8"/><ellipse cx="230.1" cy="2172.2" rx="2.5" ry="2.8"/><ellipse cx="241.2" cy="2175.3" rx="2.5" ry="2.8"/><ellipse cx="233.0" cy="2183.7" rx="2.5" ry="2.8"/><ellipse cx="241.8" cy="2190.4" rx="2.5" ry="2.8"/><ellipse cx="253.8" cy="2183.3" rx="2.5" ry="2.8"/><ellipse cx="230.1" cy="2200.8" rx="2.5" ry="2.8"/><ellipse cx="243.8" cy="2213.2" rx="2.5" ry="2.8"/><ellipse cx="232.3" cy="2219.6" rx="2.5" ry="2.8"/><ellipse cx="237.9" cy="2224.3" rx="2.5" ry="2.8"/><ellipse cx="290.6" cy="2074.1" rx="2.5" ry="2.8"/><ellipse cx="296.6" cy="2077.4" rx="2.5" ry="2.8"/><ellipse cx="301.7" cy="2091.8" rx="2.5" ry="2.8"/><ellipse cx="272.6" cy="2106.2" rx="2.5" ry="2.8"/><ellipse cx="289.9" cy="2107.7" rx="2.5" ry="2.8"/><ellipse cx="294.3" cy="2129.4" rx="2.5" ry="2.8"/><ellipse cx="303.2" cy="2141.6" rx="2.5" ry="2.8"/><ellipse cx="288.8" cy="2148.9" rx="2.5" ry="2.8"/><ellipse cx="280.0" cy="2157.6" rx="2.5" ry="2.8"/><ellipse cx="285.7" cy="2161.1" rx="2.5" ry="2.8"/><ellipse cx="296.6" cy="2153.4" rx="2.5" ry="2.8"/><ellipse cx="350.0" cy="2046.8" rx="2.5" ry="2.8"/><ellipse cx="340.2" cy="2068.1" rx="2.5" ry="2.8"/><ellipse cx="366.3" cy="2088.5" rx="2.5" ry="2.8"/><ellipse cx="340.2" cy="2111.0" rx="2.5" ry="2.8"/><ellipse cx="349.3" cy="2116.6" rx="2.5" ry="2.8"/><ellipse cx="359.2" cy="2110.0" rx="2.5" ry="2.8"/><ellipse cx="345.3" cy="2135.6" rx="2.5" ry="2.8"/><ellipse cx="350.4" cy="2146.5" rx="2.5" ry="2.8"/><ellipse cx="338.4" cy="2150.9" rx="2.5" ry="2.8"/><ellipse cx="352.6" cy="2156.0" rx="2.5" ry="2.8"/><ellipse cx="342.6" cy="2169.3" rx="2.5" ry="2.8"/><ellipse cx="347.1" cy="2174.4" rx="2.5" ry="2.8"/><ellipse cx="401.4" cy="2261.3" rx="2.5" ry="2.8"/><ellipse cx="403.3" cy="2267.2" rx="2.5" ry="2.8"/><ellipse cx="396.3" cy="2270.1" rx="2.5" ry="2.8"/><ellipse cx="398.5" cy="2271.9" rx="2.5" ry="2.8"/><ellipse cx="405.6" cy="2272.3" rx="2.5" ry="2.8"/><ellipse cx="388.9" cy="2277.9" rx="2.5" ry="2.8"/><ellipse cx="394.0" cy="2283.4" rx="2.5" ry="2.8"/><ellipse cx="405.6" cy="2284.5" rx="2.5" ry="2.8"/><ellipse cx="406.7" cy="2288.3" rx="2.5" ry="2.8"/><ellipse cx="401.8" cy="2291.2" rx="2.5" ry="2.8"/><ellipse cx="398.0" cy="2286.0" rx="2.5" ry="2.8"/></g>
<rect x="96.8" y="1823.2" width="337.2" height="520.4" fill="none" stroke="#333333" stroke-width="1.8"/>
<line x1="91.3" y1="2247.6" x2="96.8" y2="2247.6" stroke="#333333" stroke-width="2.6"/>
<text x="0" y="0" font-size="29.5" text-anchor="end" fill="#4d4d4d" transform="translate(83.3 2258.0) scale(1.0 1.06)">4</text>
<line x1="91.3" y1="2101.2" x2="96.8" y2="2101.2" stroke="#333333" stroke-width="2.6"/>
<text x="0" y="0" font-size="29.5" text-anchor="end" fill="#4d4d4d" transform="translate(83.3 2111.6) scale(1.0 1.06)">8</text>
<line x1="91.3" y1="1954.8" x2="96.8" y2="1954.8" stroke="#333333" stroke-width="2.6"/>
<text x="0" y="0" font-size="29.5" text-anchor="end" fill="#4d4d4d" transform="translate(83.3 1965.2) scale(1.0 1.06)">12</text>
<line x1="128.8" y1="2343.6" x2="128.8" y2="2351.1" stroke="#333333" stroke-width="2.6"/>
<text x="137.0" y="2357.5" font-size="28.2" font-style="italic" text-anchor="end" transform="rotate(-90 137.0 2357.5)">BCL2</text>
<line x1="183.4" y1="2343.6" x2="183.4" y2="2351.1" stroke="#333333" stroke-width="2.6"/>
<text x="191.6" y="2357.5" font-size="28.2" font-style="italic" text-anchor="end" transform="rotate(-90 191.6 2357.5)">CDK2</text>
<line x1="238.1" y1="2343.6" x2="238.1" y2="2351.1" stroke="#333333" stroke-width="2.6"/>
<text x="246.3" y="2357.5" font-size="28.2" font-style="italic" text-anchor="end" transform="rotate(-90 246.3 2357.5)">CDK6</text>
<line x1="292.7" y1="2343.6" x2="292.7" y2="2351.1" stroke="#333333" stroke-width="2.6"/>
<text x="300.9" y="2357.5" font-size="28.2" font-style="italic" text-anchor="end" transform="rotate(-90 300.9 2357.5)">GFI1</text>
<line x1="347.4" y1="2343.6" x2="347.4" y2="2351.1" stroke="#333333" stroke-width="2.6"/>
<text x="355.6" y="2357.5" font-size="28.2" font-style="italic" text-anchor="end" transform="rotate(-90 355.6 2357.5)">KIT</text>
<line x1="402.0" y1="2343.6" x2="402.0" y2="2351.1" stroke="#333333" stroke-width="2.6"/>
<text x="410.2" y="2357.5" font-size="28.2" font-style="italic" text-anchor="end" transform="rotate(-90 410.2 2357.5)">MEIS2</text>
<rect x="101.2" y="1770.0" width="328.8" height="44.0" fill="none" stroke="#1a1a1a" stroke-width="2.2"/>
<text x="0" y="0" font-size="34" text-anchor="middle" transform="translate(265.6 1803.0) scale(1 1.045)">Complex karyotypes</text>
<text x="221.8" y="2019.2" font-size="31" font-weight="bold" font-family="DejaVu Sans, sans-serif" letter-spacing="2.3">**</text>
<text x="342.0" y="2008.2" font-size="31" font-weight="bold" font-family="DejaVu Sans, sans-serif" letter-spacing="2.3">*</text>
<line x1="492.0" y1="2320.8" x2="829.2" y2="2320.8" stroke="#e9e9e9" stroke-width="2"/>
<line x1="492.0" y1="2174.4" x2="829.2" y2="2174.4" stroke="#e9e9e9" stroke-width="2"/>
<line x1="492.0" y1="2028.0" x2="829.2" y2="2028.0" stroke="#e9e9e9" stroke-width="2"/>
<line x1="492.0" y1="1881.6" x2="829.2" y2="1881.6" stroke="#e9e9e9" stroke-width="2"/>
<line x1="492.0" y1="2247.6" x2="829.2" y2="2247.6" stroke="#e3e5e4" stroke-width="3"/>
<line x1="492.0" y1="2101.2" x2="829.2" y2="2101.2" stroke="#e3e5e4" stroke-width="3"/>
<line x1="492.0" y1="1954.8" x2="829.2" y2="1954.8" stroke="#e3e5e4" stroke-width="3"/>
<line x1="524.0" y1="1823.2" x2="524.0" y2="2343.6" stroke="#e3e5e4" stroke-width="3.2"/>
<line x1="578.6" y1="1823.2" x2="578.6" y2="2343.6" stroke="#e3e5e4" stroke-width="3.2"/>
<line x1="633.3" y1="1823.2" x2="633.3" y2="2343.6" stroke="#e3e5e4" stroke-width="3.2"/>
<line x1="687.9" y1="1823.2" x2="687.9" y2="2343.6" stroke="#e3e5e4" stroke-width="3.2"/>
<line x1="742.6" y1="1823.2" x2="742.6" y2="2343.6" stroke="#e3e5e4" stroke-width="3.2"/>
<line x1="797.2" y1="1823.2" x2="797.2" y2="2343.6" stroke="#e3e5e4" stroke-width="3.2"/>
<rect x="504.6" y="2161.0" width="18.6" height="18.8" fill="none" stroke="#e41a1c" stroke-width="2.2"/>
<line x1="504.6" y1="2164.3" x2="523.2" y2="2164.3" stroke="#e41a1c" stroke-width="3.2"/>
<rect x="525.2" y="2188.0" width="18.6" height="31.7" fill="none" stroke="#377eb8" stroke-width="2.2"/>
<line x1="525.2" y1="2206.4" x2="543.8" y2="2206.4" stroke="#377eb8" stroke-width="3.2"/>
<rect x="559.2" y="2172.9" width="18.6" height="42.1" fill="none" stroke="#e41a1c" stroke-width="2.2"/>
<line x1="559.2" y1="2197.5" x2="577.8" y2="2197.5" stroke="#e41a1c" stroke-width="3.2"/>
<rect x="579.8" y="2211.7" width="18.6" height="7.3" fill="none" stroke="#377eb8" stroke-width="2.2"/>
<line x1="579.8" y1="2217.2" x2="598.4" y2="2217.2" stroke="#377eb8" stroke-width="3.2"/>
<rect x="613.9" y="2108.2" width="18.6" height="33.3" fill="none" stroke="#e41a1c" stroke-width="2.2"/>
<line x1="613.9" y1="2124.2" x2="632.5" y2="2124.2" stroke="#e41a1c" stroke-width="3.2"/>
<rect x="634.5" y="2168.0" width="18.6" height="37.3" fill="none" stroke="#377eb8" stroke-width="2.2"/>
<line x1="634.5" y1="2197.5" x2="653.1" y2="2197.5" stroke="#377eb8" stroke-width="3.2"/>
<rect x="668.5" y="2062.8" width="18.6" height="45.9" fill="none" stroke="#e41a1c" stroke-width="2.2"/>
<line x1="668.5" y1="2083.4" x2="687.1" y2="2083.4" stroke="#e41a1c" stroke-width="3.2"/>
<rect x="689.1" y="2143.7" width="18.6" height="19.5" fill="none" stroke="#377eb8" stroke-width="2.2"/>
<line x1="689.1" y1="2154.3" x2="707.7" y2="2154.3" stroke="#377eb8" stroke-width="3.2"/>
<rect x="723.2" y="2056.2" width="18.6" height="37.8" fill="none" stroke="#e41a1c" stroke-width="2.2"/>
<line x1="723.2" y1="2073.2" x2="741.8" y2="2073.2" stroke="#e41a1c" stroke-width="3.2"/>
<rect x="743.8" y="2197.5" width="18.6" height="53.6" fill="none" stroke="#377eb8" stroke-width="2.2"/>
<line x1="743.8" y1="2244.0" x2="762.4" y2="2244.0" stroke="#377eb8" stroke-width="3.2"/>
<rect x="777.8" y="2274.8" width="18.6" height="9.1" fill="none" stroke="#e41a1c" stroke-width="2.2"/>
<line x1="777.8" y1="2282.6" x2="796.4" y2="2282.6" stroke="#e41a1c" stroke-width="3.2"/>
<rect x="798.4" y="2278.4" width="18.6" height="7.7" fill="none" stroke="#377eb8" stroke-width="2.2"/>
<line x1="798.4" y1="2284.8" x2="817.0" y2="2284.8" stroke="#377eb8" stroke-width="3.2"/>
<g fill="#ef5b45"><ellipse cx="515.0" cy="2154.8" rx="2.5" ry="2.8"/><ellipse cx="525.4" cy="2161.4" rx="2.5" ry="2.8"/><ellipse cx="535.4" cy="2159.6" rx="2.5" ry="2.8"/><ellipse cx="543.1" cy="2163.2" rx="2.5" ry="2.8"/><ellipse cx="529.8" cy="2168.0" rx="2.5" ry="2.8"/><ellipse cx="515.0" cy="2183.6" rx="2.5" ry="2.8"/><ellipse cx="526.5" cy="2189.0" rx="2.5" ry="2.8"/><ellipse cx="535.8" cy="2193.5" rx="2.5" ry="2.8"/><ellipse cx="513.2" cy="2164.7" rx="2.5" ry="2.8"/><ellipse cx="521.0" cy="2165.8" rx="2.5" ry="2.8"/><ellipse cx="576.8" cy="2155.2" rx="2.5" ry="2.8"/><ellipse cx="576.4" cy="2167.6" rx="2.5" ry="2.8"/><ellipse cx="581.5" cy="2167.6" rx="2.5" ry="2.8"/><ellipse cx="578.6" cy="2189.3" rx="2.5" ry="2.8"/><ellipse cx="584.8" cy="2196.9" rx="2.5" ry="2.8"/><ellipse cx="570.8" cy="2209.0" rx="2.5" ry="2.8"/><ellipse cx="562.4" cy="2219.7" rx="2.5" ry="2.8"/><ellipse cx="581.5" cy="2217.2" rx="2.5" ry="2.8"/><ellipse cx="578.6" cy="2225.2" rx="2.5" ry="2.8"/><ellipse cx="577.5" cy="2199.0" rx="2.5" ry="2.8"/><ellipse cx="630.6" cy="2055.5" rx="2.5" ry="2.8"/><ellipse cx="629.1" cy="2103.8" rx="2.5" ry="2.8"/><ellipse cx="637.7" cy="2100.9" rx="2.5" ry="2.8"/><ellipse cx="620.0" cy="2123.7" rx="2.5" ry="2.8"/><ellipse cx="634.4" cy="2122.6" rx="2.5" ry="2.8"/><ellipse cx="645.7" cy="2124.4" rx="2.5" ry="2.8"/><ellipse cx="624.4" cy="2143.0" rx="2.5" ry="2.8"/><ellipse cx="631.7" cy="2141.5" rx="2.5" ry="2.8"/><ellipse cx="638.4" cy="2141.5" rx="2.5" ry="2.8"/><ellipse cx="647.7" cy="2196.9" rx="2.5" ry="2.8"/><ellipse cx="682.0" cy="2045.1" rx="2.5" ry="2.8"/><ellipse cx="693.8" cy="2052.0" rx="2.5" ry="2.8"/><ellipse cx="682.0" cy="2060.2" rx="2.5" ry="2.8"/><ellipse cx="677.2" cy="2070.1" rx="2.5" ry="2.8"/><ellipse cx="688.2" cy="2069.5" rx="2.5" ry="2.8"/><ellipse cx="696.7" cy="2098.3" rx="2.5" ry="2.8"/><ellipse cx="685.6" cy="2106.0" rx="2.5" ry="2.8"/><ellipse cx="693.1" cy="2109.6" rx="2.5" ry="2.8"/><ellipse cx="696.0" cy="2120.0" rx="2.5" ry="2.8"/><ellipse cx="687.6" cy="2201.3" rx="2.5" ry="2.8"/><ellipse cx="736.5" cy="2013.6" rx="2.5" ry="2.8"/><ellipse cx="747.0" cy="2015.9" rx="2.5" ry="2.8"/><ellipse cx="735.4" cy="2054.0" rx="2.5" ry="2.8"/><ellipse cx="743.6" cy="2062.8" rx="2.5" ry="2.8"/><ellipse cx="759.6" cy="2075.7" rx="2.5" ry="2.8"/><ellipse cx="723.7" cy="2071.7" rx="2.5" ry="2.8"/><ellipse cx="739.6" cy="2083.0" rx="2.5" ry="2.8"/><ellipse cx="731.2" cy="2097.6" rx="2.5" ry="2.8"/><ellipse cx="750.3" cy="2129.3" rx="2.5" ry="2.8"/><ellipse cx="737.6" cy="2137.5" rx="2.5" ry="2.8"/><ellipse cx="794.1" cy="2256.7" rx="2.5" ry="2.8"/><ellipse cx="796.8" cy="2267.7" rx="2.5" ry="2.8"/><ellipse cx="793.5" cy="2272.2" rx="2.5" ry="2.8"/><ellipse cx="785.7" cy="2282.8" rx="2.5" ry="2.8"/><ellipse cx="800.1" cy="2286.6" rx="2.5" ry="2.8"/><ellipse cx="796.8" cy="2291.7" rx="2.5" ry="2.8"/><ellipse cx="809.0" cy="2282.8" rx="2.5" ry="2.8"/><ellipse cx="781.3" cy="2283.3" rx="2.5" ry="2.8"/></g>
<g fill="#5b8fcf"><ellipse cx="503.3" cy="2162.0" rx="2.5" ry="2.8"/><ellipse cx="517.7" cy="2187.3" rx="2.5" ry="2.8"/><ellipse cx="509.2" cy="2193.0" rx="2.5" ry="2.8"/><ellipse cx="519.9" cy="2194.2" rx="2.5" ry="2.8"/><ellipse cx="534.3" cy="2185.8" rx="2.5" ry="2.8"/><ellipse cx="512.8" cy="2219.0" rx="2.5" ry="2.8"/><ellipse cx="517.2" cy="2223.4" rx="2.5" ry="2.8"/><ellipse cx="523.9" cy="2223.4" rx="2.5" ry="2.8"/><ellipse cx="527.6" cy="2218.6" rx="2.5" ry="2.8"/><ellipse cx="532.1" cy="2220.1" rx="2.5" ry="2.8"/><ellipse cx="571.9" cy="2191.5" rx="2.5" ry="2.8"/><ellipse cx="559.8" cy="2217.2" rx="2.5" ry="2.8"/><ellipse cx="573.0" cy="2212.8" rx="2.5" ry="2.8"/><ellipse cx="573.0" cy="2218.6" rx="2.5" ry="2.8"/><ellipse cx="571.9" cy="2224.8" rx="2.5" ry="2.8"/><ellipse cx="582.3" cy="2207.9" rx="2.5" ry="2.8"/><ellipse cx="587.9" cy="2211.3" rx="2.5" ry="2.8"/><ellipse cx="584.1" cy="2220.1" rx="2.5" ry="2.8"/><ellipse cx="588.6" cy="2220.8" rx="2.5" ry="2.8"/><ellipse cx="621.1" cy="2171.4" rx="2.5" ry="2.8"/><ellipse cx="627.3" cy="2165.8" rx="2.5" ry="2.8"/><ellipse cx="635.1" cy="2166.3" rx="2.5" ry="2.8"/><ellipse cx="642.4" cy="2164.7" rx="2.5" ry="2.8"/><ellipse cx="628.4" cy="2196.9" rx="2.5" ry="2.8"/><ellipse cx="616.9" cy="2204.6" rx="2.5" ry="2.8"/><ellipse cx="622.9" cy="2208.4" rx="2.5" ry="2.8"/><ellipse cx="632.9" cy="2212.4" rx="2.5" ry="2.8"/><ellipse cx="638.4" cy="2198.6" rx="2.5" ry="2.8"/><ellipse cx="643.9" cy="2205.3" rx="2.5" ry="2.8"/><ellipse cx="678.7" cy="2115.3" rx="2.5" ry="2.8"/><ellipse cx="682.9" cy="2134.2" rx="2.5" ry="2.8"/><ellipse cx="689.6" cy="2141.9" rx="2.5" ry="2.8"/><ellipse cx="670.5" cy="2148.8" rx="2.5" ry="2.8"/><ellipse cx="682.0" cy="2155.2" rx="2.5" ry="2.8"/><ellipse cx="693.1" cy="2158.1" rx="2.5" ry="2.8"/><ellipse cx="673.2" cy="2164.7" rx="2.5" ry="2.8"/><ellipse cx="679.8" cy="2169.8" rx="2.5" ry="2.8"/><ellipse cx="696.7" cy="2167.4" rx="2.5" ry="2.8"/><ellipse cx="704.2" cy="2154.1" rx="2.5" ry="2.8"/><ellipse cx="748.7" cy="2096.7" rx="2.5" ry="2.8"/><ellipse cx="743.2" cy="2142.6" rx="2.5" ry="2.8"/><ellipse cx="737.6" cy="2186.9" rx="2.5" ry="2.8"/><ellipse cx="754.3" cy="2229.6" rx="2.5" ry="2.8"/><ellipse cx="737.0" cy="2240.0" rx="2.5" ry="2.8"/><ellipse cx="725.9" cy="2250.7" rx="2.5" ry="2.8"/><ellipse cx="731.7" cy="2256.2" rx="2.5" ry="2.8"/><ellipse cx="742.1" cy="2267.7" rx="2.5" ry="2.8"/><ellipse cx="747.6" cy="2248.9" rx="2.5" ry="2.8"/><ellipse cx="753.2" cy="2251.1" rx="2.5" ry="2.8"/><ellipse cx="794.1" cy="2261.1" rx="2.5" ry="2.8"/><ellipse cx="800.1" cy="2260.4" rx="2.5" ry="2.8"/><ellipse cx="800.1" cy="2276.6" rx="2.5" ry="2.8"/><ellipse cx="778.0" cy="2285.5" rx="2.5" ry="2.8"/><ellipse cx="783.5" cy="2288.1" rx="2.5" ry="2.8"/><ellipse cx="791.9" cy="2287.2" rx="2.5" ry="2.8"/><ellipse cx="792.4" cy="2291.7" rx="2.5" ry="2.8"/><ellipse cx="804.5" cy="2288.8" rx="2.5" ry="2.8"/><ellipse cx="803.9" cy="2282.8" rx="2.5" ry="2.8"/></g>
<rect x="492.0" y="1823.2" width="337.2" height="520.4" fill="none" stroke="#333333" stroke-width="1.8"/>
<line x1="486.5" y1="2247.6" x2="492.0" y2="2247.6" stroke="#333333" stroke-width="2.6"/>
<text x="0" y="0" font-size="29.5" text-anchor="end" fill="#4d4d4d" transform="translate(478.5 2258.0) scale(1.0 1.06)">4</text>
<line x1="486.5" y1="2101.2" x2="492.0" y2="2101.2" stroke="#333333" stroke-width="2.6"/>
<text x="0" y="0" font-size="29.5" text-anchor="end" fill="#4d4d4d" transform="translate(478.5 2111.6) scale(1.0 1.06)">8</text>
<line x1="486.5" y1="1954.8" x2="492.0" y2="1954.8" stroke="#333333" stroke-width="2.6"/>
<text x="0" y="0" font-size="29.5" text-anchor="end" fill="#4d4d4d" transform="translate(478.5 1965.2) scale(1.0 1.06)">12</text>
<line x1="524.0" y1="2343.6" x2="524.0" y2="2351.1" stroke="#333333" stroke-width="2.6"/>
<text x="532.2" y="2357.5" font-size="28.2" font-style="italic" text-anchor="end" transform="rotate(-90 532.2 2357.5)">BCL2</text>
<line x1="578.6" y1="2343.6" x2="578.6" y2="2351.1" stroke="#333333" stroke-width="2.6"/>
<text x="586.8" y="2357.5" font-size="28.2" font-style="italic" text-anchor="end" transform="rotate(-90 586.8 2357.5)">CDK2</text>
<line x1="633.3" y1="2343.6" x2="633.3" y2="2351.1" stroke="#333333" stroke-width="2.6"/>
<text x="641.5" y="2357.5" font-size="28.2" font-style="italic" text-anchor="end" transform="rotate(-90 641.5 2357.5)">CDK6</text>
<line x1="687.9" y1="2343.6" x2="687.9" y2="2351.1" stroke="#333333" stroke-width="2.6"/>
<text x="696.1" y="2357.5" font-size="28.2" font-style="italic" text-anchor="end" transform="rotate(-90 696.1 2357.5)">GFI1</text>
<line x1="742.6" y1="2343.6" x2="742.6" y2="2351.1" stroke="#333333" stroke-width="2.6"/>
<text x="750.8" y="2357.5" font-size="28.2" font-style="italic" text-anchor="end" transform="rotate(-90 750.8 2357.5)">KIT</text>
<line x1="797.2" y1="2343.6" x2="797.2" y2="2351.1" stroke="#333333" stroke-width="2.6"/>
<text x="805.4" y="2357.5" font-size="28.2" font-style="italic" text-anchor="end" transform="rotate(-90 805.4 2357.5)">MEIS2</text>
<rect x="533.3" y="1768.0" width="261.5" height="44.0" fill="none" stroke="#1a1a1a" stroke-width="2.2"/>
<text x="0" y="0" font-size="34" text-anchor="middle" transform="translate(664.0 1801.0) scale(1 1.045)">MLL-rearranged</text>
<text x="505.4" y="2150.6" font-size="31" font-weight="bold" font-family="DejaVu Sans, sans-serif" letter-spacing="2.3">**</text>
<text x="568.0" y="2154.2" font-size="31" font-weight="bold" font-family="DejaVu Sans, sans-serif" letter-spacing="2.3">*</text>
<text x="603.4" y="2054.6" font-size="31" font-weight="bold" font-family="DejaVu Sans, sans-serif" letter-spacing="2.3">***</text>
<text x="657.7" y="1987.0" font-size="31" font-weight="bold" font-family="DejaVu Sans, sans-serif" letter-spacing="2.3">***</text>
<text x="716.9" y="1955.9" font-size="31" font-weight="bold" font-family="DejaVu Sans, sans-serif" letter-spacing="2.3">***</text>
<line x1="902.0" y1="2320.8" x2="1239.2" y2="2320.8" stroke="#e9e9e9" stroke-width="2"/>
<line x1="902.0" y1="2174.4" x2="1239.2" y2="2174.4" stroke="#e9e9e9" stroke-width="2"/>
<line x1="902.0" y1="2028.0" x2="1239.2" y2="2028.0" stroke="#e9e9e9" stroke-width="2"/>
<line x1="902.0" y1="1881.6" x2="1239.2" y2="1881.6" stroke="#e9e9e9" stroke-width="2"/>
<line x1="902.0" y1="2247.6" x2="1239.2" y2="2247.6" stroke="#e3e5e4" stroke-width="3"/>
<line x1="902.0" y1="2101.2" x2="1239.2" y2="2101.2" stroke="#e3e5e4" stroke-width="3"/>
<line x1="902.0" y1="1954.8" x2="1239.2" y2="1954.8" stroke="#e3e5e4" stroke-width="3"/>
<line x1="934.0" y1="1823.2" x2="934.0" y2="2343.6" stroke="#e3e5e4" stroke-width="3.2"/>
<line x1="988.6" y1="1823.2" x2="988.6" y2="2343.6" stroke="#e3e5e4" stroke-width="3.2"/>
<line x1="1043.3" y1="1823.2" x2="1043.3" y2="2343.6" stroke="#e3e5e4" stroke-width="3.2"/>
<line x1="1097.9" y1="1823.2" x2="1097.9" y2="2343.6" stroke="#e3e5e4" stroke-width="3.2"/>
<line x1="1152.6" y1="1823.2" x2="1152.6" y2="2343.6" stroke="#e3e5e4" stroke-width="3.2"/>
<line x1="1207.2" y1="1823.2" x2="1207.2" y2="2343.6" stroke="#e3e5e4" stroke-width="3.2"/>
<rect x="914.6" y="2131.9" width="18.6" height="35.5" fill="none" stroke="#e41a1c" stroke-width="2.2"/>
<line x1="914.6" y1="2136.4" x2="933.2" y2="2136.4" stroke="#e41a1c" stroke-width="3.2"/>
<rect x="935.2" y="2097.6" width="18.6" height="54.7" fill="none" stroke="#377eb8" stroke-width="2.2"/>
<line x1="935.2" y1="2132.6" x2="953.8" y2="2132.6" stroke="#377eb8" stroke-width="3.2"/>
<rect x="969.2" y="2100.5" width="18.6" height="32.5" fill="none" stroke="#e41a1c" stroke-width="2.2"/>
<line x1="969.2" y1="2123.5" x2="987.8" y2="2123.5" stroke="#e41a1c" stroke-width="3.2"/>
<rect x="989.8" y="2079.9" width="18.6" height="118.1" fill="none" stroke="#377eb8" stroke-width="2.2"/>
<line x1="989.8" y1="2133.5" x2="1008.4" y2="2133.5" stroke="#377eb8" stroke-width="3.2"/>
<rect x="1023.9" y="2030.5" width="18.6" height="53.9" fill="none" stroke="#e41a1c" stroke-width="2.2"/>
<line x1="1023.9" y1="2047.8" x2="1042.5" y2="2047.8" stroke="#e41a1c" stroke-width="3.2"/>
<rect x="1044.5" y="2046.7" width="18.6" height="41.0" fill="none" stroke="#377eb8" stroke-width="2.2"/>
<line x1="1044.5" y1="2077.1" x2="1063.1" y2="2077.1" stroke="#377eb8" stroke-width="3.2"/>
<rect x="1078.5" y="2117.5" width="18.6" height="38.1" fill="none" stroke="#e41a1c" stroke-width="2.2"/>
<line x1="1078.5" y1="2138.1" x2="1097.1" y2="2138.1" stroke="#e41a1c" stroke-width="3.2"/>
<rect x="1099.1" y="2114.7" width="18.6" height="40.5" fill="none" stroke="#377eb8" stroke-width="2.2"/>
<line x1="1099.1" y1="2138.6" x2="1117.7" y2="2138.6" stroke="#377eb8" stroke-width="3.2"/>
<rect x="1133.2" y="2030.5" width="18.6" height="22.4" fill="none" stroke="#e41a1c" stroke-width="2.2"/>
<line x1="1133.2" y1="2039.4" x2="1151.8" y2="2039.4" stroke="#e41a1c" stroke-width="3.2"/>
<rect x="1153.8" y="2017.9" width="18.6" height="25.5" fill="none" stroke="#377eb8" stroke-width="2.2"/>
<line x1="1153.8" y1="2034.1" x2="1172.4" y2="2034.1" stroke="#377eb8" stroke-width="3.2"/>
<rect x="1187.8" y="1886.5" width="18.6" height="59.4" fill="none" stroke="#e41a1c" stroke-width="2.2"/>
<line x1="1187.8" y1="1899.4" x2="1206.4" y2="1899.4" stroke="#e41a1c" stroke-width="3.2"/>
<rect x="1208.4" y="1892.7" width="18.6" height="53.2" fill="none" stroke="#377eb8" stroke-width="2.2"/>
<line x1="1208.4" y1="1922.6" x2="1227.0" y2="1922.6" stroke="#377eb8" stroke-width="3.2"/>
<g fill="#ef5b45"><ellipse cx="932.1" cy="2080.8" rx="2.5" ry="2.8"/><ellipse cx="919.5" cy="2127.1" rx="2.5" ry="2.8"/><ellipse cx="929.9" cy="2108.2" rx="2.5" ry="2.8"/><ellipse cx="919.9" cy="2137.5" rx="2.5" ry="2.8"/><ellipse cx="917.0" cy="2153.0" rx="2.5" ry="2.8"/><ellipse cx="937.2" cy="2160.7" rx="2.5" ry="2.8"/><ellipse cx="942.1" cy="2135.9" rx="2.5" ry="2.8"/><ellipse cx="952.0" cy="2133.7" rx="2.5" ry="2.8"/><ellipse cx="938.3" cy="2186.2" rx="2.5" ry="2.8"/><ellipse cx="929.4" cy="2192.2" rx="2.5" ry="2.8"/><ellipse cx="933.9" cy="2195.7" rx="2.5" ry="2.8"/><ellipse cx="987.0" cy="2052.0" rx="2.5" ry="2.8"/><ellipse cx="991.2" cy="2060.4" rx="2.5" ry="2.8"/><ellipse cx="983.3" cy="2097.0" rx="2.5" ry="2.8"/><ellipse cx="983.0" cy="2096.5" rx="2.5" ry="2.8"/><ellipse cx="989.2" cy="2102.5" rx="2.5" ry="2.8"/><ellipse cx="970.9" cy="2113.1" rx="2.5" ry="2.8"/><ellipse cx="974.8" cy="2125.3" rx="2.5" ry="2.8"/><ellipse cx="980.4" cy="2128.0" rx="2.5" ry="2.8"/><ellipse cx="985.7" cy="2121.5" rx="2.5" ry="2.8"/><ellipse cx="1001.9" cy="2127.5" rx="2.5" ry="2.8"/><ellipse cx="979.3" cy="2149.2" rx="2.5" ry="2.8"/><ellipse cx="986.4" cy="2178.0" rx="2.5" ry="2.8"/><ellipse cx="988.6" cy="2246.5" rx="2.5" ry="2.8"/><ellipse cx="1036.2" cy="1993.3" rx="2.5" ry="2.8"/><ellipse cx="1040.2" cy="2006.1" rx="2.5" ry="2.8"/><ellipse cx="1049.5" cy="2023.4" rx="2.5" ry="2.8"/><ellipse cx="1037.8" cy="2033.4" rx="2.5" ry="2.8"/><ellipse cx="1044.0" cy="2036.3" rx="2.5" ry="2.8"/><ellipse cx="1030.7" cy="2045.6" rx="2.5" ry="2.8"/><ellipse cx="1055.0" cy="2050.5" rx="2.5" ry="2.8"/><ellipse cx="1048.8" cy="2061.5" rx="2.5" ry="2.8"/><ellipse cx="1045.7" cy="2079.3" rx="2.5" ry="2.8"/><ellipse cx="1040.6" cy="2097.6" rx="2.5" ry="2.8"/><ellipse cx="1040.6" cy="2098.3" rx="2.5" ry="2.8"/><ellipse cx="1046.2" cy="2142.6" rx="2.5" ry="2.8"/><ellipse cx="1041.3" cy="2163.6" rx="2.5" ry="2.8"/><ellipse cx="1092.7" cy="2093.7" rx="2.5" ry="2.8"/><ellipse cx="1110.4" cy="2104.2" rx="2.5" ry="2.8"/><ellipse cx="1084.3" cy="2111.6" rx="2.5" ry="2.8"/><ellipse cx="1098.7" cy="2119.3" rx="2.5" ry="2.8"/><ellipse cx="1110.9" cy="2128.6" rx="2.5" ry="2.8"/><ellipse cx="1093.8" cy="2137.0" rx="2.5" ry="2.8"/><ellipse cx="1084.3" cy="2141.2" rx="2.5" ry="2.8"/><ellipse cx="1089.8" cy="2144.1" rx="2.5" ry="2.8"/><ellipse cx="1108.2" cy="2154.5" rx="2.5" ry="2.8"/><ellipse cx="1095.1" cy="2159.9" rx="2.5" ry="2.8"/><ellipse cx="1089.8" cy="2172.3" rx="2.5" ry="2.8"/><ellipse cx="1095.4" cy="2189.5" rx="2.5" ry="2.8"/><ellipse cx="1139.9" cy="2031.6" rx="2.5" ry="2.8"/><ellipse cx="1140.3" cy="2037.2" rx="2.5" ry="2.8"/><ellipse cx="1149.6" cy="2035.0" rx="2.5" ry="2.8"/><ellipse cx="1144.1" cy="2042.7" rx="2.5" ry="2.8"/><ellipse cx="1143.7" cy="2052.2" rx="2.5" ry="2.8"/><ellipse cx="1153.0" cy="2027.9" rx="2.5" ry="2.8"/><ellipse cx="1158.0" cy="2017.2" rx="2.5" ry="2.8"/><ellipse cx="1161.8" cy="2020.5" rx="2.5" ry="2.8"/><ellipse cx="1165.8" cy="2041.6" rx="2.5" ry="2.8"/><ellipse cx="1156.3" cy="2054.9" rx="2.5" ry="2.8"/><ellipse cx="1151.0" cy="2079.7" rx="2.5" ry="2.8"/><ellipse cx="1152.1" cy="2164.1" rx="2.5" ry="2.8"/><ellipse cx="1197.5" cy="1887.0" rx="2.5" ry="2.8"/><ellipse cx="1189.7" cy="1894.9" rx="2.5" ry="2.8"/><ellipse cx="1208.3" cy="1892.1" rx="2.5" ry="2.8"/><ellipse cx="1213.0" cy="1878.8" rx="2.5" ry="2.8"/><ellipse cx="1221.6" cy="1874.6" rx="2.5" ry="2.8"/><ellipse cx="1219.4" cy="1885.4" rx="2.5" ry="2.8"/><ellipse cx="1204.6" cy="1904.2" rx="2.5" ry="2.8"/><ellipse cx="1212.8" cy="1914.9" rx="2.5" ry="2.8"/><ellipse cx="1197.9" cy="1940.1" rx="2.5" ry="2.8"/><ellipse cx="1208.3" cy="1962.5" rx="2.5" ry="2.8"/><ellipse cx="1209.4" cy="2008.4" rx="2.5" ry="2.8"/><ellipse cx="1207.2" cy="2123.5" rx="2.5" ry="2.8"/></g>
<g fill="#5b8fcf"><ellipse cx="931.4" cy="2054.4" rx="2.5" ry="2.8"/><ellipse cx="941.4" cy="2080.4" rx="2.5" ry="2.8"/><ellipse cx="937.0" cy="2085.9" rx="2.5" ry="2.8"/><ellipse cx="927.2" cy="2100.3" rx="2.5" ry="2.8"/><ellipse cx="927.2" cy="2101.4" rx="2.5" ry="2.8"/><ellipse cx="939.2" cy="2103.1" rx="2.5" ry="2.8"/><ellipse cx="934.7" cy="2125.3" rx="2.5" ry="2.8"/><ellipse cx="926.1" cy="2146.3" rx="2.5" ry="2.8"/><ellipse cx="929.9" cy="2158.1" rx="2.5" ry="2.8"/><ellipse cx="947.2" cy="2140.4" rx="2.5" ry="2.8"/><ellipse cx="948.0" cy="2154.1" rx="2.5" ry="2.8"/><ellipse cx="936.1" cy="2151.4" rx="2.5" ry="2.8"/><ellipse cx="928.8" cy="2172.9" rx="2.5" ry="2.8"/><ellipse cx="985.7" cy="1971.8" rx="2.5" ry="2.8"/><ellipse cx="991.2" cy="2000.2" rx="2.5" ry="2.8"/><ellipse cx="982.6" cy="2064.9" rx="2.5" ry="2.8"/><ellipse cx="993.5" cy="2085.2" rx="2.5" ry="2.8"/><ellipse cx="996.8" cy="2123.7" rx="2.5" ry="2.8"/><ellipse cx="1007.4" cy="2121.5" rx="2.5" ry="2.8"/><ellipse cx="990.1" cy="2142.6" rx="2.5" ry="2.8"/><ellipse cx="994.1" cy="2172.9" rx="2.5" ry="2.8"/><ellipse cx="990.4" cy="2194.6" rx="2.5" ry="2.8"/><ellipse cx="984.2" cy="2206.1" rx="2.5" ry="2.8"/><ellipse cx="991.9" cy="2233.8" rx="2.5" ry="2.8"/><ellipse cx="984.6" cy="2243.1" rx="2.5" ry="2.8"/><ellipse cx="1032.9" cy="2012.8" rx="2.5" ry="2.8"/><ellipse cx="1048.0" cy="2008.4" rx="2.5" ry="2.8"/><ellipse cx="1055.0" cy="2003.9" rx="2.5" ry="2.8"/><ellipse cx="1041.3" cy="2058.2" rx="2.5" ry="2.8"/><ellipse cx="1030.2" cy="2071.1" rx="2.5" ry="2.8"/><ellipse cx="1035.1" cy="2077.7" rx="2.5" ry="2.8"/><ellipse cx="1024.5" cy="2079.7" rx="2.5" ry="2.8"/><ellipse cx="1056.6" cy="2076.4" rx="2.5" ry="2.8"/><ellipse cx="1058.4" cy="2082.6" rx="2.5" ry="2.8"/><ellipse cx="1045.1" cy="2104.2" rx="2.5" ry="2.8"/><ellipse cx="1038.9" cy="2133.7" rx="2.5" ry="2.8"/><ellipse cx="1042.9" cy="2197.7" rx="2.5" ry="2.8"/><ellipse cx="1094.7" cy="2105.4" rx="2.5" ry="2.8"/><ellipse cx="1103.8" cy="2107.6" rx="2.5" ry="2.8"/><ellipse cx="1089.4" cy="2114.7" rx="2.5" ry="2.8"/><ellipse cx="1108.7" cy="2114.7" rx="2.5" ry="2.8"/><ellipse cx="1084.1" cy="2126.0" rx="2.5" ry="2.8"/><ellipse cx="1105.3" cy="2137.5" rx="2.5" ry="2.8"/><ellipse cx="1111.5" cy="2141.5" rx="2.5" ry="2.8"/><ellipse cx="1081.8" cy="2149.7" rx="2.5" ry="2.8"/><ellipse cx="1100.5" cy="2148.6" rx="2.5" ry="2.8"/><ellipse cx="1100.5" cy="2171.8" rx="2.5" ry="2.8"/><ellipse cx="1102.2" cy="2178.5" rx="2.5" ry="2.8"/><ellipse cx="1097.6" cy="2209.7" rx="2.5" ry="2.8"/><ellipse cx="1139.9" cy="2013.9" rx="2.5" ry="2.8"/><ellipse cx="1149.2" cy="2015.0" rx="2.5" ry="2.8"/><ellipse cx="1165.4" cy="2014.6" rx="2.5" ry="2.8"/><ellipse cx="1139.9" cy="2019.0" rx="2.5" ry="2.8"/><ellipse cx="1145.4" cy="2021.2" rx="2.5" ry="2.8"/><ellipse cx="1133.2" cy="2043.4" rx="2.5" ry="2.8"/><ellipse cx="1147.0" cy="2045.6" rx="2.5" ry="2.8"/><ellipse cx="1155.4" cy="2050.5" rx="2.5" ry="2.8"/><ellipse cx="1158.7" cy="2036.7" rx="2.5" ry="2.8"/><ellipse cx="1164.7" cy="2031.6" rx="2.5" ry="2.8"/><ellipse cx="1168.0" cy="2044.9" rx="2.5" ry="2.8"/><ellipse cx="1196.2" cy="1869.2" rx="2.5" ry="2.8"/><ellipse cx="1192.4" cy="1879.4" rx="2.5" ry="2.8"/><ellipse cx="1203.0" cy="1878.1" rx="2.5" ry="2.8"/><ellipse cx="1222.3" cy="1897.6" rx="2.5" ry="2.8"/><ellipse cx="1196.8" cy="1919.1" rx="2.5" ry="2.8"/><ellipse cx="1201.0" cy="1923.7" rx="2.5" ry="2.8"/><ellipse cx="1208.6" cy="1925.3" rx="2.5" ry="2.8"/><ellipse cx="1216.8" cy="1921.3" rx="2.5" ry="2.8"/><ellipse cx="1214.3" cy="1942.3" rx="2.5" ry="2.8"/><ellipse cx="1204.8" cy="1954.5" rx="2.5" ry="2.8"/><ellipse cx="1204.1" cy="1983.6" rx="2.5" ry="2.8"/><ellipse cx="1204.6" cy="2017.9" rx="2.5" ry="2.8"/></g>
<rect x="902.0" y="1823.2" width="337.2" height="520.4" fill="none" stroke="#333333" stroke-width="1.8"/>
<line x1="896.5" y1="2247.6" x2="902.0" y2="2247.6" stroke="#333333" stroke-width="2.6"/>
<text x="0" y="0" font-size="29.5" text-anchor="end" fill="#4d4d4d" transform="translate(888.5 2258.0) scale(1.0 1.06)">4</text>
<line x1="896.5" y1="2101.2" x2="902.0" y2="2101.2" stroke="#333333" stroke-width="2.6"/>
<text x="0" y="0" font-size="29.5" text-anchor="end" fill="#4d4d4d" transform="translate(888.5 2111.6) scale(1.0 1.06)">8</text>
<line x1="896.5" y1="1954.8" x2="902.0" y2="1954.8" stroke="#333333" stroke-width="2.6"/>
<text x="0" y="0" font-size="29.5" text-anchor="end" fill="#4d4d4d" transform="translate(888.5 1965.2) scale(1.0 1.06)">12</text>
<line x1="934.0" y1="2343.6" x2="934.0" y2="2351.1" stroke="#333333" stroke-width="2.6"/>
<text x="942.2" y="2357.5" font-size="28.2" font-style="italic" text-anchor="end" transform="rotate(-90 942.2 2357.5)">BCL6</text>
<line x1="988.6" y1="2343.6" x2="988.6" y2="2351.1" stroke="#333333" stroke-width="2.6"/>
<text x="996.8" y="2357.5" font-size="28.2" font-style="italic" text-anchor="end" transform="rotate(-90 996.8 2357.5)">CD14</text>
<line x1="1043.3" y1="2343.6" x2="1043.3" y2="2351.1" stroke="#333333" stroke-width="2.6"/>
<text x="1051.5" y="2357.5" font-size="28.2" font-style="italic" text-anchor="end" transform="rotate(-90 1051.5 2357.5)">DUSP6</text>
<line x1="1097.9" y1="2343.6" x2="1097.9" y2="2351.1" stroke="#333333" stroke-width="2.6"/>
<text x="1106.1" y="2357.5" font-size="28.2" font-style="italic" text-anchor="end" transform="rotate(-90 1106.1 2357.5)">ITGAM</text>
<line x1="1152.6" y1="2343.6" x2="1152.6" y2="2351.1" stroke="#333333" stroke-width="2.6"/>
<text x="1160.8" y="2357.5" font-size="28.2" font-style="italic" text-anchor="end" transform="rotate(-90 1160.8 2357.5)">S100A8</text>
<line x1="1207.2" y1="2343.6" x2="1207.2" y2="2351.1" stroke="#333333" stroke-width="2.6"/>
<text x="1215.4" y="2357.5" font-size="28.2" font-style="italic" text-anchor="end" transform="rotate(-90 1215.4 2357.5)">S100A9</text>
<rect x="906.0" y="1768.0" width="328.0" height="44.0" fill="none" stroke="#1a1a1a" stroke-width="2.2"/>
<text x="0" y="0" font-size="34" text-anchor="middle" transform="translate(1070.0 1801.0) scale(1 1.045)">Complex karyotypes</text>
<line x1="1306.8" y1="2320.8" x2="1644.0" y2="2320.8" stroke="#e9e9e9" stroke-width="2"/>
<line x1="1306.8" y1="2174.4" x2="1644.0" y2="2174.4" stroke="#e9e9e9" stroke-width="2"/>
<line x1="1306.8" y1="2028.0" x2="1644.0" y2="2028.0" stroke="#e9e9e9" stroke-width="2"/>
<line x1="1306.8" y1="1881.6" x2="1644.0" y2="1881.6" stroke="#e9e9e9" stroke-width="2"/>
<line x1="1306.8" y1="2247.6" x2="1644.0" y2="2247.6" stroke="#e3e5e4" stroke-width="3"/>
<line x1="1306.8" y1="2101.2" x2="1644.0" y2="2101.2" stroke="#e3e5e4" stroke-width="3"/>
<line x1="1306.8" y1="1954.8" x2="1644.0" y2="1954.8" stroke="#e3e5e4" stroke-width="3"/>
<line x1="1338.8" y1="1823.2" x2="1338.8" y2="2343.6" stroke="#e3e5e4" stroke-width="3.2"/>
<line x1="1393.4" y1="1823.2" x2="1393.4" y2="2343.6" stroke="#e3e5e4" stroke-width="3.2"/>
<line x1="1448.1" y1="1823.2" x2="1448.1" y2="2343.6" stroke="#e3e5e4" stroke-width="3.2"/>
<line x1="1502.7" y1="1823.2" x2="1502.7" y2="2343.6" stroke="#e3e5e4" stroke-width="3.2"/>
<line x1="1557.4" y1="1823.2" x2="1557.4" y2="2343.6" stroke="#e3e5e4" stroke-width="3.2"/>
<line x1="1612.0" y1="1823.2" x2="1612.0" y2="2343.6" stroke="#e3e5e4" stroke-width="3.2"/>
<rect x="1319.4" y="2155.2" width="18.6" height="27.7" fill="none" stroke="#e41a1c" stroke-width="2.2"/>
<line x1="1319.4" y1="2171.6" x2="1338.0" y2="2171.6" stroke="#e41a1c" stroke-width="3.2"/>
<rect x="1340.0" y="2046.5" width="18.6" height="62.2" fill="none" stroke="#377eb8" stroke-width="2.2"/>
<line x1="1340.0" y1="2069.6" x2="1358.6" y2="2069.6" stroke="#377eb8" stroke-width="3.2"/>
<rect x="1374.0" y="2180.0" width="18.6" height="61.1" fill="none" stroke="#e41a1c" stroke-width="2.2"/>
<line x1="1374.0" y1="2211.6" x2="1392.6" y2="2211.6" stroke="#e41a1c" stroke-width="3.2"/>
<rect x="1394.6" y="1970.7" width="18.6" height="35.4" fill="none" stroke="#377eb8" stroke-width="2.2"/>
<line x1="1394.6" y1="1990.6" x2="1413.2" y2="1990.6" stroke="#377eb8" stroke-width="3.2"/>
<rect x="1428.7" y="2075.5" width="18.6" height="52.7" fill="none" stroke="#e41a1c" stroke-width="2.2"/>
<line x1="1428.7" y1="2094.3" x2="1447.3" y2="2094.3" stroke="#e41a1c" stroke-width="3.2"/>
<rect x="1449.3" y="1999.5" width="18.6" height="18.4" fill="none" stroke="#377eb8" stroke-width="2.2"/>
<line x1="1449.3" y1="2007.7" x2="1467.9" y2="2007.7" stroke="#377eb8" stroke-width="3.2"/>
<rect x="1483.3" y="2148.6" width="18.6" height="6.6" fill="none" stroke="#e41a1c" stroke-width="2.2"/>
<line x1="1483.3" y1="2151.4" x2="1501.9" y2="2151.4" stroke="#e41a1c" stroke-width="3.2"/>
<rect x="1503.9" y="2097.2" width="18.6" height="13.7" fill="none" stroke="#377eb8" stroke-width="2.2"/>
<line x1="1503.9" y1="2104.2" x2="1522.5" y2="2104.2" stroke="#377eb8" stroke-width="3.2"/>
<rect x="1538.0" y="2048.6" width="18.6" height="46.7" fill="none" stroke="#e41a1c" stroke-width="2.2"/>
<line x1="1538.0" y1="2064.1" x2="1556.6" y2="2064.1" stroke="#e41a1c" stroke-width="3.2"/>
<rect x="1558.6" y="2024.5" width="18.6" height="8.7" fill="none" stroke="#377eb8" stroke-width="2.2"/>
<line x1="1558.6" y1="2029.0" x2="1577.2" y2="2029.0" stroke="#377eb8" stroke-width="3.2"/>
<rect x="1592.6" y="1946.3" width="18.6" height="109.7" fill="none" stroke="#e41a1c" stroke-width="2.2"/>
<line x1="1592.6" y1="1986.2" x2="1611.2" y2="1986.2" stroke="#e41a1c" stroke-width="3.2"/>
<rect x="1613.2" y="1879.4" width="18.6" height="2.7" fill="none" stroke="#377eb8" stroke-width="2.2"/>
<line x1="1613.2" y1="1880.5" x2="1631.8" y2="1880.5" stroke="#377eb8" stroke-width="3.2"/>
<g fill="#ef5b45"><ellipse cx="1333.1" cy="2145.9" rx="2.5" ry="2.8"/><ellipse cx="1346.4" cy="2144.6" rx="2.5" ry="2.8"/><ellipse cx="1340.4" cy="2154.1" rx="2.5" ry="2.8"/><ellipse cx="1321.6" cy="2159.0" rx="2.5" ry="2.8"/><ellipse cx="1332.7" cy="2172.9" rx="2.5" ry="2.8"/><ellipse cx="1354.1" cy="2170.7" rx="2.5" ry="2.8"/><ellipse cx="1322.7" cy="2180.7" rx="2.5" ry="2.8"/><ellipse cx="1348.2" cy="2182.9" rx="2.5" ry="2.8"/><ellipse cx="1328.7" cy="2186.7" rx="2.5" ry="2.8"/><ellipse cx="1338.2" cy="2203.9" rx="2.5" ry="2.8"/><ellipse cx="1400.2" cy="2045.4" rx="2.5" ry="2.8"/><ellipse cx="1393.6" cy="2090.3" rx="2.5" ry="2.8"/><ellipse cx="1383.2" cy="2177.3" rx="2.5" ry="2.8"/><ellipse cx="1402.0" cy="2187.3" rx="2.5" ry="2.8"/><ellipse cx="1389.2" cy="2196.2" rx="2.5" ry="2.8"/><ellipse cx="1396.9" cy="2227.9" rx="2.5" ry="2.8"/><ellipse cx="1379.2" cy="2239.4" rx="2.5" ry="2.8"/><ellipse cx="1383.6" cy="2243.4" rx="2.5" ry="2.8"/><ellipse cx="1401.3" cy="2241.2" rx="2.5" ry="2.8"/><ellipse cx="1392.5" cy="2249.8" rx="2.5" ry="2.8"/><ellipse cx="1457.4" cy="2036.7" rx="2.5" ry="2.8"/><ellipse cx="1448.5" cy="2052.7" rx="2.5" ry="2.8"/><ellipse cx="1456.0" cy="2079.3" rx="2.5" ry="2.8"/><ellipse cx="1437.4" cy="2074.4" rx="2.5" ry="2.8"/><ellipse cx="1444.1" cy="2090.3" rx="2.5" ry="2.8"/><ellipse cx="1450.1" cy="2098.1" rx="2.5" ry="2.8"/><ellipse cx="1441.2" cy="2114.2" rx="2.5" ry="2.8"/><ellipse cx="1449.6" cy="2133.0" rx="2.5" ry="2.8"/><ellipse cx="1444.1" cy="2194.0" rx="2.5" ry="2.8"/><ellipse cx="1447.2" cy="2203.3" rx="2.5" ry="2.8"/><ellipse cx="1508.8" cy="2119.8" rx="2.5" ry="2.8"/><ellipse cx="1484.4" cy="2148.6" rx="2.5" ry="2.8"/><ellipse cx="1504.3" cy="2148.1" rx="2.5" ry="2.8"/><ellipse cx="1507.0" cy="2153.0" rx="2.5" ry="2.8"/><ellipse cx="1511.7" cy="2156.3" rx="2.5" ry="2.8"/><ellipse cx="1517.6" cy="2149.7" rx="2.5" ry="2.8"/><ellipse cx="1493.7" cy="2158.5" rx="2.5" ry="2.8"/><ellipse cx="1501.7" cy="2195.7" rx="2.5" ry="2.8"/><ellipse cx="1567.5" cy="2037.8" rx="2.5" ry="2.8"/><ellipse cx="1549.1" cy="2047.6" rx="2.5" ry="2.8"/><ellipse cx="1561.5" cy="2052.2" rx="2.5" ry="2.8"/><ellipse cx="1558.0" cy="2064.9" rx="2.5" ry="2.8"/><ellipse cx="1553.1" cy="2074.4" rx="2.5" ry="2.8"/><ellipse cx="1574.6" cy="2029.9" rx="2.5" ry="2.8"/><ellipse cx="1557.5" cy="2102.5" rx="2.5" ry="2.8"/><ellipse cx="1554.9" cy="2125.3" rx="2.5" ry="2.8"/><ellipse cx="1556.4" cy="2186.2" rx="2.5" ry="2.8"/><ellipse cx="1606.9" cy="1921.1" rx="2.5" ry="2.8"/><ellipse cx="1612.2" cy="1928.0" rx="2.5" ry="2.8"/><ellipse cx="1604.0" cy="1941.0" rx="2.5" ry="2.8"/><ellipse cx="1615.8" cy="1963.0" rx="2.5" ry="2.8"/><ellipse cx="1609.1" cy="1982.4" rx="2.5" ry="2.8"/><ellipse cx="1612.5" cy="1990.0" rx="2.5" ry="2.8"/><ellipse cx="1607.4" cy="2008.8" rx="2.5" ry="2.8"/><ellipse cx="1613.3" cy="2071.9" rx="2.5" ry="2.8"/><ellipse cx="1608.5" cy="2082.6" rx="2.5" ry="2.8"/><ellipse cx="1610.7" cy="2160.3" rx="2.5" ry="2.8"/></g>
<g fill="#5b8fcf"><ellipse cx="1334.9" cy="2014.6" rx="2.5" ry="2.8"/><ellipse cx="1333.1" cy="2044.5" rx="2.5" ry="2.8"/><ellipse cx="1343.7" cy="2039.8" rx="2.5" ry="2.8"/><ellipse cx="1338.6" cy="2052.7" rx="2.5" ry="2.8"/><ellipse cx="1328.2" cy="2064.9" rx="2.5" ry="2.8"/><ellipse cx="1345.3" cy="2075.3" rx="2.5" ry="2.8"/><ellipse cx="1336.6" cy="2100.3" rx="2.5" ry="2.8"/><ellipse cx="1332.0" cy="2113.1" rx="2.5" ry="2.8"/><ellipse cx="1341.5" cy="2111.3" rx="2.5" ry="2.8"/><ellipse cx="1343.3" cy="2178.5" rx="2.5" ry="2.8"/><ellipse cx="1383.6" cy="1945.9" rx="2.5" ry="2.8"/><ellipse cx="1402.0" cy="1956.7" rx="2.5" ry="2.8"/><ellipse cx="1384.0" cy="1966.7" rx="2.5" ry="2.8"/><ellipse cx="1372.1" cy="1990.2" rx="2.5" ry="2.8"/><ellipse cx="1394.0" cy="1984.4" rx="2.5" ry="2.8"/><ellipse cx="1389.8" cy="1996.8" rx="2.5" ry="2.8"/><ellipse cx="1399.8" cy="2009.5" rx="2.5" ry="2.8"/><ellipse cx="1411.7" cy="1990.6" rx="2.5" ry="2.8"/><ellipse cx="1384.7" cy="2044.9" rx="2.5" ry="2.8"/><ellipse cx="1389.2" cy="2086.6" rx="2.5" ry="2.8"/><ellipse cx="1438.6" cy="1983.3" rx="2.5" ry="2.8"/><ellipse cx="1456.7" cy="1991.1" rx="2.5" ry="2.8"/><ellipse cx="1438.1" cy="1999.5" rx="2.5" ry="2.8"/><ellipse cx="1448.3" cy="1999.5" rx="2.5" ry="2.8"/><ellipse cx="1426.8" cy="2006.8" rx="2.5" ry="2.8"/><ellipse cx="1444.5" cy="2013.5" rx="2.5" ry="2.8"/><ellipse cx="1454.5" cy="2019.9" rx="2.5" ry="2.8"/><ellipse cx="1466.7" cy="2008.4" rx="2.5" ry="2.8"/><ellipse cx="1437.2" cy="2036.1" rx="2.5" ry="2.8"/><ellipse cx="1441.2" cy="2038.7" rx="2.5" ry="2.8"/><ellipse cx="1496.2" cy="2085.9" rx="2.5" ry="2.8"/><ellipse cx="1506.6" cy="2087.5" rx="2.5" ry="2.8"/><ellipse cx="1496.2" cy="2095.9" rx="2.5" ry="2.8"/><ellipse cx="1486.6" cy="2102.7" rx="2.5" ry="2.8"/><ellipse cx="1502.6" cy="2100.9" rx="2.5" ry="2.8"/><ellipse cx="1499.5" cy="2107.1" rx="2.5" ry="2.8"/><ellipse cx="1507.7" cy="2112.4" rx="2.5" ry="2.8"/><ellipse cx="1492.2" cy="2114.2" rx="2.5" ry="2.8"/><ellipse cx="1516.5" cy="2106.5" rx="2.5" ry="2.8"/><ellipse cx="1498.4" cy="2123.7" rx="2.5" ry="2.8"/><ellipse cx="1552.0" cy="2012.1" rx="2.5" ry="2.8"/><ellipse cx="1561.3" cy="2016.6" rx="2.5" ry="2.8"/><ellipse cx="1537.6" cy="2027.2" rx="2.5" ry="2.8"/><ellipse cx="1548.7" cy="2024.5" rx="2.5" ry="2.8"/><ellipse cx="1553.8" cy="2030.1" rx="2.5" ry="2.8"/><ellipse cx="1542.7" cy="2033.4" rx="2.5" ry="2.8"/><ellipse cx="1549.8" cy="2037.8" rx="2.5" ry="2.8"/><ellipse cx="1558.2" cy="2038.3" rx="2.5" ry="2.8"/><ellipse cx="1563.7" cy="2032.7" rx="2.5" ry="2.8"/><ellipse cx="1575.2" cy="2030.1" rx="2.5" ry="2.8"/><ellipse cx="1597.4" cy="1872.6" rx="2.5" ry="2.8"/><ellipse cx="1590.7" cy="1879.4" rx="2.5" ry="2.8"/><ellipse cx="1601.4" cy="1878.3" rx="2.5" ry="2.8"/><ellipse cx="1607.8" cy="1882.1" rx="2.5" ry="2.8"/><ellipse cx="1618.9" cy="1882.5" rx="2.5" ry="2.8"/><ellipse cx="1622.2" cy="1875.4" rx="2.5" ry="2.8"/><ellipse cx="1630.0" cy="1881.0" rx="2.5" ry="2.8"/><ellipse cx="1599.0" cy="1894.3" rx="2.5" ry="2.8"/><ellipse cx="1619.5" cy="1909.1" rx="2.5" ry="2.8"/></g>
<rect x="1306.8" y="1823.2" width="337.2" height="520.4" fill="none" stroke="#333333" stroke-width="1.8"/>
<line x1="1301.3" y1="2247.6" x2="1306.8" y2="2247.6" stroke="#333333" stroke-width="2.6"/>
<text x="0" y="0" font-size="29.5" text-anchor="end" fill="#4d4d4d" transform="translate(1293.3 2258.0) scale(1.0 1.06)">4</text>
<line x1="1301.3" y1="2101.2" x2="1306.8" y2="2101.2" stroke="#333333" stroke-width="2.6"/>
<text x="0" y="0" font-size="29.5" text-anchor="end" fill="#4d4d4d" transform="translate(1293.3 2111.6) scale(1.0 1.06)">8</text>
<line x1="1301.3" y1="1954.8" x2="1306.8" y2="1954.8" stroke="#333333" stroke-width="2.6"/>
<text x="0" y="0" font-size="29.5" text-anchor="end" fill="#4d4d4d" transform="translate(1293.3 1965.2) scale(1.0 1.06)">12</text>
<line x1="1338.8" y1="2343.6" x2="1338.8" y2="2351.1" stroke="#333333" stroke-width="2.6"/>
<text x="1347.0" y="2357.5" font-size="28.2" font-style="italic" text-anchor="end" transform="rotate(-90 1347.0 2357.5)">BCL6</text>
<line x1="1393.4" y1="2343.6" x2="1393.4" y2="2351.1" stroke="#333333" stroke-width="2.6"/>
<text x="1401.6" y="2357.5" font-size="28.2" font-style="italic" text-anchor="end" transform="rotate(-90 1401.6 2357.5)">CD14</text>
<line x1="1448.1" y1="2343.6" x2="1448.1" y2="2351.1" stroke="#333333" stroke-width="2.6"/>
<text x="1456.3" y="2357.5" font-size="28.2" font-style="italic" text-anchor="end" transform="rotate(-90 1456.3 2357.5)">DUSP6</text>
<line x1="1502.7" y1="2343.6" x2="1502.7" y2="2351.1" stroke="#333333" stroke-width="2.6"/>
<text x="1510.9" y="2357.5" font-size="28.2" font-style="italic" text-anchor="end" transform="rotate(-90 1510.9 2357.5)">ITGAM</text>
<line x1="1557.4" y1="2343.6" x2="1557.4" y2="2351.1" stroke="#333333" stroke-width="2.6"/>
<text x="1565.6" y="2357.5" font-size="28.2" font-style="italic" text-anchor="end" transform="rotate(-90 1565.6 2357.5)">S100A8</text>
<line x1="1612.0" y1="2343.6" x2="1612.0" y2="2351.1" stroke="#333333" stroke-width="2.6"/>
<text x="1620.2" y="2357.5" font-size="28.2" font-style="italic" text-anchor="end" transform="rotate(-90 1620.2 2357.5)">S100A9</text>
<rect x="1338.0" y="1768.0" width="261.2" height="44.0" fill="none" stroke="#1a1a1a" stroke-width="2.2"/>
<text x="0" y="0" font-size="34" text-anchor="middle" transform="translate(1468.6 1801.0) scale(1 1.045)">MLL-rearranged</text>
<text x="1313.2" y="2020.0" font-size="31" font-weight="bold" font-family="DejaVu Sans, sans-serif" letter-spacing="2.3">***</text>
<text x="1367.1" y="1922.5" font-size="31" font-weight="bold" font-family="DejaVu Sans, sans-serif" letter-spacing="2.3">***</text>
<text x="1420.2" y="1970.2" font-size="31" font-weight="bold" font-family="DejaVu Sans, sans-serif" letter-spacing="2.3">***</text>
<text x="1474.9" y="2062.1" font-size="31" font-weight="bold" font-family="DejaVu Sans, sans-serif" letter-spacing="2.3">***</text>
<text x="1531.4" y="2000.7" font-size="31" font-weight="bold" font-family="DejaVu Sans, sans-serif" letter-spacing="2.3">***</text>
<text x="1584.6" y="1852.8" font-size="31" font-weight="bold" font-family="DejaVu Sans, sans-serif" letter-spacing="2.3">***</text>
<rect x="312.0" y="1708.8" width="310.8" height="44.4" fill="none" stroke="#1a1a1a" stroke-width="2.2"/>
<text x="0" y="0" font-size="34" text-anchor="middle" transform="translate(467.4 1742.8) scale(1 1.045)">Positive correlation</text>
<rect x="1115.2" y="1710.0" width="314.8" height="44.8" fill="none" stroke="#1a1a1a" stroke-width="2.2"/>
<text x="0" y="0" font-size="34" text-anchor="middle" transform="translate(1272.6 1743.8) scale(1 1.045)">Negative correlation</text>
<text x="27.4" y="2089.4" font-size="31.1" text-anchor="middle" transform="rotate(-90 27.4 2089.4)">Relative expression levels (Log<tspan font-size="19.5" dy="10.5">2</tspan><tspan dy="-10.5">)</tspan></text>
<line x1="1677.4" y1="2049.0" x2="1677.4" y2="2056.0" stroke="#e41a1c" stroke-width="1.6"/>
<line x1="1677.4" y1="2076.0" x2="1677.4" y2="2083.0" stroke="#e41a1c" stroke-width="1.6"/>
<rect x="1662.0" y="2056.0" width="30.8" height="20.0" fill="none" stroke="#e41a1c" stroke-width="2"/>
<line x1="1662.0" y1="2066.0" x2="1692.8" y2="2066.0" stroke="#e41a1c" stroke-width="2"/>
<circle cx="1677.4" cy="2066.0" r="2.6" fill="#ef5b45"/>
<text x="0" y="0" font-size="31" transform="translate(1698.0 2074.8) scale(1 1.045)">High</text>
<line x1="1677.4" y1="2089.0" x2="1677.4" y2="2096.0" stroke="#377eb8" stroke-width="1.6"/>
<line x1="1677.4" y1="2116.0" x2="1677.4" y2="2123.0" stroke="#377eb8" stroke-width="1.6"/>
<rect x="1662.0" y="2096.0" width="30.8" height="20.0" fill="none" stroke="#377eb8" stroke-width="2"/>
<line x1="1662.0" y1="2106.0" x2="1692.8" y2="2106.0" stroke="#377eb8" stroke-width="2"/>
<circle cx="1677.4" cy="2106.0" r="2.6" fill="#5b8fcf"/>
<text x="0" y="0" font-size="31" transform="translate(1698.0 2114.8) scale(1 1.045)">Low</text>
</svg></body></html>
